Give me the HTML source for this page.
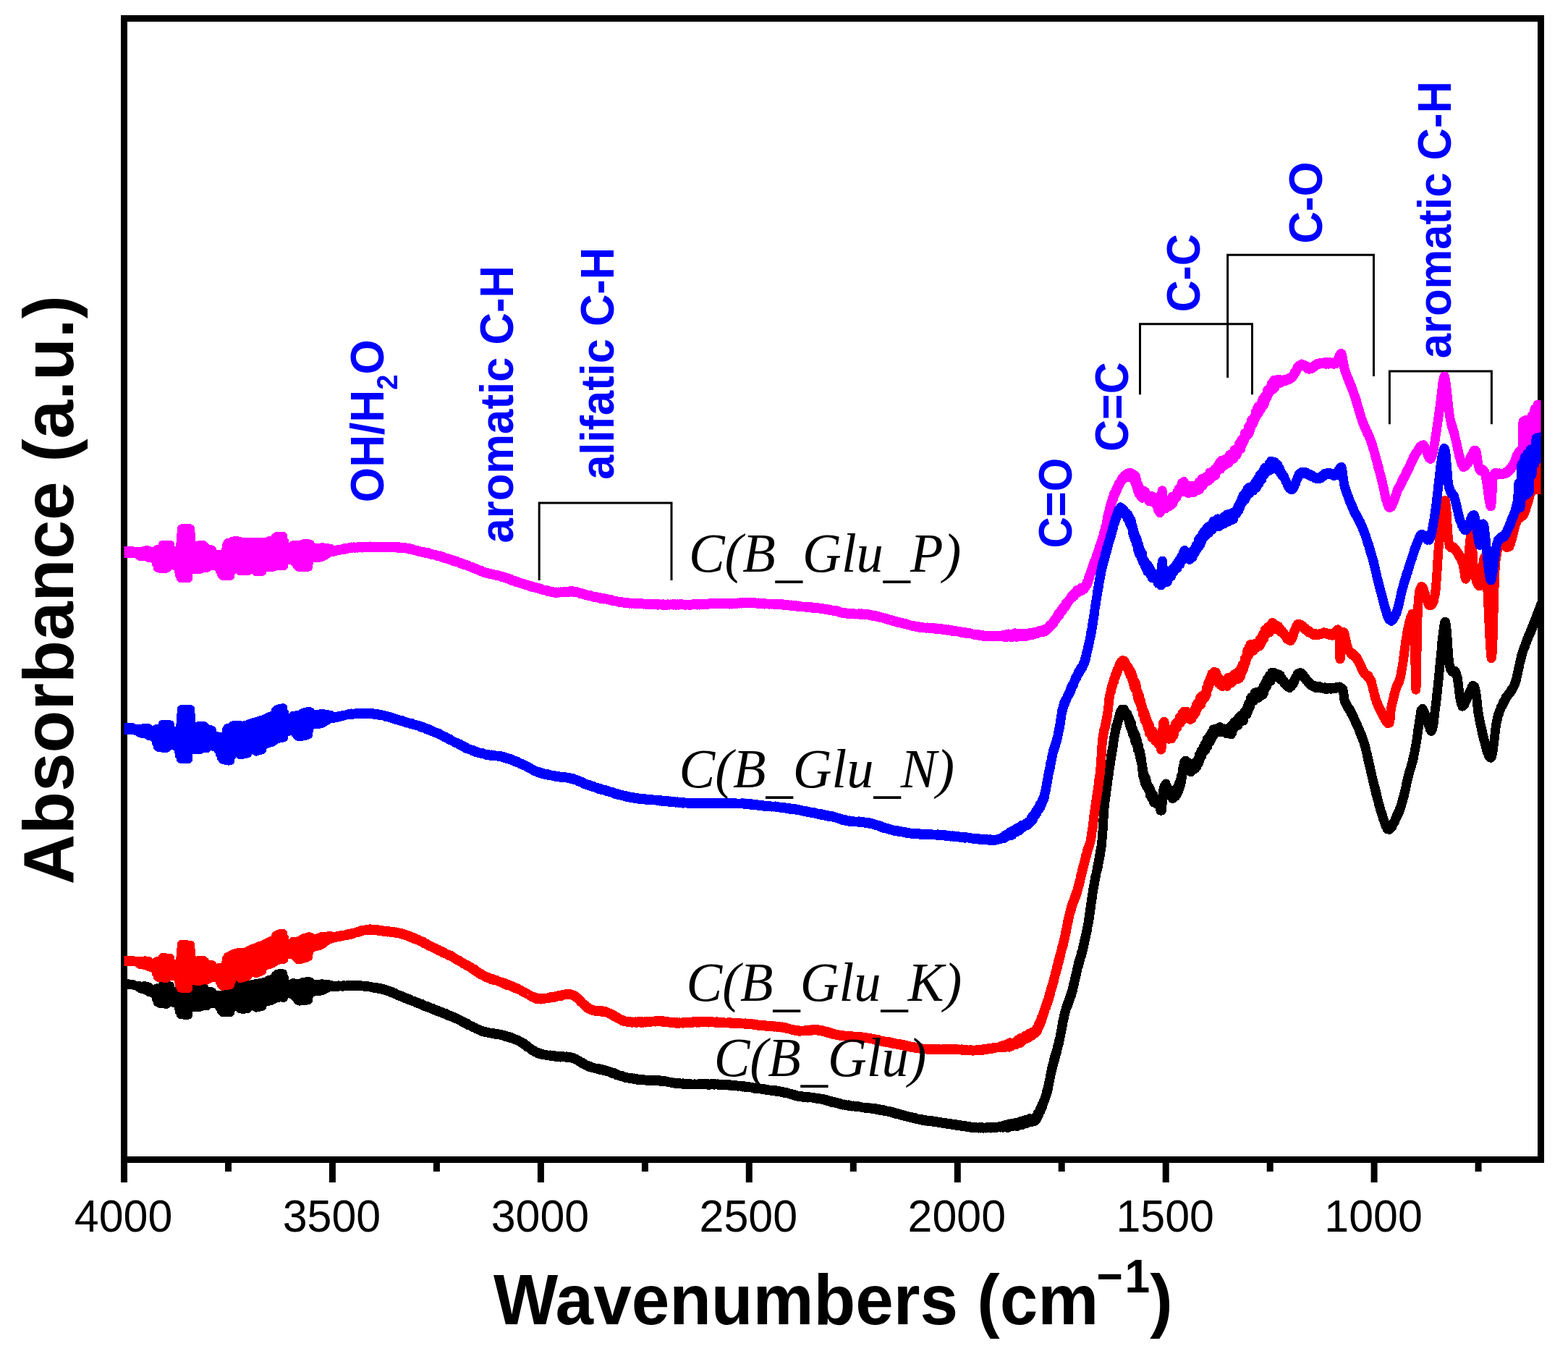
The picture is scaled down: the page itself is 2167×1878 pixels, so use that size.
<!DOCTYPE html>
<html><head><meta charset="utf-8"><title>FTIR spectra</title><style>html,body{margin:0;padding:0;background:#fff;overflow:hidden;}svg{display:block;}</style></head><body>
<svg width="2167" height="1878" viewBox="0 0 2167 1878">
<rect width="2167" height="1878" fill="#fff"/>
<defs><clipPath id="pc"><rect x="171.5" y="0" width="1958.0" height="1878"/></clipPath></defs>
<rect x="171.5" y="25.5" width="1958.0" height="1577.0" fill="none" stroke="#000" stroke-width="9"/>
<path d="M171.5 1602.5V1634.0M315.5 1602.5V1619.0M459.4 1602.5V1634.0M603.4 1602.5V1619.0M747.4 1602.5V1634.0M891.4 1602.5V1619.0M1035.3 1602.5V1634.0M1179.3 1602.5V1619.0M1323.3 1602.5V1634.0M1467.2 1602.5V1619.0M1611.2 1602.5V1634.0M1755.2 1602.5V1619.0M1899.1 1602.5V1634.0M2043.1 1602.5V1619.0" stroke="#000" stroke-width="9" fill="none"/>
<path d="M745.2 802V695H928V802M1575.5 545.3V447.7H1730.5V545.3M1696.6 522V352.3H1898.5V520M1920.4 586.3V512.9H2061.4V586.3" stroke="#000" stroke-width="3" fill="none"/>
<g clip-path="url(#pc)" fill="none" stroke-width="12.8" stroke-linejoin="round" stroke-linecap="round" shape-rendering="crispEdges">
<path d="M171.0 1359.0L172.0 1359.6L173.0 1359.2L174.0 1359.8L175.0 1359.4L176.0 1360.1L177.0 1359.7L178.0 1360.3L179.0 1359.9L180.0 1360.5L181.0 1360.1L182.0 1360.7L183.0 1360.3L184.0 1361.2L185.0 1361.1L186.0 1361.7L187.0 1361.9L188.0 1362.0L189.0 1362.1L190.0 1362.6L191.0 1362.4L192.0 1364.5L193.0 1362.6L194.0 1366.0L195.0 1362.9L196.0 1366.5L197.0 1363.1L198.0 1367.0L199.0 1362.7L200.0 1367.5L201.0 1362.8L202.0 1368.0L203.0 1363.3L204.0 1369.4L205.0 1363.8L206.0 1370.7L207.0 1365.8L208.0 1371.2L209.0 1368.0L210.0 1371.7L211.0 1368.7L212.0 1372.2L213.0 1369.2L214.0 1374.9L215.0 1366.4L216.0 1380.1L217.0 1365.8L218.0 1385.2L219.0 1366.2L220.0 1386.2L221.0 1366.4L222.0 1386.5L223.0 1365.0L224.0 1386.7L225.0 1361.4L226.0 1387.0L227.0 1361.7L228.0 1387.3L229.0 1361.9L230.0 1387.5L231.0 1362.2L232.0 1386.2L233.0 1362.4L234.0 1381.4L235.0 1362.7L236.0 1381.7L237.0 1370.3L238.0 1383.7L239.0 1373.4L240.0 1385.5L241.0 1371.9L242.0 1385.8L243.0 1370.5L244.0 1386.0L245.0 1370.7L246.0 1386.3L247.0 1370.9L248.0 1397.7L249.0 1364.7L250.0 1401.8L251.0 1345.9L252.0 1402.1L253.0 1346.2L254.0 1402.3L255.0 1346.4L256.0 1402.4L257.0 1346.4L258.0 1402.4L259.0 1346.3L260.0 1402.3L261.0 1346.3L262.0 1387.9L263.0 1346.3L264.0 1387.8L265.0 1363.5L266.0 1387.8L267.0 1369.0L268.0 1391.7L269.0 1368.9L270.0 1391.6L271.0 1368.5L272.0 1391.6L273.0 1366.8L274.0 1391.6L275.0 1365.5L276.0 1391.5L277.0 1365.5L278.0 1390.9L279.0 1365.4L280.0 1389.8L281.0 1365.4L282.0 1389.8L283.0 1366.7L284.0 1389.7L285.0 1370.3L286.0 1389.7L287.0 1370.3L288.0 1386.9L289.0 1370.3L290.0 1386.9L291.0 1370.2L292.0 1386.8L293.0 1370.8L294.0 1386.8L295.0 1375.0L296.0 1386.7L297.0 1375.7L298.0 1386.7L299.0 1375.6L300.0 1386.6L301.0 1375.6L302.0 1389.3L303.0 1375.5L304.0 1393.0L305.0 1375.5L306.0 1396.7L307.0 1377.5L308.0 1398.7L309.0 1378.5L310.0 1398.6L311.0 1374.2L312.0 1398.6L313.0 1364.9L314.0 1398.5L315.0 1361.9L316.0 1398.6L317.0 1362.1L318.0 1398.7L319.0 1362.1L320.0 1393.7L321.0 1360.5L322.0 1387.4L323.0 1360.3L324.0 1387.5L325.0 1360.5L326.0 1387.7L327.0 1360.6L328.0 1387.8L329.0 1360.8L330.0 1391.3L331.0 1361.1L332.0 1394.1L333.0 1362.4L334.0 1394.2L335.0 1362.6L336.0 1394.2L337.0 1362.6L338.0 1394.3L339.0 1362.7L340.0 1394.1L341.0 1362.3L342.0 1393.7L343.0 1362.0L344.0 1390.9L345.0 1361.3L346.0 1389.1L347.0 1360.7L348.0 1388.8L349.0 1360.3L350.0 1388.4L351.0 1360.0L352.0 1391.2L353.0 1359.6L354.0 1392.2L355.0 1359.3L356.0 1391.8L357.0 1358.9L358.0 1391.4L359.0 1358.6L360.0 1391.1L361.0 1358.2L362.0 1390.6L363.0 1357.8L364.0 1386.3L365.0 1357.3L366.0 1384.7L367.0 1356.7L368.0 1384.2L369.0 1356.0L370.0 1383.6L371.0 1354.6L372.0 1383.2L373.0 1354.1L374.0 1382.7L375.0 1353.6L376.0 1382.2L377.0 1353.2L378.0 1381.2L379.0 1352.5L380.0 1379.6L381.0 1347.8L382.0 1379.1L383.0 1346.2L384.0 1378.7L385.0 1345.7L386.0 1378.2L387.0 1345.3L388.0 1377.9L389.0 1345.3L390.0 1378.2L391.0 1345.7L392.0 1378.4L393.0 1351.9L394.0 1373.6L395.0 1361.3L396.0 1372.5L397.0 1361.6L398.0 1372.8L399.0 1361.9L400.0 1373.1L401.0 1362.2L402.0 1373.5L403.0 1361.5L404.0 1373.8L405.0 1358.5L406.0 1375.1L407.0 1358.8L408.0 1377.6L409.0 1359.1L410.0 1380.0L411.0 1359.4L412.0 1382.4L413.0 1359.4L414.0 1383.2L415.0 1359.2L416.0 1383.0L417.0 1358.1L418.0 1382.8L419.0 1357.2L420.0 1382.6L421.0 1357.0L422.0 1382.4L423.0 1356.8L424.0 1382.2L425.0 1356.7L426.0 1381.7L427.0 1356.5L428.0 1373.0L429.0 1357.2L430.0 1370.6L431.0 1360.9L432.0 1370.4L433.0 1360.9L434.0 1370.2L435.0 1360.7L436.0 1370.0L437.0 1360.6L438.0 1370.0L439.0 1360.6L440.0 1370.0L441.0 1360.4L442.0 1369.6L443.0 1360.0L444.0 1369.1L445.0 1359.6L446.0 1368.4L447.0 1359.9L448.0 1367.3L449.0 1360.1L450.0 1366.3L451.0 1360.4L452.0 1365.2L453.0 1360.6L454.0 1364.1L455.0 1360.8L456.0 1363.1L457.0 1361.1L458.0 1363.9L460.0 1362.4L461.0 1364.1L462.1 1362.7L463.4 1363.7L464.8 1362.3L466.4 1363.6L468.0 1361.9L469.7 1363.0L471.5 1362.2L473.3 1363.3L475.1 1361.7L477.0 1363.0L478.8 1361.8L480.6 1362.7L482.3 1361.2L484.0 1362.5L485.6 1361.0L487.2 1362.9L488.9 1361.7L490.5 1362.4L492.1 1361.4L493.8 1363.1L495.4 1361.7L497.1 1362.8L498.7 1361.8L500.3 1362.8L502.0 1362.2L503.6 1363.4L505.2 1362.3L506.9 1363.6L508.5 1362.8L510.1 1364.0L511.7 1363.1L513.4 1364.4L515.0 1363.9L516.6 1365.3L518.2 1364.0L519.8 1365.7L521.4 1364.8L523.0 1366.6L524.7 1365.0L526.3 1366.7L527.9 1366.1L529.5 1367.9L531.1 1366.7L532.7 1369.0L534.2 1367.9L535.7 1369.9L537.2 1368.8L538.7 1370.6L540.2 1370.0L541.7 1372.2L543.2 1371.0L544.8 1373.2L546.3 1372.5L547.8 1374.2L549.3 1374.1L550.8 1376.1L552.3 1375.3L553.8 1377.0L555.3 1376.5L556.8 1378.6L558.3 1377.6L559.8 1379.6L561.3 1379.0L562.8 1380.9L564.4 1380.0L565.9 1382.1L567.4 1381.5L568.9 1383.3L570.4 1383.0L571.9 1384.2L573.4 1383.7L575.0 1386.1L576.5 1385.0L578.0 1386.9L579.5 1386.5L581.0 1388.2L582.5 1387.1L584.0 1389.5L585.5 1388.6L587.0 1390.8L588.5 1390.0L590.0 1391.7L591.5 1390.7L593.0 1392.9L594.5 1392.2L596.0 1393.9L597.5 1393.3L599.0 1395.6L600.5 1394.9L602.0 1396.6L603.5 1395.5L605.0 1397.9L606.5 1396.8L608.0 1399.1L609.5 1398.1L611.0 1400.1L612.5 1399.4L614.0 1400.9L615.5 1400.2L617.0 1402.4L618.5 1401.9L620.0 1403.6L621.5 1402.9L623.0 1404.7L624.5 1404.3L626.0 1406.1L627.5 1405.4L629.0 1407.5L630.4 1406.8L631.9 1408.5L633.4 1408.4L634.9 1410.0L636.4 1409.7L638.0 1412.0L639.5 1411.1L641.0 1413.5L642.5 1412.6L644.0 1414.7L645.5 1414.1L646.9 1416.5L648.4 1416.1L649.7 1417.4L651.1 1417.5L652.4 1419.2L653.6 1418.5L655.4 1420.2L657.0 1419.9L658.5 1421.9L659.8 1421.7L661.2 1423.1L662.5 1422.6L663.8 1424.3L665.2 1423.9L666.7 1425.7L668.3 1424.9L670.0 1426.5L671.4 1425.7L672.8 1427.0L674.3 1426.4L675.9 1427.9L677.4 1427.1L679.1 1428.2L680.7 1427.2L682.4 1429.0L684.0 1428.2L685.7 1429.6L687.4 1428.3L689.1 1429.8L690.7 1429.5L692.4 1430.6L694.0 1429.8L695.6 1431.4L697.2 1430.7L698.8 1432.7L700.4 1431.7L702.0 1433.3L703.6 1432.4L705.2 1434.7L706.8 1433.7L708.4 1435.4L710.0 1434.8L711.6 1436.7L713.2 1436.1L714.8 1438.0L716.4 1437.5L718.0 1439.3L719.3 1439.2L720.7 1441.5L722.1 1440.4L723.4 1442.7L724.8 1442.2L726.1 1444.6L727.5 1444.1L728.9 1446.9L730.2 1446.5L731.6 1448.5L733.0 1448.7L734.3 1450.9L735.7 1450.6L737.1 1452.7L738.4 1451.7L739.8 1454.1L741.1 1453.7L742.5 1455.6L744.1 1454.4L745.7 1456.7L747.4 1455.8L749.0 1457.4L750.6 1456.7L752.2 1458.0L753.8 1457.1L755.4 1458.7L757.0 1457.9L758.6 1458.9L760.2 1458.0L761.9 1459.5L763.5 1458.5L765.1 1459.9L766.7 1458.7L768.3 1460.7L769.9 1459.7L771.6 1460.5L773.2 1459.6L774.8 1461.2L776.4 1459.4L778.1 1460.9L779.7 1459.9L781.3 1461.2L782.9 1459.7L784.5 1461.7L786.2 1460.4L787.8 1462.1L789.4 1460.8L791.0 1462.6L792.5 1461.5L794.0 1463.5L795.5 1462.9L797.0 1464.8L798.5 1464.8L800.0 1467.0L801.5 1466.5L803.0 1468.6L804.5 1467.9L806.0 1470.4L807.5 1469.8L809.0 1471.7L810.5 1471.5L812.0 1473.6L813.5 1472.7L815.0 1475.0L816.6 1473.6L818.2 1475.5L819.8 1474.9L821.4 1476.3L823.0 1476.0L824.6 1477.1L826.2 1476.1L827.8 1478.2L829.4 1476.8L831.0 1478.6L832.6 1477.6L834.2 1479.6L835.8 1478.6L837.4 1480.2L839.0 1479.5L840.5 1480.8L842.0 1480.5L843.6 1482.4L845.1 1481.4L846.6 1483.6L848.1 1482.6L849.7 1484.3L851.2 1483.6L852.7 1485.9L854.2 1485.3L855.8 1487.0L857.3 1486.4L858.8 1487.6L860.4 1486.8L861.9 1488.5L863.4 1488.1L865.0 1490.0L866.6 1488.8L868.3 1490.1L869.9 1489.6L871.5 1490.7L873.1 1489.7L874.7 1491.1L876.3 1490.0L877.9 1491.7L879.5 1490.4L881.2 1492.5L882.8 1491.2L884.4 1492.4L886.0 1491.4L887.6 1492.6L889.2 1491.6L890.8 1492.8L892.4 1492.2L894.1 1493.6L895.7 1492.2L897.3 1493.5L898.9 1492.2L900.5 1493.3L902.1 1492.5L903.7 1493.9L905.3 1492.0L907.0 1494.0L908.6 1492.8L910.2 1493.7L911.8 1492.7L913.4 1494.6L915.0 1493.1L916.6 1494.8L918.3 1493.5L919.9 1495.0L921.5 1494.1L923.1 1495.6L924.7 1494.9L926.3 1496.0L927.9 1495.4L929.6 1497.1L931.2 1495.8L932.8 1497.4L934.4 1496.1L936.0 1498.0L937.6 1496.6L939.2 1497.8L940.8 1496.9L942.4 1498.1L944.0 1496.8L945.6 1498.7L947.2 1497.3L948.8 1498.4L950.4 1497.3L952.0 1498.8L953.6 1497.4L955.2 1498.6L956.8 1497.9L958.4 1498.7L960.0 1497.9L961.6 1499.0L963.2 1498.0L964.8 1498.7L966.4 1497.6L968.0 1498.9L969.6 1497.5L971.2 1499.0L972.8 1497.4L974.4 1498.7L976.0 1497.6L977.6 1499.1L979.2 1497.9L980.8 1499.2L982.4 1497.8L984.0 1499.1L985.6 1497.4L987.2 1499.3L988.9 1497.9L990.5 1498.9L992.1 1497.9L993.8 1499.6L995.4 1498.2L997.1 1499.7L998.7 1498.5L1000.3 1499.9L1002.0 1498.7L1003.6 1499.7L1005.2 1498.3L1006.9 1500.2L1008.5 1498.6L1010.1 1500.5L1011.7 1498.9L1013.4 1500.7L1015.0 1499.6L1016.6 1500.8L1018.2 1499.9L1019.8 1501.3L1021.4 1499.9L1023.0 1501.3L1024.7 1500.7L1026.3 1502.2L1027.9 1500.5L1029.5 1502.3L1031.1 1501.1L1032.7 1502.9L1034.3 1501.6L1035.9 1503.0L1037.5 1502.1L1039.1 1503.3L1040.7 1502.8L1042.3 1504.1L1043.9 1503.0L1045.6 1504.5L1047.2 1503.7L1048.8 1504.8L1050.4 1504.1L1052.0 1505.2L1053.6 1504.5L1055.2 1506.1L1056.8 1504.9L1058.4 1506.3L1060.0 1505.2L1061.6 1506.6L1063.3 1506.1L1064.9 1507.2L1066.5 1506.1L1068.1 1507.7L1069.7 1506.6L1071.3 1508.2L1072.9 1506.8L1074.6 1508.4L1076.2 1507.5L1077.8 1509.0L1079.4 1508.2L1081.0 1509.6L1082.6 1508.6L1084.2 1510.6L1085.8 1509.2L1087.4 1511.0L1089.0 1510.2L1090.6 1511.7L1092.2 1511.5L1093.8 1512.9L1095.4 1511.8L1097.0 1513.6L1098.6 1512.7L1100.2 1514.9L1101.8 1513.8L1103.4 1515.5L1105.0 1514.1L1106.6 1515.8L1108.2 1514.7L1109.9 1516.5L1111.5 1515.1L1113.1 1516.9L1114.7 1515.2L1116.4 1517.2L1118.0 1515.7L1119.6 1516.9L1121.3 1516.1L1122.9 1517.2L1124.5 1516.2L1126.2 1517.9L1127.8 1517.0L1129.4 1518.4L1131.0 1517.1L1132.7 1518.8L1134.4 1518.0L1136.1 1519.4L1137.8 1518.6L1139.5 1520.2L1141.2 1519.3L1142.8 1521.6L1144.5 1520.5L1146.1 1522.1L1147.7 1521.1L1149.3 1523.5L1150.8 1522.5L1152.2 1524.1L1153.6 1522.7L1155.5 1524.8L1157.2 1523.7L1158.8 1525.5L1160.3 1524.3L1161.8 1526.6L1163.2 1525.4L1164.7 1527.2L1166.3 1526.0L1168.0 1527.4L1170.0 1526.8L1171.4 1527.9L1172.9 1526.8L1174.4 1528.9L1176.0 1527.8L1177.7 1529.1L1179.4 1528.0L1181.1 1529.2L1182.8 1528.5L1184.6 1529.7L1186.3 1528.6L1188.1 1529.9L1189.8 1529.4L1191.6 1530.7L1193.3 1530.0L1195.0 1531.2L1196.7 1530.0L1198.4 1531.8L1200.0 1530.7L1201.7 1531.9L1203.4 1530.9L1205.1 1532.3L1206.8 1531.3L1208.4 1532.7L1210.1 1531.7L1211.8 1533.6L1213.5 1532.1L1215.2 1534.3L1216.8 1532.9L1218.5 1534.5L1220.2 1533.3L1221.8 1535.4L1223.3 1534.2L1224.9 1535.8L1226.5 1535.1L1228.0 1536.4L1229.6 1535.5L1231.2 1537.2L1232.8 1536.4L1234.3 1538.3L1235.9 1537.0L1237.5 1539.3L1239.0 1537.9L1240.6 1539.7L1242.2 1539.0L1243.7 1540.8L1245.3 1540.0L1246.9 1541.6L1248.4 1540.8L1250.0 1542.4L1251.6 1541.8L1253.2 1543.2L1254.7 1542.4L1256.3 1543.9L1257.9 1543.2L1259.5 1545.1L1261.1 1543.8L1262.6 1545.7L1264.2 1544.6L1265.8 1546.3L1267.4 1545.7L1268.9 1546.8L1270.5 1546.3L1272.2 1547.8L1273.9 1546.5L1275.5 1548.6L1277.2 1547.3L1278.9 1549.2L1280.5 1547.9L1282.2 1549.6L1283.9 1548.4L1285.6 1550.0L1287.2 1548.4L1288.9 1550.2L1290.6 1549.5L1292.3 1550.9L1293.9 1549.7L1295.6 1551.2L1297.3 1550.5L1298.9 1551.7L1300.6 1550.7L1302.3 1552.2L1304.0 1550.9L1305.6 1552.8L1307.3 1551.5L1309.0 1553.5L1310.7 1552.0L1312.3 1553.7L1314.0 1552.5L1315.7 1554.3L1317.4 1553.1L1319.0 1554.8L1320.7 1553.7L1322.4 1555.3L1324.0 1554.1L1325.7 1556.1L1327.4 1554.5L1329.1 1556.6L1330.7 1555.1L1332.4 1557.1L1334.1 1555.8L1335.8 1557.3L1337.4 1556.6L1339.1 1558.1L1340.8 1556.6L1342.4 1558.4L1344.1 1557.5L1345.8 1558.9L1347.5 1557.5L1349.2 1558.8L1350.8 1557.9L1352.5 1559.0L1354.2 1557.5L1355.9 1559.0L1357.6 1557.8L1359.2 1559.1L1360.9 1558.0L1362.6 1559.0L1364.3 1557.3L1366.0 1559.0L1367.6 1557.6L1369.3 1558.9L1371.0 1557.3L1372.7 1558.4L1374.3 1557.4L1376.0 1558.7L1377.7 1557.1L1379.3 1557.9L1381.0 1556.4L1382.7 1558.2L1384.3 1556.2L1386.0 1558.3L1387.7 1554.9L1389.3 1557.7L1391.0 1554.2L1392.7 1558.6L1394.3 1552.9L1396.0 1557.3L1397.6 1552.8L1399.2 1556.6L1400.9 1552.3L1402.5 1555.8L1404.2 1551.0L1405.9 1556.7L1407.6 1551.3L1409.3 1554.4L1410.9 1548.9L1412.5 1554.7L1414.1 1548.4L1415.6 1552.2L1417.1 1547.4L1418.5 1552.7L1419.8 1547.9L1421.0 1551.4L1423.0 1545.7L1424.7 1551.1L1426.2 1546.2L1427.5 1549.9L1428.7 1545.3L1429.9 1549.5L1431.1 1542.9L1432.4 1546.9L1433.7 1539.0L1434.3 1543.3L1435.0 1538.0L1435.6 1540.8L1436.3 1536.0L1437.0 1537.3L1437.6 1532.0L1438.3 1534.9L1438.9 1529.0L1439.6 1531.5L1440.3 1526.0L1440.9 1529.1L1441.6 1523.7L1442.2 1524.5L1442.8 1520.2L1443.4 1521.7L1444.0 1517.4L1444.6 1517.7L1445.1 1514.1L1445.7 1515.0L1446.2 1509.3L1446.6 1511.2L1447.1 1507.8L1447.5 1509.1L1447.8 1503.4L1448.2 1506.4L1448.6 1500.6L1448.9 1502.2L1449.2 1497.1L1449.5 1498.7L1449.9 1494.2L1450.2 1495.4L1450.5 1491.5L1450.8 1492.9L1451.1 1488.2L1451.4 1489.1L1451.7 1485.2L1452.0 1486.9L1452.3 1481.5L1452.7 1483.2L1453.0 1478.7L1453.4 1480.2L1453.8 1475.2L1454.2 1476.8L1454.6 1471.1L1455.0 1474.4L1455.4 1469.5L1455.8 1471.0L1456.2 1465.0L1456.6 1467.0L1457.0 1462.7L1457.5 1464.3L1457.9 1458.6L1458.4 1460.9L1458.8 1455.5L1459.2 1458.3L1459.7 1453.6L1460.1 1455.4L1460.6 1450.7L1461.0 1450.9L1461.4 1446.4L1461.8 1447.6L1462.2 1443.7L1462.6 1444.5L1463.0 1440.4L1463.4 1442.6L1463.8 1436.5L1464.2 1438.0L1464.5 1434.8L1464.8 1436.2L1465.2 1431.6L1465.5 1432.0L1465.8 1428.2L1466.1 1428.5L1466.4 1425.1L1466.7 1426.2L1467.0 1420.6L1467.3 1423.0L1467.6 1417.2L1467.9 1419.7L1468.2 1414.8L1468.5 1416.5L1468.8 1410.6L1469.1 1413.3L1469.4 1408.7L1469.7 1409.2L1470.0 1404.5L1470.4 1407.1L1470.7 1402.5L1471.0 1404.2L1471.4 1399.3L1471.9 1400.9L1472.4 1396.7L1472.9 1397.2L1473.4 1392.7L1473.9 1393.7L1474.5 1388.8L1475.0 1391.0L1475.6 1386.0L1476.1 1388.4L1476.7 1382.9L1477.2 1385.4L1477.8 1379.9L1478.3 1381.6L1478.9 1376.4L1479.4 1378.4L1479.9 1373.4L1480.4 1376.5L1480.9 1370.4L1481.4 1371.8L1481.8 1368.5L1482.3 1370.0L1482.7 1364.6L1483.1 1365.9L1483.5 1360.4L1483.9 1362.0L1484.2 1357.9L1484.6 1359.4L1485.0 1355.2L1485.4 1355.9L1485.7 1350.8L1486.1 1353.4L1486.4 1348.7L1486.8 1349.5L1487.2 1345.3L1487.5 1346.7L1487.9 1342.1L1488.3 1342.2L1488.6 1338.4L1489.0 1340.3L1489.4 1335.3L1489.9 1335.8L1490.3 1331.1L1490.8 1333.8L1491.2 1327.8L1491.7 1329.8L1492.1 1325.5L1492.5 1326.6L1493.0 1322.2L1493.4 1323.7L1493.9 1319.4L1494.3 1321.3L1494.7 1315.2L1495.2 1317.7L1495.6 1313.3L1496.1 1314.4L1496.5 1309.2L1496.8 1311.8L1497.2 1305.8L1497.5 1308.6L1497.9 1303.0L1498.2 1305.2L1498.5 1299.8L1498.9 1302.8L1499.2 1297.9L1499.6 1298.7L1499.9 1294.7L1500.2 1296.2L1500.6 1292.1L1500.9 1292.8L1501.3 1288.0L1501.6 1289.0L1502.0 1284.3L1502.3 1286.6L1502.6 1281.7L1503.0 1282.5L1503.3 1278.0L1503.7 1278.8L1504.0 1273.5L1504.2 1275.8L1504.5 1271.1L1504.7 1272.3L1505.0 1267.4L1505.2 1269.5L1505.5 1265.3L1505.7 1265.9L1505.9 1260.9L1506.2 1263.3L1506.4 1257.7L1506.7 1260.7L1506.9 1254.2L1507.1 1257.1L1507.4 1250.8L1507.6 1253.8L1507.9 1247.6L1508.1 1249.0L1508.4 1244.6L1508.6 1246.3L1508.8 1240.3L1509.1 1243.2L1509.3 1237.4L1509.6 1239.8L1509.8 1234.7L1510.0 1236.9L1510.3 1231.0L1510.5 1232.7L1510.8 1228.2L1511.0 1230.7L1511.3 1225.1L1511.5 1226.3L1511.8 1222.4L1512.2 1223.5L1512.5 1218.0L1512.8 1220.2L1513.2 1215.0L1513.5 1215.8L1513.9 1210.6L1514.2 1211.7L1514.6 1208.3L1514.9 1209.2L1515.3 1204.7L1515.6 1205.2L1516.0 1201.5L1516.3 1203.0L1516.6 1197.9L1517.0 1198.9L1517.3 1195.6L1517.6 1197.2L1517.9 1191.6L1518.2 1193.1L1518.5 1188.3L1518.7 1189.9L1519.0 1186.3L1519.3 1188.1L1519.6 1182.1L1519.9 1183.7L1520.2 1178.6L1520.5 1181.2L1520.7 1175.6L1521.0 1178.8L1521.2 1173.6L1521.4 1175.6L1521.6 1170.5L1521.9 1173.1L1522.1 1167.0L1522.3 1169.6L1522.5 1163.7L1522.7 1166.5L1522.9 1160.9L1523.1 1161.1L1523.2 1156.6L1523.3 1159.4L1523.5 1154.2L1523.6 1156.0L1523.7 1151.5L1523.8 1153.7L1523.9 1147.7L1524.0 1150.1L1524.1 1145.9L1524.2 1147.3L1524.3 1141.9L1524.4 1142.9L1524.4 1138.8L1524.5 1140.4L1524.6 1135.9L1524.7 1135.9L1524.8 1132.0L1524.9 1133.8L1525.0 1127.7L1525.2 1130.5L1525.3 1124.6L1525.4 1126.3L1525.5 1121.1L1525.6 1122.8L1525.8 1117.7L1525.9 1119.9L1526.1 1113.6L1526.2 1115.9L1526.4 1110.9L1526.6 1112.5L1526.8 1108.2L1527.0 1109.5L1527.2 1104.4L1527.4 1106.2L1527.6 1100.4L1527.8 1102.2L1528.0 1097.6L1528.2 1100.2L1528.5 1094.0L1528.7 1096.0L1528.9 1091.2L1529.2 1092.4L1529.4 1086.8L1529.6 1089.8L1529.9 1083.9L1530.1 1086.5L1530.3 1080.2L1530.6 1083.2L1530.8 1077.9L1531.0 1079.3L1531.3 1074.1L1531.5 1076.1L1531.7 1071.1L1531.9 1073.3L1532.1 1068.9L1532.3 1070.4L1532.5 1066.5L1532.8 1066.9L1533.1 1062.1L1533.3 1062.5L1533.6 1058.8L1533.8 1059.4L1534.1 1054.2L1534.3 1056.6L1534.5 1052.0L1534.8 1054.2L1535.0 1048.9L1535.2 1050.3L1535.5 1045.0L1535.7 1047.5L1535.9 1042.6L1536.2 1044.7L1536.4 1039.4L1536.7 1041.5L1536.9 1036.3L1537.2 1038.7L1537.5 1032.6L1537.7 1033.8L1538.0 1030.3L1538.2 1032.0L1538.5 1026.7L1538.7 1026.9L1539.0 1023.2L1539.2 1024.3L1539.5 1018.6L1539.7 1020.7L1540.0 1015.6L1540.3 1018.1L1540.6 1013.4L1540.9 1014.5L1541.2 1008.6L1541.6 1011.2L1541.9 1006.3L1542.3 1007.8L1542.7 1002.6L1543.2 1005.5L1543.8 1000.1L1544.3 1000.5L1544.9 995.1L1545.5 996.2L1546.1 991.1L1546.7 991.2L1547.4 986.7L1548.1 987.7L1548.8 982.4L1549.5 985.4L1550.3 980.1L1551.1 983.5L1551.9 980.4L1552.8 983.0L1553.3 980.1L1553.9 983.8L1554.4 981.7L1555.0 986.6L1555.7 984.2L1556.3 989.1L1557.0 986.6L1557.6 991.2L1558.3 987.3L1559.0 994.1L1559.7 991.3L1560.4 998.4L1561.1 993.3L1561.8 1004.3L1562.5 998.8L1563.1 1006.7L1563.8 999.9L1564.5 1011.0L1565.1 1006.2L1565.8 1015.7L1566.4 1009.3L1567.0 1018.0L1567.6 1014.0L1568.1 1023.4L1568.6 1014.4L1569.1 1026.0L1569.7 1016.2L1570.3 1026.8L1570.9 1021.6L1571.4 1031.0L1571.9 1024.1L1572.4 1036.1L1572.9 1029.7L1573.4 1037.0L1573.8 1030.9L1574.2 1040.8L1574.6 1036.5L1574.9 1043.0L1575.3 1037.8L1575.6 1047.7L1576.0 1039.0L1576.3 1050.3L1576.6 1043.3L1576.9 1051.5L1577.2 1046.9L1577.6 1055.4L1577.9 1049.6L1578.2 1059.0L1578.4 1055.1L1578.6 1062.8L1578.7 1057.3L1578.9 1065.9L1579.1 1059.8L1579.3 1068.3L1579.5 1061.8L1579.8 1073.6L1580.2 1066.5L1580.6 1074.1L1581.1 1070.5L1581.6 1079.9L1582.1 1072.3L1582.7 1083.7L1583.3 1074.5L1583.9 1084.8L1584.6 1079.3L1585.2 1087.9L1585.8 1083.9L1586.5 1090.2L1587.1 1086.3L1587.7 1092.8L1588.5 1088.3L1589.3 1098.9L1590.2 1091.8L1591.1 1102.3L1591.9 1096.6L1592.8 1103.5L1593.7 1098.2L1594.5 1109.2L1595.3 1101.4L1596.0 1107.8L1597.7 1105.8L1599.3 1111.6L1600.7 1104.7L1602.0 1112.2L1603.0 1109.6L1603.8 1120.2L1604.5 1111.7L1605.3 1120.2L1605.5 1111.9L1605.7 1119.0L1605.9 1111.7L1606.0 1115.1L1606.2 1107.7L1606.4 1110.9L1606.5 1100.9L1606.7 1108.4L1606.9 1099.6L1607.1 1101.5L1607.3 1092.4L1607.6 1097.5L1607.9 1090.3L1608.2 1094.7L1608.5 1088.4L1608.9 1091.3L1609.3 1086.2L1610.2 1091.6L1611.3 1082.9L1612.5 1094.3L1613.8 1088.6L1615.2 1098.0L1616.5 1092.2L1617.9 1100.7L1619.2 1094.6L1620.4 1103.8L1621.5 1094.4L1622.5 1102.2L1623.6 1091.6L1624.6 1100.4L1625.7 1089.3L1626.7 1097.6L1627.7 1086.9L1628.6 1093.2L1629.5 1082.2L1630.4 1088.5L1630.9 1079.0L1631.3 1085.8L1631.7 1076.6L1632.1 1083.9L1632.5 1072.0L1632.9 1078.6L1633.3 1070.5L1633.7 1074.4L1634.0 1065.9L1634.4 1069.2L1634.7 1060.9L1635.1 1066.8L1635.5 1058.1L1635.8 1062.3L1636.2 1054.0L1636.6 1060.6L1637.0 1052.3L1637.4 1057.2L1638.7 1050.9L1639.9 1059.8L1641.3 1053.2L1642.6 1063.7L1644.0 1056.1L1645.5 1066.8L1646.5 1057.0L1647.6 1062.9L1648.7 1057.0L1649.8 1063.7L1650.9 1055.2L1652.1 1061.9L1653.2 1052.3L1654.4 1058.6L1655.5 1048.7L1656.3 1055.5L1657.0 1043.5L1657.8 1050.7L1658.5 1040.5L1659.3 1047.0L1660.0 1037.6L1660.8 1044.7L1661.6 1036.1L1662.3 1040.4L1663.1 1032.1L1663.9 1037.8L1664.8 1028.7L1665.6 1037.0L1666.4 1026.0L1667.2 1030.7L1668.0 1021.6L1668.9 1031.5L1669.7 1019.8L1670.6 1026.2L1671.4 1017.1L1672.3 1025.3L1673.2 1014.6L1674.0 1022.1L1674.9 1011.4L1675.8 1018.2L1676.7 1007.9L1677.6 1016.2L1679.2 1007.1L1680.9 1012.6L1682.6 1006.3L1684.3 1011.7L1686.0 1004.7L1687.7 1011.2L1689.2 1007.3L1690.7 1011.5L1692.8 1006.9L1694.8 1013.7L1696.6 1007.1L1698.3 1013.6L1700.0 1004.3L1701.0 1015.1L1702.0 1004.0L1702.9 1012.5L1703.9 1000.7L1704.8 1007.4L1705.8 997.9L1706.8 1004.4L1708.0 996.0L1709.0 1002.5L1710.1 995.7L1711.2 1002.3L1712.4 990.6L1713.6 998.3L1714.8 988.7L1716.0 996.2L1717.2 987.1L1718.4 996.2L1719.6 983.6L1720.3 989.5L1721.0 982.5L1721.8 988.1L1722.5 980.2L1723.2 986.9L1723.9 976.3L1724.7 983.1L1725.4 972.2L1726.1 979.0L1726.8 971.3L1727.6 976.4L1728.3 964.7L1729.0 971.3L1729.7 963.0L1730.5 970.2L1731.2 962.1L1732.7 968.5L1734.1 956.9L1735.6 964.0L1737.0 956.1L1738.5 964.7L1740.0 955.4L1741.4 962.4L1742.9 953.6L1743.7 959.5L1744.6 952.8L1745.4 960.4L1746.2 948.4L1747.1 956.4L1747.9 945.8L1748.7 951.6L1749.5 942.2L1750.4 949.4L1751.2 937.9L1752.0 943.8L1752.8 936.1L1753.7 942.6L1754.5 933.3L1756.1 941.5L1757.7 929.1L1759.2 935.7L1760.7 929.3L1762.4 934.2L1764.1 930.8L1766.0 934.4L1767.0 931.8L1768.1 937.5L1769.2 933.1L1770.4 939.6L1771.6 937.3L1772.8 941.1L1774.0 940.0L1775.2 944.9L1776.5 943.5L1777.7 946.9L1778.9 946.6L1780.1 949.6L1781.2 947.7L1782.3 950.6L1783.4 947.7L1784.4 948.9L1785.4 946.3L1786.4 946.7L1787.3 942.0L1788.3 943.2L1789.2 938.6L1790.2 938.7L1791.2 935.2L1792.1 935.6L1793.1 931.3L1794.1 933.2L1795.1 930.2L1796.2 931.6L1797.3 929.6L1798.3 932.1L1799.4 930.5L1800.5 934.5L1801.6 932.9L1802.7 936.9L1803.8 935.9L1804.9 940.0L1806.1 939.3L1807.3 942.7L1808.5 942.1L1809.8 945.4L1811.1 944.7L1812.5 947.7L1814.0 946.4L1815.5 949.3L1817.1 947.6L1818.8 950.7L1820.5 948.7L1822.2 950.3L1824.0 948.6L1825.7 951.2L1827.5 949.8L1829.2 951.7L1830.9 949.8L1832.6 952.7L1834.2 950.0L1835.7 952.2L1837.6 950.4L1839.6 952.4L1841.5 950.2L1843.4 951.9L1845.3 950.0L1847.1 951.3L1848.8 949.3L1850.4 950.9L1851.8 948.9L1853.2 951.6L1854.3 950.8L1855.2 953.5L1855.9 952.2L1856.4 956.4L1856.7 955.5L1856.9 959.8L1857.1 959.5L1857.3 962.9L1857.5 963.5L1857.8 967.1L1858.3 967.4L1858.9 971.0L1859.5 970.7L1860.2 973.4L1860.9 973.3L1861.6 976.1L1862.4 975.3L1863.2 979.1L1864.1 978.7L1865.0 981.8L1865.9 980.8L1866.8 985.0L1867.7 984.3L1868.6 988.1L1869.6 988.3L1870.5 992.1L1871.1 991.6L1871.7 994.8L1872.3 994.3L1872.9 997.6L1873.6 996.9L1874.3 1000.6L1874.9 999.7L1875.6 1003.1L1876.3 1003.0L1877.0 1006.3L1877.7 1006.6L1878.4 1010.0L1879.1 1009.9L1879.7 1013.6L1880.4 1012.4L1881.0 1016.5L1881.7 1015.8L1882.3 1019.5L1882.9 1019.1L1883.4 1022.7L1883.9 1022.2L1884.4 1025.3L1884.9 1024.6L1885.5 1028.7L1886.1 1028.8L1886.7 1032.4L1887.1 1031.9L1887.6 1036.1L1888.0 1035.4L1888.3 1039.5L1888.7 1038.9L1889.0 1041.8L1889.3 1041.3L1889.6 1045.1L1889.9 1044.4L1890.3 1048.9L1890.6 1047.7L1891.0 1051.1L1891.4 1050.7L1891.8 1055.0L1892.1 1054.6L1892.5 1057.7L1892.9 1057.6L1893.3 1060.9L1893.6 1060.4L1894.0 1064.8L1894.3 1063.8L1894.7 1067.7L1895.1 1066.9L1895.5 1070.7L1895.8 1070.4L1896.2 1074.1L1896.6 1074.5L1897.0 1077.3L1897.4 1077.6L1897.8 1081.3L1898.2 1080.7L1898.6 1084.2L1899.0 1083.7L1899.4 1087.3L1899.8 1087.0L1900.2 1091.1L1900.6 1090.0L1901.0 1094.2L1901.4 1093.3L1901.8 1098.0L1902.3 1096.7L1902.7 1100.7L1903.1 1100.6L1903.5 1103.6L1904.0 1103.2L1904.4 1106.9L1904.8 1106.9L1905.2 1110.6L1905.7 1110.8L1906.1 1113.7L1906.5 1113.2L1907.0 1117.3L1907.5 1116.4L1907.9 1121.0L1908.4 1120.5L1909.0 1123.9L1909.5 1123.7L1910.1 1126.9L1910.7 1126.8L1911.3 1131.4L1912.0 1130.7L1912.7 1134.6L1913.3 1134.9L1914.0 1138.9L1914.7 1139.0L1915.4 1142.3L1916.2 1141.4L1916.9 1145.7L1917.7 1143.7L1918.5 1146.1L1919.3 1144.3L1920.1 1146.6L1920.9 1143.7L1921.8 1145.0L1922.6 1142.6L1923.6 1143.4L1924.5 1139.6L1925.4 1139.3L1926.3 1135.9L1927.2 1136.7L1928.1 1131.8L1929.0 1132.2L1929.9 1127.8L1930.7 1128.9L1931.5 1124.4L1932.2 1125.4L1932.8 1121.8L1933.5 1122.8L1934.0 1118.8L1934.6 1119.8L1935.1 1115.7L1935.7 1116.7L1936.2 1112.7L1936.7 1113.1L1937.1 1109.4L1937.6 1109.9L1938.0 1106.8L1938.5 1107.0L1938.9 1102.9L1939.4 1103.6L1939.8 1099.8L1940.2 1101.1L1940.6 1096.7L1941.0 1097.4L1941.4 1093.2L1941.8 1094.5L1942.2 1090.3L1942.5 1090.4L1942.9 1087.1L1943.2 1087.0L1943.5 1083.4L1943.9 1084.1L1944.2 1080.7L1944.6 1081.0L1944.9 1077.1L1945.3 1077.8L1945.7 1074.0L1946.1 1074.6L1946.6 1070.3L1947.0 1071.1L1947.5 1067.4L1947.9 1068.2L1948.4 1064.7L1948.9 1064.2L1949.4 1061.1L1949.9 1061.0L1950.3 1057.2L1950.8 1057.7L1951.2 1054.8L1951.7 1054.6L1952.1 1051.1L1952.5 1051.9L1952.9 1047.3L1953.3 1048.7L1953.6 1044.4L1954.0 1044.5L1954.3 1041.8L1954.7 1041.9L1955.0 1037.7L1955.3 1038.2L1955.6 1034.2L1955.9 1035.3L1956.2 1031.4L1956.5 1032.1L1956.8 1028.7L1957.1 1028.3L1957.4 1024.5L1957.7 1025.1L1957.9 1022.1L1958.2 1021.8L1958.4 1018.1L1958.6 1018.4L1958.9 1015.3L1959.1 1015.1L1959.3 1011.6L1959.5 1012.3L1959.7 1008.5L1960.0 1009.2L1960.2 1004.5L1960.5 1005.9L1960.7 1002.4L1961.0 1002.2L1961.3 998.0L1961.6 998.9L1961.9 994.7L1962.2 994.1L1962.5 990.0L1962.8 990.0L1963.1 986.1L1963.5 985.6L1963.9 981.9L1964.3 983.4L1964.8 980.4L1965.4 981.6L1966.0 979.3L1966.5 982.4L1967.0 980.8L1967.6 984.4L1968.2 983.6L1968.9 986.6L1969.6 987.3L1970.3 991.1L1971.0 991.5L1971.7 995.1L1972.5 995.8L1973.2 999.2L1974.0 999.2L1974.7 1003.6L1975.4 1002.9L1976.0 1007.3L1976.7 1006.6L1977.3 1009.7L1977.8 1008.3L1978.3 1010.5L1978.7 1008.1L1979.1 1008.9L1979.5 1006.3L1979.9 1006.9L1980.2 1003.9L1980.5 1004.4L1980.8 1000.9L1981.1 1001.2L1981.3 997.8L1981.6 997.6L1981.8 994.1L1982.0 993.9L1982.2 989.9L1982.5 989.6L1982.7 985.4L1982.9 985.2L1983.1 981.8L1983.3 981.7L1983.6 977.8L1983.8 978.3L1984.0 974.4L1984.2 974.9L1984.4 972.0L1984.5 971.7L1984.7 969.3L1984.9 969.8L1985.0 966.1L1985.2 967.6L1985.3 963.8L1985.5 964.7L1985.6 961.2L1985.8 961.2L1985.9 958.3L1986.1 959.0L1986.2 954.8L1986.4 956.1L1986.6 951.4L1986.8 952.1L1987.0 947.9L1987.2 948.0L1987.5 943.8L1987.7 943.7L1988.0 938.9L1988.1 940.2L1988.3 936.5L1988.4 937.1L1988.6 933.2L1988.7 934.4L1988.9 930.5L1989.0 931.0L1989.2 926.8L1989.4 927.5L1989.5 923.8L1989.7 923.5L1989.9 919.6L1990.1 919.3L1990.2 915.8L1990.4 916.3L1990.6 912.0L1990.8 911.7L1991.0 907.3L1991.2 908.0L1991.4 903.2L1991.6 903.5L1991.8 899.3L1992.0 899.1L1992.2 894.8L1992.3 894.9L1992.5 890.6L1992.7 890.4L1992.9 886.6L1993.1 887.3L1993.3 883.2L1993.5 882.7L1993.7 879.5L1993.9 879.7L1994.1 875.4L1994.3 876.6L1994.5 872.8L1994.7 872.6L1994.9 869.9L1995.1 870.7L1995.3 866.6L1995.5 867.2L1995.6 864.2L1995.8 866.0L1996.0 862.3L1996.2 863.4L1996.3 860.4L1996.5 862.6L1996.7 860.1L1996.8 861.8L1997.0 859.2L1997.2 861.2L1997.4 859.3L1997.6 861.3L1997.8 860.0L1998.0 862.7L1998.1 861.5L1998.3 865.0L1998.5 864.1L1998.7 866.7L1998.8 866.0L1999.0 870.3L1999.2 869.6L1999.3 873.8L1999.5 873.8L1999.6 877.4L1999.8 877.9L2000.0 881.3L2000.1 881.3L2000.3 886.4L2000.4 885.9L2000.6 890.1L2000.7 890.6L2000.9 895.0L2001.1 895.4L2001.2 899.9L2001.4 900.4L2001.6 904.0L2001.7 904.1L2001.9 908.7L2002.1 908.2L2002.2 912.0L2002.4 911.8L2002.6 915.8L2002.8 915.5L2003.0 918.9L2003.2 918.3L2003.4 920.8L2003.6 920.5L2004.7 925.4L2005.8 925.7L2007.0 928.6L2008.2 926.3L2009.5 929.2L2010.7 926.9L2011.9 931.1L2013.0 931.2L2013.3 934.0L2013.6 933.6L2013.9 936.3L2014.2 936.2L2014.5 940.0L2014.7 940.1L2015.0 944.0L2015.2 942.9L2015.5 947.0L2015.7 948.0L2016.0 951.1L2016.2 951.3L2016.5 956.1L2016.7 956.2L2017.0 959.2L2017.2 959.6L2017.5 963.5L2017.8 964.0L2018.1 966.7L2018.4 967.1L2018.7 970.0L2019.0 969.9L2019.4 973.0L2019.8 972.1L2020.2 974.5L2020.6 973.7L2021.0 976.3L2021.7 974.2L2022.4 975.7L2023.2 972.8L2024.0 973.4L2024.8 970.0L2025.7 969.6L2026.6 966.4L2027.6 966.0L2028.5 961.2L2029.5 961.0L2030.4 957.3L2031.4 957.3L2032.3 953.2L2033.2 953.3L2034.0 949.0L2034.8 950.0L2035.6 947.2L2036.3 949.0L2037.0 948.1L2037.4 949.8L2037.8 948.8L2038.1 951.5L2038.4 950.3L2038.7 953.6L2039.0 952.1L2039.3 955.2L2039.5 955.2L2039.8 958.7L2040.0 958.3L2040.2 962.1L2040.4 960.8L2040.7 964.7L2040.9 965.0L2041.1 968.4L2041.3 968.6L2041.5 972.3L2041.7 973.0L2041.9 976.2L2042.1 976.8L2042.3 980.3L2042.6 980.5L2042.8 984.9L2043.1 984.2L2043.4 988.5L2043.6 987.8L2044.0 992.0L2044.3 991.9L2044.6 995.4L2045.0 994.9L2045.4 999.3L2045.8 998.1L2046.2 1002.5L2046.6 1002.6L2047.0 1005.6L2047.4 1005.7L2047.9 1010.5L2048.4 1010.0L2048.8 1014.7L2049.3 1013.8L2049.8 1018.7L2050.3 1018.6L2050.8 1022.6L2051.3 1022.8L2051.9 1026.7L2052.4 1026.7L2052.9 1030.2L2053.4 1031.0L2053.9 1034.1L2054.4 1034.1L2054.9 1038.3L2055.4 1037.1L2055.9 1040.5L2056.4 1040.2L2056.9 1043.6L2057.4 1042.9L2057.8 1045.0L2058.3 1044.1L2058.7 1046.6L2059.1 1045.1L2059.5 1047.2L2059.9 1045.2L2060.3 1047.3L2060.6 1045.1L2061.0 1046.7L2061.3 1043.4L2061.6 1045.5L2061.9 1041.5L2062.2 1042.9L2062.5 1039.8L2062.8 1039.6L2063.1 1036.2L2063.4 1037.2L2063.6 1032.5L2063.9 1032.7L2064.2 1029.1L2064.4 1029.6L2064.7 1024.9L2064.9 1025.3L2065.2 1020.3L2065.4 1021.0L2065.7 1016.3L2065.9 1016.5L2066.2 1012.3L2066.5 1011.7L2066.7 1007.4L2067.0 1007.4L2067.2 1004.2L2067.5 1004.2L2067.8 999.6L2068.0 1000.2L2068.3 997.1L2068.6 997.7L2068.9 994.0L2069.2 994.5L2069.8 990.6L2070.3 990.0L2070.9 986.0L2071.5 987.0L2072.0 983.6L2072.6 983.1L2073.2 980.4L2073.8 980.5L2074.3 976.7L2074.9 977.5L2075.5 974.9L2076.2 975.2L2076.8 972.1L2077.4 973.4L2078.0 969.6L2078.7 970.9L2079.3 967.0L2080.0 967.8L2080.8 963.8L2081.7 965.0L2082.5 961.5L2083.4 962.3L2084.3 959.2L2085.3 959.8L2086.2 957.1L2087.1 957.2L2088.0 953.9L2089.0 954.6L2089.9 951.8L2090.8 951.6L2091.6 948.4L2092.5 948.0L2093.3 944.5L2093.7 945.3L2094.2 941.6L2094.6 943.0L2095.0 939.5L2095.4 939.9L2095.8 936.5L2096.2 936.5L2096.6 932.9L2097.0 933.8L2097.3 929.5L2097.7 930.6L2098.1 926.9L2098.5 926.5L2098.8 922.9L2099.2 922.7L2099.6 919.9L2100.0 919.6L2100.3 915.9L2100.7 915.9L2101.1 913.0L2101.5 912.7L2101.9 908.9L2102.3 909.7L2102.7 905.4L2103.1 906.6L2103.6 902.5L2104.0 903.6L2104.5 899.8L2105.1 900.1L2105.6 897.0L2106.2 896.5L2106.7 893.2L2107.3 894.3L2107.9 890.8L2108.5 890.5L2109.0 887.4L2109.6 887.6L2110.2 883.9L2110.8 884.6L2111.4 881.6L2112.0 882.0L2112.6 877.9L2113.2 878.8L2113.8 875.4L2114.4 875.6L2115.0 872.7L2115.6 873.7L2116.2 870.0L2116.8 870.1L2117.4 866.5L2118.0 867.3L2118.6 863.4L2119.3 864.1L2119.9 860.0L2120.6 860.3L2121.3 856.9L2122.0 856.9L2122.7 853.2L2123.3 853.6L2124.0 849.3L2124.7 849.9L2125.4 846.3L2126.0 847.0L2126.7 842.4L2127.3 843.2L2127.9 839.6L2128.4 840.3L2128.9 836.8L2129.4 837.4L2129.9 834.7L2130.3 835.8L2130.7 832.5L2131.0 834.4" stroke="#000000"/>
<path d="M171.0 1327.1L172.0 1328.4L173.0 1327.2L174.0 1328.5L175.0 1327.2L176.0 1328.5L177.0 1327.2L178.0 1328.5L179.0 1327.2L180.0 1328.5L181.0 1327.2L182.0 1328.5L183.0 1327.2L184.0 1328.7L185.0 1327.8L186.0 1329.1L187.0 1328.4L188.0 1329.1L189.0 1328.4L190.0 1329.5L191.0 1328.5L192.0 1331.3L193.0 1328.5L194.0 1332.7L195.0 1328.6L196.0 1333.0L197.0 1328.5L198.0 1333.3L199.0 1327.9L200.0 1333.5L201.0 1327.7L202.0 1333.8L203.0 1327.9L204.0 1335.0L205.0 1328.2L206.0 1336.1L207.0 1330.0L208.0 1336.4L209.0 1332.1L210.0 1336.6L211.0 1332.5L212.0 1336.9L213.0 1332.8L214.0 1339.4L215.0 1329.6L216.0 1344.7L217.0 1328.6L218.0 1349.9L219.0 1328.9L220.0 1350.8L221.0 1329.0L222.0 1350.9L223.0 1327.4L224.0 1351.1L225.0 1323.4L226.0 1351.2L227.0 1323.6L228.0 1351.4L229.0 1323.7L230.0 1351.5L231.0 1323.9L232.0 1350.0L233.0 1324.0L234.0 1344.8L235.0 1324.2L236.0 1344.9L237.0 1332.0L238.0 1347.0L239.0 1335.2L240.0 1348.7L241.0 1333.6L242.0 1348.9L243.0 1331.9L244.0 1349.0L245.0 1331.9L246.0 1349.2L247.0 1332.1L248.0 1361.1L249.0 1325.4L250.0 1365.3L251.0 1305.4L252.0 1365.5L253.0 1305.5L254.0 1365.6L255.0 1305.6L256.0 1365.7L257.0 1305.7L258.0 1365.8L259.0 1305.8L260.0 1365.9L261.0 1305.9L262.0 1350.7L263.0 1306.0L264.0 1350.8L265.0 1324.4L266.0 1350.9L267.0 1330.3L268.0 1355.1L269.0 1330.4L270.0 1355.2L271.0 1330.0L272.0 1355.3L273.0 1328.3L274.0 1355.4L275.0 1327.1L276.0 1355.5L277.0 1327.2L278.0 1354.9L279.0 1327.3L280.0 1353.9L281.0 1327.4L282.0 1354.0L283.0 1328.9L284.0 1354.1L285.0 1332.9L286.0 1354.2L287.0 1332.9L288.0 1351.3L289.0 1333.0L290.0 1351.4L291.0 1333.1L292.0 1351.3L293.0 1333.5L294.0 1351.1L295.0 1337.8L296.0 1350.9L297.0 1338.3L298.0 1350.6L299.0 1338.0L300.0 1350.4L301.0 1337.8L302.0 1353.0L303.0 1337.6L304.0 1356.7L305.0 1337.3L306.0 1360.4L307.0 1339.3L308.0 1362.4L309.0 1340.2L310.0 1362.1L311.0 1335.5L312.0 1361.9L313.0 1325.4L314.0 1361.7L315.0 1322.0L316.0 1361.3L317.0 1321.6L318.0 1360.9L319.0 1321.0L320.0 1355.0L321.0 1318.8L322.0 1347.7L323.0 1317.9L324.0 1347.2L325.0 1317.5L326.0 1346.8L327.0 1317.1L328.0 1346.3L329.0 1316.6L330.0 1349.4L331.0 1316.4L332.0 1351.8L333.0 1317.2L334.0 1351.3L335.0 1316.8L336.0 1350.7L337.0 1316.2L338.0 1350.1L339.0 1315.7L340.0 1349.5L341.0 1314.9L342.0 1348.7L343.0 1314.1L344.0 1345.4L345.0 1313.1L346.0 1343.1L347.0 1312.0L348.0 1342.3L349.0 1311.3L350.0 1341.6L351.0 1310.5L352.0 1344.1L353.0 1309.7L354.0 1344.7L355.0 1309.0L356.0 1344.0L357.0 1308.2L358.0 1343.2L359.0 1307.4L360.0 1342.4L361.0 1306.7L362.0 1341.5L363.0 1305.9L364.0 1336.7L365.0 1305.2L366.0 1334.9L367.0 1304.4L368.0 1334.1L369.0 1303.4L370.0 1333.4L371.0 1301.8L372.0 1332.7L373.0 1301.1L374.0 1332.0L375.0 1300.4L376.0 1331.4L377.0 1299.8L378.0 1330.2L379.0 1298.9L380.0 1328.3L381.0 1293.7L382.0 1327.6L383.0 1291.9L384.0 1326.9L385.0 1291.2L386.0 1326.3L387.0 1290.6L388.0 1325.7L389.0 1290.3L390.0 1325.7L391.0 1290.3L392.0 1325.5L393.0 1296.5L394.0 1320.0L395.0 1306.0L396.0 1318.4L397.0 1305.9L398.0 1318.4L399.0 1305.9L400.0 1318.3L401.0 1305.8L402.0 1318.3L403.0 1304.7L404.0 1318.2L405.0 1301.0L406.0 1319.2L407.0 1300.9L408.0 1321.4L409.0 1300.9L410.0 1323.6L411.0 1300.8L412.0 1325.8L413.0 1300.4L414.0 1326.1L415.0 1299.8L416.0 1325.5L417.0 1298.2L418.0 1324.9L419.0 1296.9L420.0 1324.3L421.0 1296.3L422.0 1323.8L423.0 1295.7L424.0 1323.2L425.0 1295.1L426.0 1322.2L427.0 1294.5L428.0 1312.6L429.0 1294.9L430.0 1309.6L431.0 1298.4L432.0 1309.1L433.0 1298.1L434.0 1308.5L435.0 1297.5L436.0 1307.9L437.0 1297.0L438.0 1307.5L439.0 1296.6L440.0 1307.1L441.0 1295.9L442.0 1306.2L443.0 1295.1L444.0 1305.3L445.0 1294.3L446.0 1304.1L447.0 1294.2L448.0 1302.6L449.0 1294.0L450.0 1301.1L451.0 1293.9L452.0 1299.6L453.0 1293.8L454.0 1298.1L455.0 1293.6L456.0 1296.5L457.0 1293.5L458.0 1297.2L460.0 1294.6L461.0 1295.7L462.1 1294.8L463.4 1295.8L464.8 1293.8L466.4 1295.1L468.0 1293.5L469.7 1294.4L471.5 1292.6L473.3 1293.7L475.1 1292.2L477.0 1292.9L478.8 1291.3L480.6 1292.3L482.3 1290.2L484.0 1291.8L485.6 1289.7L487.2 1290.6L488.9 1289.0L490.5 1289.4L492.1 1288.2L493.8 1288.7L495.4 1287.0L497.1 1287.6L498.7 1285.7L500.3 1286.8L502.0 1285.1L503.6 1285.9L505.2 1284.8L506.9 1285.4L508.5 1284.3L510.1 1285.3L511.7 1283.6L513.4 1285.4L515.0 1284.2L516.6 1285.7L518.2 1284.1L519.8 1285.9L521.4 1284.4L523.0 1286.4L524.7 1285.0L526.3 1286.6L527.9 1285.3L529.5 1287.5L531.1 1286.4L532.7 1287.8L534.3 1286.4L535.9 1288.0L537.5 1286.9L539.1 1288.4L540.7 1287.0L542.3 1288.8L543.9 1287.5L545.6 1289.1L547.2 1287.9L548.8 1290.0L550.4 1288.7L552.0 1290.3L553.6 1289.0L555.2 1291.2L556.8 1290.2L558.3 1291.7L559.8 1291.2L561.3 1293.0L562.8 1292.3L564.4 1294.2L565.9 1293.4L567.4 1295.4L568.9 1294.6L570.4 1296.7L571.9 1295.6L573.4 1297.7L575.0 1297.0L576.5 1299.1L578.0 1298.3L579.5 1300.2L581.0 1300.0L582.5 1301.7L584.0 1300.8L585.5 1303.3L587.0 1302.9L588.5 1304.9L590.0 1303.9L591.5 1306.5L593.0 1305.9L594.5 1307.9L596.0 1307.5L597.5 1309.4L599.0 1308.9L600.5 1310.7L602.0 1310.1L603.5 1312.1L605.0 1311.8L606.5 1314.1L608.0 1313.5L609.5 1315.2L611.0 1314.6L612.5 1316.8L614.0 1316.1L615.5 1318.0L617.0 1317.9L618.5 1319.6L620.0 1319.1L621.5 1321.0L623.0 1320.4L624.5 1322.5L626.0 1322.2L627.5 1324.1L629.0 1324.1L630.4 1326.3L631.9 1325.8L633.4 1327.5L634.9 1327.1L636.4 1329.4L638.0 1329.4L639.5 1331.6L641.0 1331.1L642.5 1332.7L644.0 1332.7L645.5 1334.9L646.9 1334.2L648.4 1336.2L649.7 1336.2L651.1 1337.8L652.4 1337.6L653.6 1339.8L655.2 1339.2L656.7 1341.9L658.1 1341.0L659.4 1343.6L660.6 1342.7L661.8 1345.0L663.0 1344.7L664.3 1346.7L665.6 1346.2L666.9 1347.8L668.4 1347.6L670.0 1349.9L671.3 1349.2L672.6 1350.9L674.0 1350.2L675.5 1352.0L676.9 1351.5L678.4 1353.4L680.0 1352.5L681.5 1354.2L683.1 1353.5L684.7 1354.9L686.2 1354.5L687.8 1356.1L689.4 1355.9L690.9 1357.2L692.5 1357.0L694.0 1358.4L695.5 1357.8L697.0 1359.8L698.5 1358.8L700.0 1361.3L701.5 1359.9L703.0 1361.9L704.5 1361.5L706.0 1363.1L707.5 1362.5L709.0 1364.6L710.5 1363.6L712.0 1365.9L713.5 1365.2L715.0 1367.0L716.5 1366.4L718.0 1368.0L719.4 1368.0L720.9 1369.7L722.3 1369.5L723.7 1371.5L725.2 1371.1L726.6 1372.7L728.1 1372.8L729.5 1374.5L731.0 1374.5L732.4 1376.4L733.9 1375.9L735.3 1377.7L736.7 1377.2L738.2 1379.0L739.6 1378.1L741.1 1380.4L742.5 1379.0L744.1 1380.7L745.7 1379.5L747.4 1381.0L749.0 1379.9L750.6 1380.7L752.2 1379.2L753.8 1380.1L755.4 1379.0L757.0 1379.9L758.6 1378.2L760.2 1379.1L761.9 1377.2L763.5 1378.6L765.1 1377.1L766.7 1378.4L768.3 1376.6L769.9 1377.2L771.6 1375.8L773.2 1376.6L774.8 1375.3L776.4 1376.3L778.1 1374.2L779.7 1375.0L781.3 1373.8L782.9 1374.8L784.5 1373.4L786.2 1374.5L787.8 1373.5L789.4 1374.9L791.0 1374.5L792.3 1376.1L793.5 1375.2L794.8 1377.3L796.1 1377.1L797.3 1379.3L798.6 1379.3L799.9 1381.7L801.1 1381.7L802.4 1384.4L803.6 1384.3L804.9 1386.5L806.2 1386.9L807.4 1388.9L808.7 1388.8L810.0 1391.6L811.2 1390.9L812.5 1393.6L813.7 1393.3L815.0 1395.1L816.6 1394.2L818.2 1396.4L819.8 1395.4L821.4 1397.0L823.0 1396.1L824.6 1397.7L826.2 1396.5L827.8 1397.8L829.4 1396.6L831.0 1398.4L832.6 1396.7L834.2 1398.8L835.8 1397.2L837.4 1399.0L839.0 1398.5L840.4 1400.2L841.9 1399.7L843.3 1401.4L844.7 1400.8L846.2 1403.3L847.6 1402.5L849.0 1404.9L850.5 1404.5L851.9 1406.3L853.3 1405.6L854.8 1407.8L856.2 1407.6L857.7 1409.3L859.1 1409.2L860.5 1411.1L862.0 1409.8L863.4 1412.0L865.0 1411.2L866.6 1412.4L868.3 1411.7L869.9 1413.1L871.5 1411.7L873.1 1413.2L874.7 1412.0L876.3 1413.0L877.9 1411.9L879.5 1413.6L881.2 1411.7L882.8 1412.9L884.4 1411.8L886.0 1413.2L887.6 1411.9L889.2 1413.3L890.8 1411.7L892.4 1413.0L894.1 1411.6L895.7 1413.0L897.3 1411.1L898.9 1412.5L900.5 1411.3L902.1 1412.1L903.7 1411.1L905.3 1412.0L907.0 1410.3L908.6 1411.6L910.2 1410.5L911.8 1411.8L913.4 1410.7L915.0 1412.2L916.6 1410.6L918.3 1412.5L919.9 1411.2L921.5 1413.0L923.1 1411.8L924.7 1413.3L926.3 1412.0L927.9 1413.8L929.6 1412.2L931.2 1413.8L932.8 1412.7L934.4 1414.1L936.0 1412.8L937.6 1414.6L939.2 1412.9L940.8 1413.9L942.4 1412.9L944.0 1414.2L945.6 1412.4L947.2 1414.0L948.8 1412.2L950.4 1413.3L952.0 1411.9L953.6 1413.5L955.2 1411.9L956.8 1413.5L958.4 1411.5L960.0 1412.8L961.6 1411.5L963.2 1413.2L964.8 1411.9L966.4 1413.1L968.0 1411.6L969.6 1412.7L971.2 1411.4L972.8 1412.6L974.4 1411.5L976.0 1412.9L977.6 1411.8L979.2 1413.0L980.8 1411.7L982.4 1412.8L984.0 1411.4L985.6 1412.8L987.2 1412.2L988.9 1413.2L990.5 1411.7L992.1 1413.5L993.8 1412.0L995.4 1413.5L997.1 1412.2L998.7 1413.6L1000.3 1412.7L1002.0 1413.9L1003.6 1413.0L1005.2 1413.8L1006.9 1412.7L1008.5 1414.0L1010.1 1412.9L1011.7 1414.6L1013.4 1413.2L1015.0 1414.7L1016.6 1413.1L1018.2 1414.9L1019.8 1413.7L1021.4 1414.6L1023.0 1413.7L1024.7 1414.9L1026.3 1413.9L1027.9 1414.8L1029.5 1413.9L1031.1 1415.7L1032.7 1414.2L1034.3 1415.6L1035.9 1414.5L1037.5 1415.8L1039.1 1414.5L1040.7 1416.1L1042.3 1415.0L1043.9 1416.5L1045.6 1415.4L1047.2 1417.2L1048.8 1416.1L1050.4 1417.5L1052.0 1416.3L1053.6 1417.7L1055.2 1416.3L1056.8 1418.1L1058.4 1416.9L1060.0 1418.5L1061.6 1417.4L1063.3 1418.6L1064.9 1417.4L1066.5 1418.8L1068.1 1417.4L1069.7 1419.3L1071.3 1417.8L1072.9 1419.2L1074.6 1418.4L1076.2 1419.7L1077.8 1418.8L1079.4 1420.0L1081.0 1418.7L1082.6 1420.3L1084.2 1419.4L1085.8 1421.2L1087.4 1420.4L1089.0 1421.9L1090.6 1421.4L1092.2 1422.7L1093.8 1422.1L1095.4 1423.5L1097.0 1422.8L1098.6 1424.5L1100.2 1422.9L1101.8 1424.8L1103.4 1423.6L1105.0 1425.5L1106.6 1424.1L1108.2 1425.0L1109.9 1424.1L1111.5 1424.9L1113.1 1423.5L1114.7 1424.7L1116.4 1423.4L1118.0 1424.6L1119.6 1423.1L1121.3 1424.3L1122.9 1422.5L1124.5 1423.8L1126.2 1422.3L1127.8 1423.7L1129.4 1422.4L1131.0 1424.4L1132.7 1423.1L1134.4 1424.9L1136.1 1423.5L1137.8 1425.7L1139.5 1424.5L1141.2 1426.7L1142.8 1425.3L1144.5 1427.6L1146.1 1426.3L1147.7 1428.3L1149.3 1427.5L1150.8 1429.4L1152.2 1428.4L1153.6 1429.9L1155.5 1429.3L1157.2 1431.0L1158.8 1429.8L1160.3 1431.3L1161.8 1430.0L1163.2 1431.6L1164.7 1430.4L1166.3 1432.0L1168.0 1431.5L1170.0 1432.5L1171.4 1431.6L1172.9 1433.2L1174.4 1431.4L1176.0 1433.3L1177.7 1431.9L1179.4 1433.3L1181.1 1432.2L1182.8 1433.7L1184.6 1432.3L1186.3 1433.5L1188.1 1432.4L1189.8 1433.7L1191.6 1432.9L1193.3 1434.5L1195.0 1433.4L1196.6 1434.4L1198.1 1433.8L1199.7 1435.0L1201.3 1434.2L1202.9 1435.6L1204.4 1434.9L1206.0 1436.2L1207.6 1435.6L1209.2 1437.2L1210.7 1436.2L1212.3 1437.7L1213.9 1436.6L1215.5 1438.2L1217.1 1437.8L1218.6 1439.4L1220.2 1438.2L1221.9 1440.0L1223.6 1439.1L1225.2 1440.5L1226.9 1439.2L1228.6 1441.0L1230.2 1440.0L1231.9 1441.9L1233.6 1440.9L1235.3 1442.8L1236.9 1441.6L1238.6 1443.1L1240.3 1442.1L1241.9 1443.7L1243.6 1442.6L1245.3 1444.5L1246.9 1443.4L1248.4 1445.1L1250.0 1443.8L1251.6 1446.1L1253.2 1444.6L1254.7 1446.5L1256.3 1445.6L1257.9 1447.2L1259.5 1446.5L1261.1 1447.6L1262.6 1446.5L1264.2 1448.2L1265.8 1447.1L1267.4 1449.1L1268.9 1447.6L1270.5 1449.2L1272.2 1448.5L1273.9 1450.0L1275.5 1449.0L1277.2 1449.8L1278.9 1449.0L1280.5 1450.1L1282.2 1449.3L1283.9 1450.6L1285.6 1449.5L1287.2 1450.9L1288.9 1449.2L1290.6 1450.3L1292.3 1449.1L1293.9 1450.5L1295.6 1449.5L1297.3 1450.8L1298.9 1449.8L1300.6 1450.8L1302.3 1449.8L1304.0 1450.6L1305.6 1449.2L1307.3 1451.0L1309.0 1449.4L1310.7 1450.8L1312.3 1449.1L1314.0 1450.4L1315.7 1449.4L1317.4 1450.4L1319.0 1449.7L1320.7 1450.5L1322.4 1449.7L1324.0 1450.6L1325.7 1449.9L1327.4 1451.0L1329.1 1449.8L1330.7 1451.6L1332.4 1449.9L1334.1 1451.8L1335.8 1450.4L1337.4 1452.1L1339.1 1450.9L1340.8 1451.7L1342.4 1450.5L1344.1 1452.2L1345.8 1451.0L1347.5 1451.9L1349.2 1450.8L1350.8 1451.8L1352.5 1450.4L1354.2 1451.5L1355.9 1449.9L1357.6 1451.5L1359.2 1449.7L1360.9 1450.8L1362.6 1449.5L1364.3 1450.6L1366.0 1448.5L1367.6 1449.8L1369.3 1448.3L1371.0 1449.6L1372.7 1447.8L1374.4 1448.6L1376.2 1447.3L1378.0 1448.1L1379.8 1446.9L1381.6 1447.9L1383.4 1445.4L1385.2 1447.6L1386.9 1444.2L1388.6 1447.5L1390.2 1443.5L1391.8 1445.8L1393.3 1441.8L1394.7 1447.2L1396.0 1440.7L1398.2 1445.7L1400.0 1441.5L1401.6 1443.6L1403.1 1440.1L1404.4 1443.5L1405.8 1437.8L1407.1 1441.1L1408.6 1435.4L1410.0 1441.5L1411.4 1434.1L1412.7 1438.8L1414.1 1434.0L1415.5 1436.5L1416.9 1431.0L1418.2 1436.0L1419.6 1430.5L1421.0 1434.6L1422.3 1428.1L1423.5 1431.9L1424.8 1427.1L1426.1 1431.3L1427.3 1425.7L1428.6 1429.6L1429.9 1424.6L1431.2 1427.5L1432.4 1421.4L1433.7 1424.5L1434.3 1418.6L1434.9 1420.8L1435.5 1415.3L1436.2 1418.2L1436.8 1412.6L1437.4 1416.4L1438.1 1410.3L1438.7 1412.7L1439.3 1406.0L1440.0 1409.3L1440.6 1403.2L1441.2 1405.0L1441.8 1400.0L1442.4 1401.5L1443.0 1396.7L1443.6 1397.5L1444.1 1393.0L1444.7 1394.2L1445.2 1389.9L1445.7 1391.8L1446.2 1387.3L1446.8 1387.9L1447.4 1383.4L1447.9 1385.9L1448.4 1381.0L1448.9 1382.5L1449.3 1377.3L1449.7 1380.1L1450.2 1374.4L1450.6 1376.2L1451.0 1372.4L1451.4 1374.2L1451.8 1369.2L1452.3 1369.7L1452.8 1364.9L1453.3 1366.5L1453.8 1362.2L1454.2 1363.5L1454.6 1359.6L1455.0 1361.4L1455.4 1356.5L1455.8 1357.9L1456.2 1353.3L1456.6 1355.4L1457.0 1350.8L1457.5 1351.7L1457.9 1347.3L1458.4 1347.6L1458.8 1343.2L1459.2 1344.7L1459.7 1340.7L1460.1 1341.7L1460.6 1335.9L1461.0 1338.5L1461.4 1333.4L1461.8 1335.5L1462.2 1329.4L1462.6 1331.2L1463.0 1327.4L1463.4 1329.7L1463.8 1323.4L1464.3 1325.1L1464.7 1320.4L1465.1 1323.0L1465.6 1317.3L1466.0 1319.4L1466.4 1314.2L1466.8 1315.5L1467.2 1311.7L1467.6 1312.2L1467.9 1307.9L1468.3 1309.3L1468.7 1305.0L1469.1 1306.8L1469.5 1302.3L1469.8 1304.7L1470.2 1299.2L1470.6 1300.6L1471.0 1296.0L1471.4 1296.8L1471.7 1293.1L1472.1 1294.4L1472.4 1288.9L1472.7 1290.4L1473.1 1285.5L1473.4 1288.3L1473.7 1283.9L1474.0 1285.0L1474.3 1280.0L1474.7 1281.4L1475.0 1277.2L1475.3 1278.1L1475.7 1273.1L1476.0 1275.3L1476.3 1269.7L1476.7 1271.9L1477.0 1266.2L1477.4 1267.8L1477.7 1264.3L1478.1 1265.1L1478.5 1261.0L1478.9 1261.5L1479.4 1257.5L1479.9 1258.8L1480.4 1253.6L1480.9 1255.7L1481.4 1249.8L1482.0 1251.5L1482.5 1247.3L1483.1 1248.4L1483.7 1244.0L1484.2 1245.9L1484.8 1241.8L1485.4 1242.6L1485.9 1237.8L1486.5 1239.8L1487.0 1234.3L1487.5 1236.5L1488.0 1232.2L1488.5 1234.3L1489.0 1228.6L1489.5 1229.7L1489.9 1225.1L1490.3 1227.0L1490.8 1221.6L1491.2 1224.2L1491.6 1218.5L1492.0 1221.4L1492.4 1215.8L1492.8 1218.2L1493.2 1213.4L1493.5 1213.9L1493.9 1208.7L1494.3 1210.1L1494.7 1205.9L1495.0 1208.7L1495.4 1202.7L1495.8 1205.4L1496.1 1200.8L1496.5 1201.9L1496.9 1196.7L1497.4 1198.3L1497.8 1193.5L1498.2 1195.4L1498.7 1190.6L1499.1 1190.8L1499.5 1186.5L1499.9 1189.1L1500.3 1182.9L1500.8 1185.4L1501.2 1180.7L1501.5 1182.8L1501.9 1178.2L1502.3 1178.8L1502.7 1174.2L1503.0 1177.3L1503.6 1171.6L1504.1 1173.9L1504.6 1169.4L1505.0 1171.1L1505.5 1167.3L1505.9 1168.0L1506.4 1164.1L1506.9 1163.7L1507.5 1158.5L1507.7 1160.5L1507.9 1156.4L1508.1 1158.3L1508.3 1154.3L1508.5 1155.4L1508.7 1150.6L1508.9 1152.2L1509.1 1146.9L1509.4 1148.6L1509.6 1144.5L1509.8 1145.9L1510.0 1141.3L1510.3 1143.4L1510.5 1137.4L1510.7 1139.1L1511.0 1134.1L1511.2 1135.4L1511.4 1129.6L1511.7 1132.4L1511.9 1126.5L1512.1 1127.6L1512.4 1123.0L1512.6 1124.0L1512.8 1119.9L1513.1 1120.3L1513.3 1115.8L1513.5 1118.5L1513.8 1112.5L1514.0 1114.6L1514.2 1110.0L1514.4 1111.1L1514.7 1106.4L1514.9 1107.9L1515.1 1103.6L1515.4 1104.3L1515.6 1099.5L1515.9 1102.4L1516.1 1096.1L1516.3 1098.5L1516.6 1094.3L1516.8 1094.7L1517.1 1089.6L1517.3 1092.7L1517.5 1086.9L1517.8 1088.7L1518.0 1083.4L1518.2 1084.9L1518.5 1080.1L1518.7 1081.9L1518.9 1076.6L1519.1 1078.8L1519.3 1073.7L1519.5 1075.7L1519.7 1070.7L1519.9 1072.3L1520.1 1066.7L1520.3 1069.6L1520.5 1064.4L1520.6 1065.9L1520.8 1060.3L1520.9 1063.0L1521.1 1057.3L1521.2 1060.0L1521.3 1054.9L1521.4 1055.9L1521.5 1050.6L1521.7 1052.3L1521.8 1046.6L1521.9 1049.7L1522.0 1044.2L1522.1 1045.7L1522.2 1040.1L1522.3 1042.5L1522.4 1037.5L1522.5 1039.4L1522.6 1034.3L1522.7 1035.0L1522.8 1030.5L1522.9 1032.7L1523.0 1027.8L1523.2 1029.4L1523.3 1023.8L1523.4 1027.0L1523.6 1021.9L1523.7 1024.3L1523.9 1018.9L1524.2 1020.0L1524.5 1014.8L1524.8 1016.9L1525.1 1010.7L1525.4 1013.2L1525.8 1007.7L1526.1 1009.4L1526.5 1005.5L1526.8 1006.3L1527.2 1002.3L1527.6 1004.1L1527.9 998.9L1528.3 1000.5L1528.6 995.2L1529.0 996.8L1529.3 992.0L1529.6 993.9L1529.9 990.1L1530.2 991.2L1530.5 986.3L1530.7 988.5L1530.9 982.9L1531.1 983.7L1531.3 980.4L1531.5 980.3L1531.7 976.2L1531.8 978.2L1532.0 973.7L1532.2 974.2L1532.3 969.6L1532.5 971.9L1532.7 965.5L1532.9 968.5L1533.2 962.7L1533.4 964.7L1533.7 960.2L1534.0 961.5L1534.4 957.0L1534.8 957.7L1535.2 952.6L1535.6 954.9L1536.0 949.4L1536.5 951.3L1537.0 946.8L1537.5 948.0L1538.0 942.9L1538.5 944.1L1539.0 939.0L1539.6 942.1L1540.1 936.9L1540.6 937.5L1541.2 932.7L1541.7 935.3L1542.2 930.8L1542.7 932.3L1543.2 928.1L1543.7 930.3L1544.2 925.1L1545.2 926.1L1546.1 921.1L1547.0 921.4L1547.8 916.5L1548.7 917.8L1549.6 914.1L1550.5 915.5L1551.6 912.3L1552.8 917.2L1553.4 913.1L1554.1 917.8L1554.8 914.8L1555.5 919.0L1556.2 917.8L1557.0 923.0L1557.8 920.8L1558.5 924.8L1559.3 921.6L1560.1 928.6L1560.9 926.5L1561.7 933.0L1562.5 927.5L1563.3 935.5L1564.1 930.5L1564.8 940.5L1565.5 935.0L1566.2 944.7L1566.9 940.2L1567.5 949.8L1568.0 942.9L1568.6 952.1L1569.1 942.9L1569.6 953.7L1570.1 945.7L1570.6 955.1L1571.1 952.2L1571.6 960.0L1572.1 955.7L1572.5 964.6L1573.0 957.0L1573.5 967.7L1573.9 961.2L1574.4 967.7L1574.9 961.8L1575.3 971.6L1575.8 966.9L1576.2 974.3L1576.7 969.2L1577.2 978.7L1577.7 974.0L1578.3 980.3L1578.8 976.8L1579.3 986.9L1579.9 981.1L1580.4 988.0L1580.9 982.6L1581.4 993.1L1582.0 985.2L1582.5 996.6L1583.0 988.3L1583.5 997.8L1584.1 991.2L1584.6 1000.3L1585.1 997.6L1585.6 1003.6L1586.2 997.6L1586.7 1007.9L1587.2 999.5L1588.1 1013.1L1589.0 1003.2L1590.0 1015.0L1590.9 1008.9L1591.9 1019.4L1592.8 1010.0L1593.7 1018.7L1594.6 1013.0L1595.5 1020.1L1596.3 1017.2L1597.0 1024.5L1598.9 1016.9L1600.5 1028.0L1601.8 1018.2L1603.0 1026.4L1604.0 1022.2L1604.6 1036.2L1605.3 1025.2L1605.5 1032.8L1605.6 1024.8L1605.8 1028.4L1605.9 1020.2L1606.0 1028.6L1606.2 1018.4L1606.4 1023.8L1606.5 1010.8L1606.7 1017.5L1606.8 1006.7L1607.0 1012.4L1607.2 1004.9L1607.4 1010.4L1607.6 999.1L1607.8 1007.4L1608.1 1000.2L1608.3 1007.4L1608.8 997.2L1609.4 1007.2L1610.0 1000.8L1610.6 1008.8L1611.3 1005.6L1611.9 1012.7L1612.6 1008.6L1613.3 1017.4L1614.0 1010.4L1615.6 1021.3L1617.2 1012.9L1618.9 1021.1L1620.4 1009.7L1621.1 1016.5L1621.8 1009.4L1622.3 1016.3L1622.9 1004.2L1623.6 1009.0L1624.4 1000.4L1625.4 1006.6L1626.2 998.3L1627.0 1005.4L1628.0 996.1L1629.0 1000.0L1630.0 991.3L1631.1 999.3L1632.2 990.0L1633.3 996.0L1634.4 984.6L1635.4 990.9L1636.4 983.0L1638.1 991.6L1639.8 983.1L1641.5 993.1L1643.1 987.0L1644.8 994.5L1646.5 987.2L1647.3 992.9L1648.2 984.7L1649.0 989.2L1649.9 982.7L1650.8 987.1L1651.7 978.8L1652.6 984.6L1653.4 973.8L1654.3 979.8L1655.1 971.1L1656.0 976.9L1656.7 969.5L1657.5 973.4L1658.6 963.5L1659.7 973.8L1660.6 961.7L1661.5 968.6L1662.5 962.5L1663.4 966.0L1664.5 959.0L1665.6 963.6L1666.1 957.0L1666.7 961.0L1667.3 951.2L1667.8 959.5L1668.4 949.9L1669.0 952.4L1669.6 943.5L1670.2 950.1L1670.9 941.7L1671.5 945.4L1672.1 938.2L1672.8 942.3L1673.4 934.9L1674.1 939.1L1674.7 931.0L1675.4 939.1L1676.0 930.0L1676.7 936.0L1677.9 928.4L1679.1 938.0L1680.4 928.8L1681.6 941.3L1682.9 934.7L1684.2 944.4L1685.5 938.0L1686.8 946.9L1688.2 939.9L1689.5 948.7L1691.0 941.4L1692.6 946.4L1694.1 941.8L1695.7 948.5L1697.3 936.3L1698.9 944.4L1700.4 937.4L1702.0 943.8L1703.4 933.6L1704.8 940.5L1706.1 931.5L1707.4 937.8L1708.7 932.0L1710.0 939.1L1711.2 928.0L1712.5 937.6L1713.7 926.5L1715.0 934.1L1715.6 921.6L1716.2 929.9L1716.7 919.0L1717.3 925.6L1717.9 919.5L1718.5 925.2L1719.1 915.9L1719.6 920.5L1720.2 909.8L1720.8 917.6L1721.4 908.5L1722.0 914.5L1722.5 905.7L1723.1 910.2L1723.7 898.8L1724.3 907.0L1724.9 898.4L1725.4 906.2L1726.0 894.2L1726.6 903.1L1728.0 890.5L1729.5 900.6L1730.9 890.0L1732.4 899.0L1733.8 889.5L1735.3 895.9L1736.7 889.3L1738.2 893.9L1739.1 888.0L1740.0 893.1L1740.9 883.8L1741.8 891.4L1742.7 882.2L1743.6 887.7L1744.4 878.3L1745.3 882.5L1746.2 874.7L1747.1 882.0L1748.0 870.3L1748.9 877.3L1749.8 869.9L1751.2 873.0L1752.7 866.2L1754.1 874.2L1755.6 863.6L1757.0 871.1L1758.5 860.3L1759.9 867.5L1761.4 862.6L1762.7 868.9L1764.0 864.3L1765.3 869.9L1766.6 865.4L1767.9 871.2L1769.2 868.5L1770.5 873.9L1771.8 871.7L1773.0 875.7L1774.4 874.6L1775.7 878.8L1777.0 878.2L1778.3 882.9L1779.6 881.7L1780.9 884.4L1782.2 883.5L1783.5 885.7L1784.2 882.3L1785.0 883.8L1785.7 880.1L1786.4 881.0L1787.1 876.1L1787.8 876.8L1788.5 872.5L1789.3 872.2L1790.0 869.2L1790.8 868.6L1791.5 864.9L1792.3 866.3L1793.1 862.5L1794.0 864.7L1795.3 862.4L1796.6 863.7L1798.0 863.2L1799.4 865.5L1800.8 865.1L1802.3 869.2L1803.7 867.6L1805.1 871.1L1806.5 870.4L1807.8 873.7L1809.6 872.2L1811.3 875.3L1813.0 874.4L1814.6 877.3L1816.2 874.9L1817.9 878.1L1819.5 876.0L1821.2 877.6L1822.8 876.0L1824.4 877.1L1826.1 875.1L1827.7 876.0L1829.3 873.7L1831.0 876.0L1832.7 874.3L1834.5 876.8L1836.2 875.4L1838.0 877.9L1839.7 875.7L1841.3 878.3L1842.7 876.3L1844.5 877.1L1846.2 872.1L1847.7 872.0L1848.9 869.8L1850.0 873.4L1850.2 872.1L1850.4 874.6L1850.5 874.3L1850.6 877.6L1850.7 878.0L1850.8 881.4L1850.9 882.1L1851.0 886.2L1851.0 885.9L1851.1 890.5L1851.1 890.7L1851.2 895.1L1851.2 894.4L1851.3 899.7L1851.3 899.7L1851.4 902.9L1851.4 903.3L1851.5 906.5L1851.6 905.6L1851.7 909.1L1851.8 907.9L1851.9 910.9L1852.0 908.4L1852.2 911.0L1852.3 907.9L1852.5 909.1L1852.7 906.0L1852.9 906.1L1853.1 902.0L1853.3 902.0L1853.5 897.8L1853.7 897.3L1853.9 893.3L1854.1 893.0L1854.3 888.4L1854.6 887.7L1854.8 884.1L1855.0 883.5L1855.3 879.4L1855.5 879.8L1855.8 876.7L1856.1 877.0L1856.3 874.5L1856.6 875.4L1857.0 873.5L1857.4 876.1L1857.8 875.1L1858.2 877.6L1858.6 877.2L1859.0 881.0L1859.4 881.8L1859.9 885.4L1860.4 885.4L1860.8 890.5L1861.3 889.8L1861.9 893.9L1862.4 893.6L1863.0 897.2L1863.6 897.4L1864.6 900.2L1865.7 899.8L1866.8 903.3L1868.0 902.0L1869.3 905.6L1870.5 903.7L1871.8 907.3L1873.0 906.3L1874.1 909.7L1875.2 908.1L1876.0 912.3L1876.9 911.8L1877.7 915.2L1878.4 914.5L1879.2 918.3L1879.9 918.1L1880.7 921.9L1881.4 920.9L1882.1 925.2L1882.9 924.6L1883.6 928.2L1884.4 927.6L1885.5 931.0L1886.6 930.5L1887.7 932.6L1888.8 932.6L1890.0 935.5L1891.1 933.8L1892.1 937.7L1893.1 937.0L1894.1 941.1L1894.6 939.9L1895.1 944.3L1895.6 942.8L1896.1 946.7L1896.6 947.0L1897.0 950.7L1897.4 950.3L1897.9 954.2L1898.3 953.2L1898.7 957.1L1899.1 957.5L1899.6 960.9L1900.0 960.2L1900.4 964.6L1900.9 963.0L1901.5 967.2L1902.1 967.0L1902.7 971.3L1903.3 970.6L1903.9 974.2L1904.5 973.8L1905.1 977.4L1905.8 976.5L1906.4 980.0L1907.2 979.2L1908.0 982.8L1908.8 982.2L1909.7 986.3L1910.7 986.2L1911.7 990.4L1912.8 989.9L1913.9 994.2L1914.9 993.3L1915.9 997.6L1916.9 996.6L1917.8 999.6L1918.6 997.5L1919.3 999.5L1919.8 997.4L1920.2 999.0L1920.6 995.9L1920.8 996.2L1921.1 993.3L1921.3 993.7L1921.5 989.0L1921.6 990.1L1921.8 985.2L1922.0 985.9L1922.2 981.0L1922.4 981.1L1922.7 977.3L1923.0 978.3L1923.3 973.9L1923.7 974.3L1924.1 970.6L1924.5 971.0L1924.9 967.4L1925.3 967.9L1925.8 963.6L1926.2 963.7L1926.6 960.1L1927.1 960.2L1927.5 957.3L1927.9 957.9L1928.3 953.5L1928.7 954.3L1929.1 951.0L1929.8 950.9L1930.4 947.5L1931.1 947.9L1931.7 945.2L1932.3 945.5L1932.9 942.1L1933.4 943.2L1934.0 939.4L1934.4 939.5L1934.7 937.0L1935.0 937.0L1935.4 934.4L1935.7 935.3L1936.0 931.0L1936.3 931.7L1936.6 928.1L1937.0 928.0L1937.5 923.3L1938.0 922.9L1938.2 918.6L1938.4 919.4L1938.6 916.6L1938.8 917.2L1939.0 913.5L1939.2 914.2L1939.4 910.1L1939.7 910.4L1939.9 907.1L1940.1 907.7L1940.4 903.9L1940.6 903.4L1940.9 899.6L1941.1 899.6L1941.4 895.9L1941.6 895.7L1941.9 892.5L1942.1 892.2L1942.4 888.1L1942.7 888.7L1942.9 884.5L1943.2 885.1L1943.4 881.2L1943.7 881.9L1944.0 877.5L1944.2 878.2L1944.5 874.9L1944.7 874.7L1945.0 871.4L1945.3 872.7L1945.5 868.7L1945.8 869.3L1946.0 866.3L1946.9 864.6L1947.9 858.8L1948.9 856.9L1949.8 852.4L1950.8 851.8L1951.7 848.1L1952.6 850.3L1953.3 849.5L1954.0 855.5L1954.1 854.2L1954.2 856.8L1954.3 855.9L1954.3 858.8L1954.4 858.4L1954.5 861.9L1954.6 861.0L1954.6 864.6L1954.7 863.5L1954.8 867.4L1954.8 866.7L1954.9 870.7L1954.9 871.1L1955.0 874.9L1955.1 874.1L1955.1 878.7L1955.2 877.9L1955.2 882.4L1955.3 882.6L1955.3 886.9L1955.4 886.4L1955.4 890.9L1955.4 891.0L1955.5 896.1L1955.5 896.1L1955.6 899.6L1955.6 900.7L1955.6 904.8L1955.7 905.2L1955.7 909.7L1955.7 909.8L1955.8 914.2L1955.8 914.0L1955.9 918.6L1955.9 918.4L1955.9 922.0L1955.9 922.3L1956.0 926.4L1956.0 926.0L1956.0 930.9L1956.1 930.7L1956.1 934.3L1956.1 934.0L1956.2 938.2L1956.2 937.7L1956.2 941.2L1956.3 940.5L1956.3 944.1L1956.3 943.2L1956.4 946.5L1956.4 945.8L1956.4 948.7L1956.5 947.1L1956.5 950.6L1956.6 949.7L1956.6 951.8L1956.6 950.0L1956.7 953.0L1956.7 951.4L1956.8 953.0L1956.8 951.0L1956.8 953.3L1956.9 950.8L1956.9 952.8L1957.0 949.4L1957.0 950.8L1957.0 948.6L1957.1 950.0L1957.1 946.9L1957.1 948.7L1957.2 945.5L1957.2 946.6L1957.2 943.6L1957.3 944.3L1957.3 940.8L1957.3 940.8L1957.4 937.5L1957.4 939.0L1957.4 934.6L1957.5 935.6L1957.5 931.7L1957.5 931.7L1957.6 928.0L1957.6 928.8L1957.6 924.8L1957.7 924.6L1957.7 921.0L1957.7 920.7L1957.8 916.5L1957.8 916.4L1957.8 913.4L1957.9 912.5L1957.9 908.4L1957.9 908.7L1958.0 904.2L1958.0 904.6L1958.0 899.8L1958.1 900.2L1958.1 896.4L1958.2 895.3L1958.2 891.6L1958.2 891.0L1958.3 887.4L1958.3 886.9L1958.3 882.4L1958.4 883.4L1958.4 878.5L1958.5 878.5L1958.5 874.6L1958.5 874.0L1958.6 870.4L1958.6 870.0L1958.7 866.3L1958.7 866.9L1958.7 862.6L1958.8 863.0L1958.8 858.5L1958.9 859.6L1958.9 855.4L1959.0 855.4L1959.0 851.5L1959.1 852.5L1959.1 849.1L1959.2 849.7L1959.2 845.6L1959.3 847.2L1959.3 843.5L1959.4 844.0L1959.4 841.3L1959.5 841.8L1959.7 836.5L1959.9 835.4L1960.2 829.6L1960.4 828.5L1960.6 824.8L1960.9 823.8L1961.1 819.6L1961.4 820.2L1961.6 816.4L1961.9 817.2L1962.2 814.6L1962.5 815.9L1962.9 813.0L1963.2 813.9L1963.6 811.3L1964.0 812.8L1964.4 810.4L1964.8 812.9L1965.3 810.9L1965.9 813.0L1966.5 812.3L1967.2 815.7L1967.8 815.2L1968.5 819.7L1969.3 819.6L1970.0 824.2L1970.7 824.0L1971.4 827.7L1972.2 828.3L1972.9 832.2L1973.6 832.1L1974.3 835.6L1974.9 834.0L1975.5 836.7L1976.3 835.0L1977.2 836.5L1977.9 834.8L1978.7 836.2L1979.5 832.8L1980.2 833.9L1980.9 830.5L1981.6 830.2L1982.2 825.0L1982.9 824.4L1983.5 818.4L1983.7 819.9L1983.8 815.8L1983.9 817.4L1984.1 814.1L1984.2 814.9L1984.4 811.1L1984.5 812.3L1984.6 808.3L1984.8 809.1L1984.9 805.6L1985.0 805.9L1985.1 802.5L1985.2 802.5L1985.4 799.3L1985.5 800.0L1985.6 795.5L1985.7 796.3L1985.8 792.1L1985.9 792.5L1986.0 789.5L1986.1 789.3L1986.2 785.5L1986.4 785.5L1986.5 781.6L1986.6 782.3L1986.7 777.7L1986.8 778.1L1986.9 774.3L1987.0 774.8L1987.2 770.6L1987.3 771.1L1987.4 767.2L1987.5 767.8L1987.6 764.2L1987.8 764.3L1987.9 760.5L1988.0 760.2L1988.2 756.6L1988.3 757.2L1988.4 753.7L1988.6 753.6L1988.7 751.0L1988.9 750.8L1989.1 747.6L1989.3 747.6L1989.5 743.7L1989.7 743.4L1989.9 739.5L1990.1 739.7L1990.3 735.0L1990.6 735.5L1990.8 731.5L1991.0 730.7L1991.3 726.8L1991.5 726.7L1991.7 722.4L1992.0 722.3L1992.2 718.3L1992.5 718.4L1992.7 714.7L1993.0 714.2L1993.2 710.3L1993.4 710.8L1993.7 706.9L1993.9 707.7L1994.2 704.1L1994.4 704.1L1994.6 700.7L1994.9 700.9L1995.1 697.4L1995.3 698.4L1995.6 695.7L1995.8 696.6L1996.0 694.2L1996.2 695.0L1996.4 693.1L1996.6 694.3L1996.8 691.8L1997.0 694.5L1997.2 691.5L1997.4 694.2L1997.5 692.3L1997.7 695.2L1997.9 694.8L1998.0 697.6L1998.2 696.6L1998.3 700.3L1998.5 700.2L1998.6 703.3L1998.8 703.0L1998.9 706.8L1999.1 706.5L1999.2 711.2L1999.3 711.4L1999.5 715.1L1999.6 715.0L1999.7 719.9L1999.9 719.5L2000.0 724.5L2000.1 723.9L2000.3 728.4L2000.4 728.2L2000.5 733.0L2000.7 732.8L2000.8 737.1L2001.0 736.7L2001.1 741.2L2001.3 740.7L2001.4 744.8L2001.6 744.1L2001.8 747.8L2001.9 746.3L2002.1 750.1L2002.3 749.4L2003.3 755.1L2004.3 754.8L2005.4 757.0L2006.5 755.9L2007.7 757.3L2009.0 755.8L2010.3 759.4L2011.0 758.4L2011.9 761.2L2012.7 760.2L2013.6 763.4L2014.5 763.4L2015.4 766.4L2016.3 765.9L2017.1 769.6L2018.0 769.8L2018.8 772.6L2019.6 772.9L2020.3 776.4L2021.0 776.1L2021.6 779.0L2022.1 779.9L2022.6 783.6L2023.0 784.4L2023.4 789.7L2023.8 789.9L2024.1 794.2L2024.5 795.0L2024.8 798.5L2025.2 797.7L2025.6 800.2L2026.0 797.4L2026.4 798.7L2026.6 796.1L2026.7 797.5L2026.9 794.5L2027.1 795.3L2027.3 791.8L2027.5 792.7L2027.6 789.5L2027.8 789.7L2028.0 785.7L2028.2 785.4L2028.4 781.4L2028.6 781.5L2028.8 776.9L2029.0 776.6L2029.2 772.9L2029.4 772.7L2029.6 768.2L2029.8 767.7L2030.0 763.3L2030.2 763.9L2030.4 759.0L2030.6 759.1L2030.8 755.2L2030.9 754.9L2031.1 750.5L2031.3 750.8L2031.5 747.3L2031.7 747.6L2031.9 744.3L2032.0 744.9L2032.2 741.7L2032.4 743.0L2032.5 739.2L2032.7 740.8L2032.9 738.9L2033.0 739.7L2033.2 737.8L2033.3 740.3L2033.5 739.2L2033.6 741.0L2033.8 740.0L2033.9 743.1L2034.0 742.2L2034.1 746.0L2034.3 745.5L2034.4 749.2L2034.5 748.9L2034.6 752.7L2034.7 753.3L2034.8 756.8L2034.9 757.7L2035.0 761.6L2035.1 761.1L2035.2 765.4L2035.3 765.7L2035.5 770.2L2035.6 770.9L2035.7 774.2L2035.8 774.9L2036.0 778.3L2036.1 778.6L2036.3 782.5L2036.4 782.5L2036.6 786.2L2036.8 785.0L2037.0 788.7L2037.4 789.1L2037.9 793.6L2038.4 793.5L2039.0 798.5L2039.6 798.6L2040.1 802.9L2040.8 802.3L2041.4 805.5L2042.0 804.9L2042.6 808.4L2043.2 806.9L2043.8 809.6L2044.4 808.5L2045.0 809.9L2045.4 807.1L2045.7 808.3L2046.1 804.4L2046.5 804.5L2046.8 800.0L2047.2 799.8L2047.5 795.4L2047.9 794.3L2048.3 789.3L2048.6 788.3L2049.0 783.7L2049.4 782.3L2049.7 778.2L2050.1 777.8L2050.4 774.0L2050.8 773.8L2051.2 770.6L2051.5 772.2L2051.9 770.0L2052.3 772.1L2052.6 770.7L2053.0 774.9L2053.1 773.1L2053.2 776.1L2053.3 775.1L2053.4 777.8L2053.5 777.2L2053.6 779.6L2053.7 778.8L2053.8 782.5L2053.9 781.1L2054.0 784.8L2054.1 784.5L2054.2 787.8L2054.3 786.6L2054.4 790.7L2054.5 790.4L2054.6 793.9L2054.7 793.1L2054.8 797.7L2054.9 796.9L2055.0 801.2L2055.1 801.3L2055.2 804.4L2055.3 805.2L2055.4 808.7L2055.5 808.7L2055.6 812.2L2055.7 812.4L2055.8 817.0L2055.9 816.8L2056.0 821.8L2056.1 821.0L2056.2 825.9L2056.3 825.6L2056.4 830.1L2056.5 829.9L2056.7 834.8L2056.8 834.9L2056.9 839.3L2057.0 839.5L2057.1 843.5L2057.2 843.2L2057.3 847.6L2057.4 847.7L2057.5 852.4L2057.6 852.3L2057.7 856.5L2057.8 857.5L2057.9 860.9L2058.0 861.2L2058.1 865.9L2058.2 865.4L2058.3 869.7L2058.4 869.8L2058.5 873.8L2058.6 873.4L2058.7 878.1L2058.8 877.7L2058.9 881.7L2059.0 881.4L2059.1 884.8L2059.2 885.3L2059.3 888.5L2059.3 888.0L2059.4 891.8L2059.5 891.3L2059.6 895.1L2059.7 894.2L2059.8 897.8L2059.9 896.8L2060.0 900.7L2060.1 899.5L2060.2 902.4L2060.3 901.1L2060.4 904.2L2060.4 902.9L2060.5 905.9L2060.6 905.1L2060.7 907.5L2060.8 905.9L2060.9 908.3L2061.0 907.0L2061.0 909.7L2061.1 907.3L2061.2 909.7L2061.3 907.5L2061.4 909.4L2061.5 907.3L2061.5 908.5L2061.6 906.1L2061.7 908.2L2061.8 905.6L2061.8 906.8L2061.9 904.0L2062.0 904.9L2062.1 902.3L2062.1 904.1L2062.2 900.3L2062.3 901.4L2062.3 898.7L2062.4 899.1L2062.5 895.6L2062.5 896.7L2062.6 892.5L2062.7 893.3L2062.7 890.4L2062.8 891.0L2062.9 886.8L2062.9 887.6L2063.0 883.3L2063.1 884.2L2063.1 879.7L2063.2 880.3L2063.2 876.0L2063.3 876.8L2063.4 872.0L2063.4 872.9L2063.5 868.3L2063.5 867.9L2063.6 864.5L2063.7 864.1L2063.7 859.9L2063.8 860.1L2063.8 855.7L2063.9 856.1L2063.9 851.4L2064.0 850.6L2064.1 846.9L2064.1 847.0L2064.2 842.8L2064.2 842.7L2064.3 838.5L2064.4 838.5L2064.4 833.8L2064.5 834.1L2064.5 829.2L2064.6 829.5L2064.7 825.4L2064.7 825.4L2064.8 820.2L2064.8 820.4L2064.9 816.5L2065.0 816.3L2065.0 812.1L2065.1 813.0L2065.2 808.1L2065.2 809.0L2065.3 804.9L2065.4 805.1L2065.4 801.6L2065.5 800.9L2065.6 797.5L2065.6 798.2L2065.7 794.5L2065.8 794.2L2065.9 791.6L2065.9 791.5L2066.0 788.3L2066.1 789.4L2066.2 785.3L2066.3 786.8L2066.3 782.8L2066.4 784.3L2066.5 780.7L2066.8 779.0L2067.2 773.5L2067.5 772.9L2067.9 767.8L2068.3 767.5L2068.6 763.3L2069.0 763.8L2069.4 759.2L2069.8 759.8L2070.2 756.3L2070.6 757.7L2071.0 755.0L2071.5 756.0L2071.9 752.4L2072.3 754.1L2072.8 751.5L2073.2 752.7L2073.7 750.6L2074.1 751.7L2074.6 749.0L2076.0 750.4L2077.5 748.7L2079.0 752.5L2080.6 752.5L2082.2 756.6L2083.7 755.4L2085.3 756.0L2085.8 753.4L2086.3 754.8L2086.8 751.0L2087.3 752.5L2087.7 748.8L2088.2 749.1L2088.7 745.2L2089.2 745.5L2089.7 742.3L2090.2 742.1L2090.7 737.4L2091.2 738.0L2091.7 733.5L2092.2 733.6L2092.7 730.1L2093.1 730.3L2093.6 726.4L2094.1 726.8L2094.6 723.1L2095.1 723.6L2095.5 720.8L2096.0 721.4L2097.1 717.4L2098.3 717.7L2099.4 714.2L2100.5 716.0L2101.6 713.2L2102.7 714.2L2103.8 711.6L2104.8 712.8L2105.9 708.3L2106.4 710.0L2107.0 706.1L2107.5 706.8L2108.1 703.0L2108.6 704.5L2109.2 699.8L2109.7 700.3L2110.3 696.8L2110.8 697.0L2111.4 693.9L2111.9 694.3L2112.4 689.8L2112.8 690.7L2113.3 687.1L2113.7 687.3L2114.1 683.9L2114.5 684.0L2114.8 681.1L2115.2 681.4L2115.5 676.2L2115.8 676.3L2116.0 671.9L2116.1 672.5L2116.3 667.8L2116.4 667.9L2116.5 664.2L2116.6 665.0L2116.6 661.0L2116.7 662.7L2116.9 659.8L2117.0 660.9L2117.2 659.4L2117.4 662.6L2117.6 662.0L2117.8 667.7L2118.0 667.4L2118.2 672.7L2118.4 672.6L2118.6 677.2L2118.8 676.2L2119.0 678.2L2119.1 674.8L2119.2 676.0L2119.4 672.9L2119.5 673.0L2119.6 668.6L2119.8 668.8L2119.9 664.7L2120.0 663.8L2120.1 659.3L2120.2 659.3L2120.4 655.5L2120.5 655.4L2120.6 651.6L2120.8 651.7L2120.9 649.1L2121.0 651.2L2121.1 649.1L2121.2 651.7L2121.4 651.9L2121.5 655.4L2121.6 655.1L2121.8 658.9L2121.9 659.7L2122.0 663.8L2122.1 664.7L2122.2 669.4L2122.4 669.6L2122.5 673.2L2122.6 672.6L2122.8 675.9L2122.9 674.7L2123.0 676.5L2123.1 674.4L2123.2 675.6L2123.3 672.7L2123.4 673.7L2123.5 669.0L2123.6 669.0L2123.7 664.7L2123.8 664.7L2123.9 660.4L2124.1 659.8L2124.2 655.9L2124.3 655.9L2124.4 651.2L2124.5 650.9L2124.6 647.1L2124.7 647.6L2124.8 645.0L2124.9 645.9L2125.0 644.5L2125.1 646.8L2125.2 645.0L2125.3 648.3L2125.4 648.0L2125.5 651.3L2125.6 651.9L2125.7 656.1L2125.8 656.6L2125.9 661.0L2126.1 660.4L2126.2 665.1L2126.3 666.0L2126.4 669.7L2126.5 670.5L2126.6 673.7L2126.7 673.1L2126.8 676.7L2126.9 674.8L2127.0 676.7L2127.1 674.7L2127.2 675.6L2127.3 673.3L2127.4 673.3L2127.5 669.3L2127.6 669.3L2127.7 665.1L2127.8 665.8L2127.9 660.4L2128.0 660.6L2128.0 656.2L2128.1 655.9L2128.2 651.5L2128.3 651.0L2128.4 646.4L2128.5 647.0L2128.6 642.9L2128.7 643.6L2128.8 640.4L2128.9 641.9L2129.0 640.1L2129.1 642.3L2129.2 640.2L2129.3 643.2L2129.4 643.0L2129.5 646.6L2129.6 646.2L2129.7 649.7L2129.9 650.1L2130.0 654.5L2130.1 653.8L2130.2 658.4L2130.3 658.2L2130.4 663.5L2130.5 663.5L2130.6 667.1L2130.7 667.3L2130.7 671.7L2130.8 671.4L2130.9 674.2L2130.9 674.2L2131.0 677.5" stroke="#FF0000"/>
<path d="M171.0 761.4L172.0 764.3L173.0 761.4L174.0 764.3L175.0 761.4L176.0 764.3L177.0 761.4L178.0 764.3L179.0 761.4L180.0 764.3L181.0 761.4L182.0 764.3L183.0 761.4L184.0 764.5L185.0 762.1L186.0 765.0L187.0 762.8L188.0 765.0L189.0 762.8L190.0 765.4L191.0 762.8L192.0 767.4L193.0 762.8L194.0 768.9L195.0 762.8L196.0 768.9L197.0 762.3L198.0 768.9L199.0 761.3L200.0 768.9L201.0 760.8L202.0 768.9L203.0 760.8L204.0 769.9L205.0 760.8L206.0 770.8L207.0 762.5L208.0 770.8L209.0 764.5L210.0 770.8L211.0 764.7L212.0 770.8L213.0 764.7L214.0 773.4L215.0 760.9L216.0 778.9L217.0 759.5L218.0 784.4L219.0 759.5L220.0 785.2L221.0 759.5L222.0 785.2L223.0 757.6L224.0 785.2L225.0 753.0L226.0 785.2L227.0 753.0L228.0 785.2L229.0 753.0L230.0 785.2L231.0 753.0L232.0 783.3L233.0 753.0L234.0 777.4L235.0 753.0L236.0 777.4L237.0 761.5L238.0 779.5L239.0 764.9L240.0 781.3L241.0 762.9L242.0 781.3L243.0 760.9L244.0 781.3L245.0 760.8L246.0 781.3L247.0 760.8L248.0 794.3L249.0 753.2L250.0 798.9L251.0 730.8L252.0 798.9L253.0 730.8L254.0 798.9L255.0 730.8L256.0 798.9L257.0 730.8L258.0 798.9L259.0 730.8L260.0 798.9L261.0 730.8L262.0 781.9L263.0 730.8L264.0 781.9L265.0 751.1L266.0 781.9L267.0 757.5L268.0 786.5L269.0 757.5L270.0 786.5L271.0 757.1L272.0 786.5L273.0 755.1L274.0 786.5L275.0 753.6L276.0 786.5L277.0 753.6L278.0 785.8L279.0 753.6L280.0 784.6L281.0 753.6L282.0 784.6L283.0 755.2L284.0 784.6L285.0 759.5L286.0 784.6L287.0 759.5L288.0 781.3L289.0 759.5L290.0 781.3L291.0 759.5L292.0 781.3L293.0 760.2L294.0 781.3L295.0 765.2L296.0 781.3L297.0 766.0L298.0 781.3L299.0 766.0L300.0 781.3L301.0 766.0L302.0 784.4L303.0 766.0L304.0 788.8L305.0 766.0L306.0 793.2L307.0 768.4L308.0 795.6L309.0 769.7L310.0 795.6L311.0 764.7L312.0 795.6L313.0 753.8L314.0 795.6L315.0 750.3L316.0 795.6L317.0 750.3L318.0 795.6L319.0 750.2L320.0 789.6L321.0 748.2L322.0 781.9L323.0 747.7L324.0 781.9L325.0 747.7L326.0 781.9L327.0 747.7L328.0 781.9L329.0 747.7L330.0 785.8L331.0 748.0L332.0 789.1L333.0 749.5L334.0 789.1L335.0 749.7L336.0 789.1L337.0 749.7L338.0 789.1L339.0 749.7L340.0 789.1L341.0 749.7L342.0 789.1L343.0 749.7L344.0 786.2L345.0 749.4L346.0 784.6L347.0 749.0L348.0 784.6L349.0 749.0L350.0 784.6L351.0 749.0L352.0 788.2L353.0 749.0L354.0 789.8L355.0 749.0L356.0 789.8L357.0 749.0L358.0 789.8L359.0 749.0L360.0 789.8L361.0 749.0L362.0 789.6L363.0 749.0L364.0 785.1L365.0 749.0L366.0 783.9L367.0 749.0L368.0 783.9L369.0 748.8L370.0 783.9L371.0 747.8L372.0 783.9L373.0 747.7L374.0 783.9L375.0 747.7L376.0 783.9L377.0 747.7L378.0 783.3L379.0 747.5L380.0 781.9L381.0 742.5L382.0 781.9L383.0 741.2L384.0 781.9L385.0 741.2L386.0 781.9L387.0 741.2L388.0 781.9L389.0 741.2L390.0 781.9L391.0 741.2L392.0 781.8L393.0 748.2L394.0 775.8L395.0 758.8L396.0 774.1L397.0 758.8L398.0 774.1L399.0 758.8L400.0 774.1L401.0 758.8L402.0 774.1L403.0 757.6L404.0 774.1L405.0 753.6L406.0 775.3L407.0 753.6L408.0 777.8L409.0 753.6L410.0 780.3L411.0 753.6L412.0 782.8L413.0 753.6L414.0 783.9L415.0 753.6L416.0 783.9L417.0 752.5L418.0 783.9L419.0 751.7L420.0 783.9L421.0 751.7L422.0 783.9L423.0 751.7L424.0 783.9L425.0 751.7L426.0 783.4L427.0 751.7L428.0 773.4L429.0 752.7L430.0 770.8L431.0 757.2L432.0 770.8L433.0 757.5L434.0 770.8L435.0 757.5L436.0 770.8L437.0 757.5L438.0 770.8L439.0 757.5L440.0 770.8L441.0 757.3L442.0 770.3L443.0 756.9L444.0 769.8L445.0 756.4L446.0 769.0L447.0 756.7L448.0 767.8L449.0 757.0L450.0 766.5L451.0 757.3L452.0 765.3L453.0 757.6L454.0 764.1L455.0 757.9L456.0 762.8L457.0 758.2L458.0 762.7L460.0 761.3L461.0 762.4L462.1 760.8L463.4 762.0L464.8 760.6L466.4 760.8L468.0 759.3L469.7 760.2L471.5 758.9L473.3 759.9L475.1 757.9L477.0 759.1L478.8 757.2L480.6 758.3L482.3 756.8L484.0 757.7L485.6 755.9L487.2 757.3L488.9 755.7L490.5 757.2L492.1 756.0L493.8 757.1L495.4 755.5L497.1 756.7L498.7 755.8L500.3 757.0L502.0 755.5L503.6 756.9L505.2 755.1L506.9 756.8L508.5 755.1L510.1 756.5L511.7 755.1L513.4 756.5L515.0 754.9L516.6 756.8L518.2 755.5L519.8 756.3L521.4 755.4L523.0 756.9L524.7 755.3L526.3 756.6L527.9 755.4L529.5 756.6L531.1 755.4L532.7 756.5L534.3 755.3L535.9 756.8L537.5 755.1L539.1 756.9L540.7 755.2L542.3 757.0L543.9 755.2L545.6 757.0L547.2 755.8L548.8 757.2L550.4 755.4L552.0 757.5L553.6 756.0L555.2 757.6L556.8 756.6L558.4 758.1L560.0 756.8L561.6 758.2L563.3 757.7L564.9 759.2L566.5 757.7L568.1 759.4L569.7 758.5L571.3 760.3L572.9 759.7L574.6 761.0L576.2 760.0L577.8 762.2L579.4 761.3L581.0 762.7L582.6 762.0L584.2 763.5L585.8 762.6L587.4 764.4L589.0 762.9L590.6 764.9L592.2 763.6L593.8 765.6L595.4 765.1L597.0 766.6L598.6 765.9L600.2 767.1L601.8 766.5L603.4 768.3L605.0 767.6L606.6 768.8L608.2 768.0L609.8 769.9L611.5 768.9L613.1 771.3L614.7 770.3L616.4 772.0L618.0 771.2L619.6 773.2L621.2 772.2L622.8 774.2L624.4 773.2L626.0 775.4L627.5 774.3L629.0 776.1L630.7 775.3L632.4 777.1L634.1 776.7L635.7 778.8L637.3 777.7L639.0 779.6L640.5 779.2L642.1 780.7L643.7 779.9L645.3 781.5L646.9 781.1L648.4 783.1L650.0 782.7L651.6 784.3L653.1 783.6L654.6 785.6L656.1 784.9L657.6 786.9L659.1 786.0L660.6 787.7L662.1 787.7L663.6 789.5L665.1 788.3L666.7 790.4L668.3 789.8L670.0 791.7L671.5 790.9L673.0 792.4L674.5 791.7L676.1 793.2L677.7 792.3L679.3 793.9L680.9 793.1L682.6 794.9L684.2 794.1L685.9 795.4L687.5 794.3L689.1 796.0L690.8 795.5L692.4 797.2L694.0 796.3L695.6 797.7L697.2 797.2L698.8 799.1L700.4 798.5L702.0 800.0L703.6 799.5L705.2 801.5L706.8 800.7L708.4 802.8L710.0 802.0L711.6 803.6L713.2 802.9L714.8 805.1L716.4 804.1L718.0 805.8L719.6 805.4L721.2 807.0L722.9 806.4L724.5 808.2L726.1 807.0L727.8 808.8L729.4 808.3L731.1 810.2L732.7 809.0L734.3 811.1L736.0 810.2L737.6 811.5L739.2 811.1L740.9 812.9L742.5 812.0L744.1 813.5L745.7 812.8L747.4 814.5L749.0 813.8L750.6 815.8L752.2 815.0L753.8 816.1L755.4 815.3L757.0 817.7L758.6 816.2L760.2 818.1L761.9 816.9L763.5 819.1L765.1 818.0L766.7 819.4L768.3 817.8L769.9 819.5L771.6 818.0L773.2 819.1L774.8 817.9L776.4 818.8L778.1 817.8L779.7 818.6L781.3 817.2L782.9 818.4L784.5 817.1L786.2 818.2L787.8 816.5L789.4 818.2L791.0 816.5L792.6 818.5L794.2 817.1L795.8 818.5L797.4 817.7L799.0 819.3L800.6 818.8L802.2 820.6L803.8 819.6L805.4 821.3L807.0 820.3L808.6 822.4L810.2 821.6L811.8 823.1L813.4 822.1L815.0 824.0L816.6 822.9L818.2 824.6L819.8 824.0L821.4 825.4L823.0 824.2L824.6 825.8L826.2 824.9L827.8 827.0L829.4 825.5L831.0 827.5L832.6 826.6L834.2 828.0L835.8 826.7L837.4 828.2L839.0 827.7L840.6 829.0L842.2 828.2L843.9 829.8L845.5 828.9L847.1 830.8L848.7 830.0L850.4 831.0L852.0 830.6L853.6 831.7L855.3 831.3L856.9 833.0L858.5 831.4L860.2 832.9L861.8 832.1L863.4 833.5L865.0 832.7L866.6 833.9L868.3 832.7L869.9 834.3L871.5 833.1L873.1 834.2L874.7 833.3L876.3 834.3L877.9 833.3L879.5 834.8L881.2 833.5L882.8 834.5L884.4 833.7L886.0 834.8L887.6 833.6L889.2 835.2L890.8 833.9L892.4 835.4L894.1 833.9L895.7 835.4L897.3 834.3L898.9 835.6L900.5 834.2L902.1 835.7L903.7 834.4L905.3 835.9L907.0 834.9L908.6 836.1L910.2 834.7L911.8 835.9L913.4 834.9L915.0 836.2L916.6 834.7L918.3 836.5L919.9 835.0L921.5 836.5L923.1 834.7L924.7 836.1L926.3 834.9L927.9 835.9L929.6 834.7L931.2 836.3L932.8 834.6L934.4 836.4L936.0 834.7L937.6 836.3L939.2 834.8L940.8 835.9L942.4 834.8L944.0 835.8L945.6 835.2L947.2 836.4L948.8 835.2L950.4 836.0L952.0 835.2L953.6 836.5L955.2 835.2L956.8 835.9L958.4 834.6L960.0 835.9L961.6 834.6L963.2 836.2L964.8 834.4L966.4 836.2L968.0 834.4L969.6 835.9L971.2 834.6L972.8 835.7L974.4 834.1L976.0 835.5L977.6 834.2L979.2 835.3L980.8 833.5L982.4 834.7L984.0 833.8L985.6 835.0L987.2 833.4L988.9 834.7L990.5 833.8L992.1 834.7L993.8 833.5L995.4 835.1L997.1 833.7L998.7 834.9L1000.3 833.8L1002.0 834.9L1003.6 833.8L1005.2 834.7L1006.9 833.7L1008.5 835.3L1010.1 833.7L1011.7 835.0L1013.4 833.7L1015.0 834.8L1016.6 833.0L1018.2 834.5L1019.8 833.0L1021.4 834.1L1023.0 832.6L1024.7 834.2L1026.3 832.8L1027.9 833.5L1029.5 832.2L1031.1 834.0L1032.7 832.3L1034.3 833.6L1035.9 832.2L1037.5 833.5L1039.1 832.7L1040.7 833.7L1042.3 832.6L1043.9 834.0L1045.6 833.1L1047.2 834.4L1048.8 832.8L1050.4 834.4L1052.0 833.2L1053.6 834.7L1055.2 833.3L1056.8 835.0L1058.4 833.9L1060.0 834.9L1061.6 834.2L1063.3 835.2L1064.9 834.1L1066.5 835.1L1068.1 834.2L1069.7 835.4L1071.3 834.1L1072.9 835.4L1074.6 834.1L1076.2 835.8L1077.8 834.6L1079.4 836.0L1081.0 834.6L1082.6 836.5L1084.2 835.1L1085.8 836.6L1087.4 835.3L1089.0 837.1L1090.6 835.8L1092.2 837.4L1093.8 835.8L1095.4 837.6L1097.0 836.7L1098.6 837.8L1100.2 836.7L1101.8 838.4L1103.4 836.9L1105.0 838.9L1106.6 837.7L1108.2 838.7L1109.9 838.0L1111.5 839.0L1113.1 837.9L1114.7 839.8L1116.4 838.1L1118.0 839.6L1119.6 838.4L1121.3 840.0L1122.9 839.0L1124.5 840.6L1126.2 839.6L1127.8 840.5L1129.4 839.4L1131.0 841.0L1132.7 840.2L1134.4 841.7L1136.1 840.4L1137.8 841.7L1139.5 841.1L1141.2 842.5L1142.8 841.6L1144.5 842.9L1146.1 842.0L1147.7 844.0L1149.3 842.7L1150.8 844.2L1152.2 843.4L1153.6 844.5L1155.5 843.6L1157.1 845.1L1158.6 844.2L1160.0 846.5L1161.3 845.5L1162.7 847.2L1164.1 846.1L1165.8 847.8L1167.7 846.5L1170.0 848.1L1171.3 847.0L1172.6 848.6L1174.0 847.1L1175.5 848.5L1177.0 847.3L1178.5 849.1L1180.2 847.5L1181.8 849.0L1183.5 848.0L1185.2 849.1L1186.9 847.9L1188.7 849.4L1190.4 847.9L1192.2 849.4L1193.9 848.4L1195.7 849.8L1197.4 848.4L1199.1 849.8L1200.8 848.6L1202.4 850.6L1204.0 849.7L1205.6 851.3L1207.3 850.3L1208.9 851.6L1210.5 850.6L1212.1 852.5L1213.7 851.5L1215.3 853.4L1216.9 852.4L1218.6 854.0L1220.2 853.5L1221.8 854.7L1223.4 854.0L1225.0 856.1L1226.6 855.1L1228.2 857.0L1229.9 856.1L1231.5 857.5L1233.1 856.9L1234.7 858.8L1236.3 858.0L1237.9 859.4L1239.5 858.7L1241.2 860.4L1242.8 859.5L1244.4 861.0L1246.0 860.3L1247.6 862.1L1249.2 861.0L1250.8 862.8L1252.5 861.8L1254.1 863.5L1255.7 863.0L1257.3 864.3L1258.9 863.9L1260.5 865.5L1262.1 864.2L1263.8 865.8L1265.4 865.3L1267.0 866.6L1268.6 865.4L1270.2 867.4L1271.9 865.9L1273.5 867.6L1275.1 866.7L1276.7 867.8L1278.3 867.0L1280.0 868.2L1281.6 867.0L1283.2 868.2L1284.8 867.4L1286.4 868.9L1288.1 867.8L1289.7 869.1L1291.3 867.5L1292.9 869.5L1294.5 868.1L1296.2 869.5L1297.8 868.3L1299.4 869.9L1301.0 868.4L1302.6 870.4L1304.3 869.3L1305.9 871.0L1307.5 869.6L1309.1 871.2L1310.7 869.9L1312.4 871.3L1314.0 870.4L1315.6 872.3L1317.2 871.1L1318.8 872.7L1320.5 871.6L1322.1 872.9L1323.7 872.1L1325.3 873.3L1326.9 872.6L1328.6 874.3L1330.2 873.1L1331.8 874.7L1333.4 873.3L1335.0 875.4L1336.6 874.4L1338.2 875.9L1339.8 874.6L1341.4 876.0L1343.0 875.4L1344.6 876.7L1346.2 876.2L1347.7 877.5L1349.3 876.1L1350.9 877.9L1352.6 876.7L1354.2 878.6L1355.8 877.7L1357.5 879.2L1359.1 877.8L1360.8 879.6L1362.5 878.0L1364.2 879.7L1365.8 878.4L1367.4 879.9L1369.1 878.1L1370.8 880.0L1372.5 878.5L1374.3 879.9L1376.1 878.4L1377.9 879.4L1379.6 878.6L1381.4 879.4L1383.2 878.2L1385.0 879.5L1386.7 877.3L1388.5 880.5L1390.2 876.7L1391.8 880.2L1393.4 875.9L1395.0 880.1L1396.5 876.0L1398.0 881.0L1399.4 876.0L1400.7 879.5L1402.9 874.7L1405.0 880.6L1406.9 875.8L1408.6 879.6L1410.2 875.2L1411.8 880.0L1413.3 875.8L1414.7 878.3L1416.2 875.5L1417.6 879.9L1419.2 875.3L1420.8 878.7L1422.5 874.7L1424.3 877.5L1426.1 874.2L1427.9 877.3L1429.7 873.5L1431.5 875.6L1433.2 872.8L1434.9 875.2L1436.6 871.2L1438.1 874.0L1439.6 871.5L1440.9 873.8L1442.9 869.7L1444.5 872.6L1445.9 869.1L1447.2 870.7L1448.4 866.9L1449.6 868.1L1451.0 863.6L1452.0 866.0L1453.0 862.8L1454.0 863.9L1455.1 859.8L1456.1 861.2L1457.1 856.5L1458.1 857.3L1459.1 854.0L1460.0 855.4L1461.0 850.8L1462.0 852.7L1463.0 847.7L1464.0 850.4L1464.9 845.5L1465.8 846.7L1466.8 843.0L1467.8 845.1L1468.9 839.6L1470.0 841.4L1470.9 837.9L1471.8 839.4L1472.8 833.7L1473.9 836.5L1474.9 832.5L1475.9 832.6L1477.0 829.5L1478.0 830.0L1479.1 826.8L1480.1 827.2L1481.1 823.2L1482.0 826.3L1483.4 821.4L1484.7 823.6L1486.0 818.3L1487.2 820.9L1488.5 815.3L1489.7 819.1L1490.9 815.0L1492.0 816.3L1493.7 812.4L1495.3 816.5L1496.8 813.0L1498.3 814.4L1500.0 808.8L1500.5 811.0L1501.1 807.5L1501.6 809.0L1502.1 804.4L1502.7 807.3L1503.3 802.3L1503.8 803.8L1504.4 798.1L1505.0 800.6L1505.5 795.0L1506.1 797.3L1506.7 791.8L1507.3 793.0L1507.8 788.6L1508.4 790.2L1509.0 784.9L1509.5 786.2L1510.1 782.4L1510.6 783.9L1511.2 778.6L1511.8 780.9L1512.3 776.0L1512.9 777.6L1513.5 773.5L1514.0 775.0L1514.6 770.8L1515.1 771.6L1515.7 766.5L1516.3 768.9L1516.8 764.5L1517.4 765.0L1517.9 760.0L1518.5 762.4L1519.0 756.7L1519.5 759.8L1520.0 754.4L1520.5 756.7L1521.0 750.8L1521.5 752.5L1522.0 748.2L1522.5 748.8L1523.0 744.8L1523.5 747.0L1524.0 742.0L1524.5 743.0L1525.0 738.6L1525.4 738.8L1525.9 734.4L1526.3 735.9L1526.8 732.3L1527.2 732.5L1527.6 728.1L1528.0 730.1L1528.4 725.9L1528.8 726.2L1529.2 720.9L1529.5 722.9L1529.8 718.4L1530.1 720.1L1530.4 714.9L1530.8 717.2L1531.1 711.7L1531.4 714.0L1531.7 709.7L1532.0 710.3L1532.4 706.8L1532.8 708.3L1533.2 703.6L1533.6 703.8L1534.0 699.0L1534.5 701.0L1535.0 695.9L1535.5 697.6L1536.0 693.5L1536.5 694.6L1537.0 689.7L1537.5 692.1L1538.0 686.8L1538.6 689.2L1539.1 683.3L1539.7 685.5L1540.3 680.8L1540.9 682.7L1541.5 678.8L1542.1 680.6L1542.7 675.2L1543.5 677.6L1544.3 672.6L1545.1 673.8L1545.9 668.9L1546.8 670.9L1547.6 666.5L1548.5 667.2L1549.4 662.8L1550.3 664.0L1551.2 660.1L1552.1 662.7L1553.0 658.2L1553.8 660.6L1554.7 656.2L1556.4 658.2L1558.2 654.0L1560.0 659.8L1561.8 652.9L1563.5 659.1L1565.1 654.5L1566.7 660.7L1567.4 656.4L1568.1 665.8L1568.6 656.6L1569.2 668.4L1569.7 658.7L1570.2 670.8L1570.7 662.5L1571.3 674.1L1571.9 668.4L1572.5 679.5L1573.2 669.9L1574.0 683.0L1574.8 674.8L1575.8 685.0L1576.9 677.7L1578.2 688.3L1579.6 677.6L1581.1 687.3L1582.6 679.4L1584.3 688.6L1585.9 684.6L1587.5 692.5L1589.1 685.4L1590.7 693.2L1592.1 685.5L1593.5 692.8L1594.7 686.7L1595.8 695.5L1597.2 690.5L1598.4 699.2L1599.5 693.0L1600.4 704.9L1601.1 698.8L1601.8 705.6L1602.4 701.5L1602.9 708.7L1603.5 702.9L1603.9 706.8L1604.2 698.1L1604.5 706.3L1604.7 693.7L1604.9 703.3L1605.1 689.6L1605.2 696.0L1605.4 687.9L1605.5 691.3L1605.6 682.5L1605.8 688.7L1605.9 679.5L1606.0 686.3L1606.2 677.7L1606.3 687.1L1606.4 682.0L1606.5 693.4L1606.6 685.0L1606.6 695.6L1606.7 692.0L1606.9 701.9L1607.0 696.2L1609.0 702.4L1609.8 695.4L1610.7 702.8L1611.8 695.4L1613.0 699.0L1614.3 693.2L1615.7 699.8L1617.1 689.8L1618.5 698.2L1619.9 685.9L1621.2 695.5L1622.5 686.4L1623.7 689.6L1624.8 683.9L1625.8 687.9L1626.9 679.5L1628.0 683.0L1629.1 675.2L1630.1 679.8L1631.2 672.8L1632.2 677.2L1633.1 667.7L1633.9 675.1L1634.7 667.6L1635.4 671.6L1636.0 665.4L1636.9 673.6L1636.8 666.6L1636.7 679.6L1637.7 670.6L1638.9 679.0L1640.4 674.1L1642.2 681.7L1644.1 671.7L1646.1 680.8L1648.1 671.4L1649.9 680.4L1651.6 672.8L1652.9 677.6L1654.2 672.4L1655.3 677.8L1656.5 666.5L1657.6 676.5L1658.7 665.9L1659.9 672.9L1661.1 661.4L1662.3 671.2L1663.6 660.6L1664.9 667.5L1666.3 658.9L1667.7 664.4L1669.1 658.3L1670.4 664.5L1671.8 652.8L1673.2 661.7L1674.6 652.9L1675.7 658.6L1676.8 650.4L1677.9 658.1L1679.0 647.9L1680.1 656.1L1681.3 646.5L1682.4 650.8L1683.5 642.4L1684.6 648.7L1685.7 638.7L1686.8 648.3L1688.2 636.1L1689.5 645.2L1690.9 638.0L1692.3 643.3L1693.6 634.2L1695.0 641.3L1696.4 633.5L1697.7 640.3L1699.1 628.7L1700.2 635.5L1701.3 627.5L1702.5 634.4L1703.6 625.9L1704.7 634.2L1705.8 621.5L1706.9 630.5L1708.0 622.0L1709.2 628.8L1710.3 619.0L1711.4 623.4L1712.2 613.5L1713.0 620.6L1713.9 613.2L1714.7 620.6L1715.5 607.6L1716.3 615.0L1717.1 607.0L1718.0 611.9L1718.8 605.0L1719.6 608.7L1720.4 598.4L1721.2 604.8L1722.1 598.4L1722.9 602.2L1723.7 595.9L1724.4 600.6L1725.1 590.3L1725.9 599.1L1726.6 587.8L1727.3 596.0L1728.0 587.5L1728.8 590.8L1729.5 580.4L1730.2 586.8L1730.9 580.3L1731.7 585.6L1732.4 577.3L1733.1 582.8L1733.8 575.3L1734.6 578.6L1735.3 568.6L1736.0 575.4L1736.8 565.8L1737.6 572.4L1738.4 562.4L1739.3 571.4L1740.1 560.8L1740.9 566.2L1741.7 560.3L1742.5 565.8L1743.3 556.8L1744.1 560.5L1744.9 551.2L1745.8 560.5L1746.6 551.6L1747.4 558.0L1748.2 546.8L1749.1 552.7L1750.0 545.5L1750.8 549.6L1751.7 538.6L1752.6 546.0L1753.5 539.1L1754.3 542.3L1755.2 536.1L1756.1 540.3L1757.0 530.0L1757.9 536.5L1758.7 530.6L1759.6 537.9L1760.5 525.4L1762.0 535.2L1763.6 526.6L1765.1 530.8L1766.7 523.9L1768.2 529.8L1769.7 524.7L1771.3 528.2L1772.8 525.6L1774.3 526.7L1775.9 524.0L1777.4 526.4L1778.9 523.5L1780.4 525.1L1781.9 522.4L1783.5 523.6L1785.0 520.3L1785.9 521.8L1786.9 518.5L1787.8 519.0L1788.8 514.8L1789.7 516.1L1790.7 512.3L1791.6 512.9L1792.6 508.3L1793.5 508.9L1794.5 506.1L1795.4 506.5L1796.4 504.3L1797.3 505.8L1798.8 502.9L1800.4 505.6L1801.9 504.3L1803.4 506.5L1805.0 505.6L1806.5 509.5L1808.1 507.3L1809.6 510.3L1811.1 507.8L1812.7 509.6L1814.2 506.8L1815.8 507.5L1817.3 504.4L1818.8 505.1L1820.4 502.5L1821.9 503.8L1823.6 501.5L1825.4 503.1L1827.1 501.2L1828.9 502.8L1830.6 500.7L1832.4 503.4L1834.1 500.2L1835.9 503.2L1837.7 500.5L1839.6 503.1L1841.5 500.9L1843.2 503.3L1844.9 501.7L1846.4 502.7L1847.6 499.2L1848.7 499.6L1849.6 495.3L1850.6 495.0L1851.4 490.5L1852.2 491.4L1853.0 488.5L1853.8 490.6L1854.2 488.5L1854.6 492.4L1854.9 490.7L1855.2 494.0L1855.4 493.3L1855.7 496.6L1855.9 496.8L1856.2 501.1L1856.5 500.2L1856.8 504.1L1857.2 504.2L1857.6 508.5L1858.1 508.1L1858.7 512.5L1859.1 512.2L1859.6 515.3L1860.1 514.1L1860.6 517.9L1861.1 516.9L1861.7 521.1L1862.3 520.3L1862.9 523.5L1863.5 523.2L1864.1 526.6L1864.7 526.3L1865.3 530.0L1866.0 528.9L1866.6 533.1L1867.3 532.9L1867.9 535.9L1868.6 535.9L1869.2 539.6L1869.8 539.5L1870.4 542.4L1871.0 542.7L1871.5 545.7L1872.0 545.9L1872.5 549.0L1873.0 548.0L1873.4 552.1L1873.9 551.3L1874.4 555.7L1874.9 554.5L1875.4 559.0L1875.9 558.2L1876.4 562.1L1876.9 561.9L1877.3 565.6L1877.8 564.9L1878.3 568.4L1878.8 567.6L1879.3 571.5L1879.8 571.6L1880.3 575.3L1880.8 574.3L1881.2 577.6L1881.7 578.0L1882.2 580.8L1882.7 580.9L1883.2 584.2L1883.8 583.9L1884.5 587.0L1885.1 586.9L1885.8 590.4L1886.4 589.9L1887.1 593.5L1887.7 592.5L1888.4 596.1L1889.0 595.9L1889.7 599.5L1890.3 598.0L1891.0 601.3L1891.6 601.2L1892.3 605.0L1892.9 603.6L1893.6 607.4L1894.2 608.0L1894.9 611.3L1895.5 611.2L1895.9 615.0L1896.4 613.5L1896.8 617.2L1897.3 616.8L1897.7 620.3L1898.1 619.2L1898.6 622.9L1899.0 622.8L1899.5 625.9L1899.9 625.7L1900.3 629.0L1900.8 628.6L1901.2 632.8L1901.7 632.3L1902.1 635.6L1902.5 635.9L1903.0 639.3L1903.4 638.6L1903.9 642.8L1904.3 642.5L1904.7 646.6L1905.2 645.4L1905.6 649.4L1906.0 649.2L1906.5 652.4L1906.9 651.7L1907.4 655.4L1907.8 655.3L1908.2 659.2L1908.7 658.8L1909.1 662.8L1909.5 661.8L1910.0 666.6L1910.4 665.8L1910.9 669.8L1911.3 670.5L1911.7 674.0L1912.2 674.2L1912.6 677.7L1913.0 677.5L1913.5 681.6L1913.9 681.4L1914.3 686.2L1914.8 685.9L1915.2 689.7L1915.6 689.0L1916.1 692.2L1916.5 692.3L1916.9 694.9L1917.4 694.6L1917.8 697.8L1918.3 696.5L1918.7 700.2L1919.1 699.0L1919.6 701.1L1920.0 699.7L1920.7 701.6L1921.4 700.1L1922.2 701.1L1922.9 698.3L1923.6 699.3L1924.3 696.4L1925.1 696.1L1925.8 692.6L1926.5 692.7L1927.2 688.8L1928.0 688.7L1928.7 684.6L1929.4 684.5L1930.1 680.1L1930.9 680.0L1931.6 676.2L1932.3 676.9L1933.0 673.5L1933.7 674.3L1934.5 670.5L1935.2 671.2L1935.9 668.3L1936.6 668.7L1937.4 664.5L1938.1 665.5L1938.8 661.9L1939.5 662.4L1940.3 658.7L1941.0 660.0L1941.7 656.5L1942.4 657.2L1943.2 652.8L1943.9 653.8L1944.6 649.9L1945.3 651.1L1946.0 647.8L1946.8 648.3L1947.5 644.5L1948.2 645.1L1949.0 641.1L1949.7 641.3L1950.4 638.0L1951.2 639.0L1951.9 635.0L1952.6 635.6L1953.3 631.6L1954.0 632.6L1954.7 629.3L1955.4 630.2L1956.1 626.5L1956.8 627.5L1958.1 624.3L1959.3 624.3L1960.5 620.1L1961.7 620.4L1962.8 616.7L1964.0 618.6L1965.2 615.2L1966.3 617.5L1967.5 614.6L1968.4 618.0L1969.3 617.2L1970.2 620.4L1971.1 621.0L1972.0 626.0L1972.9 626.3L1973.7 630.5L1974.6 630.3L1975.5 633.6L1976.4 632.2L1977.3 634.4L1978.2 631.1L1978.5 632.0L1978.7 629.5L1979.0 630.6L1979.3 627.5L1979.6 628.5L1979.9 625.8L1980.2 626.2L1980.4 623.3L1980.7 624.0L1981.0 620.8L1981.3 620.5L1981.6 617.4L1981.9 617.5L1982.1 614.1L1982.4 614.1L1982.7 611.1L1983.0 611.0L1983.3 606.6L1983.6 607.7L1983.8 603.3L1984.1 603.4L1984.4 600.0L1984.7 599.5L1985.0 595.9L1985.2 596.4L1985.5 592.3L1985.8 592.6L1986.0 588.1L1986.3 588.3L1986.6 584.7L1986.8 585.2L1987.1 581.1L1987.3 581.2L1987.6 577.3L1987.8 577.4L1988.1 574.3L1988.3 575.0L1988.6 570.6L1988.8 571.8L1989.1 567.2L1989.4 567.4L1989.6 563.6L1989.9 564.1L1990.2 560.0L1990.4 559.7L1990.7 555.0L1990.9 555.3L1991.2 550.9L1991.4 550.8L1991.7 546.8L1991.9 546.7L1992.1 542.7L1992.4 542.6L1992.6 538.3L1992.8 539.1L1993.0 534.9L1993.3 535.3L1993.5 531.4L1993.7 532.1L1993.9 528.4L1994.2 528.9L1994.4 525.3L1994.6 526.2L1994.8 523.7L1995.0 524.0L1995.3 521.4L1995.5 522.8L1995.7 520.3L1996.0 522.5L1996.2 519.9L1996.4 523.0L1996.6 520.7L1996.9 523.4L1997.1 522.7L1997.3 525.3L1997.5 524.0L1997.8 528.0L1998.0 527.2L1998.2 530.0L1998.4 529.4L1998.7 534.0L1998.9 533.5L1999.1 537.7L1999.3 537.8L1999.6 541.5L1999.8 541.3L2000.0 545.8L2000.2 546.1L2000.5 549.6L2000.7 549.9L2000.9 554.8L2001.1 554.8L2001.3 558.1L2001.6 559.1L2001.8 563.1L2002.0 562.8L2002.2 566.6L2002.4 565.8L2002.7 570.3L2002.9 570.0L2003.1 573.6L2003.3 573.3L2003.5 575.8L2003.9 576.1L2004.3 580.0L2004.7 580.7L2005.1 583.9L2005.4 583.5L2005.8 587.3L2006.2 586.4L2006.5 589.6L2006.9 588.5L2007.3 592.0L2007.7 590.9L2008.1 594.4L2008.5 593.8L2009.0 597.0L2009.5 597.0L2010.0 601.4L2010.3 600.4L2010.7 603.5L2011.0 603.3L2011.4 606.4L2011.8 606.7L2012.2 610.4L2012.6 609.9L2013.0 614.0L2013.4 613.9L2013.8 617.2L2014.3 618.0L2014.7 621.3L2015.1 621.7L2015.6 625.4L2016.0 625.4L2016.4 629.3L2016.9 628.6L2017.3 632.7L2017.7 631.8L2018.2 635.8L2018.6 635.3L2019.0 638.4L2019.4 638.4L2019.8 641.4L2020.2 640.1L2020.6 642.6L2021.0 641.3L2022.6 645.9L2024.2 643.6L2025.6 644.4L2027.1 640.7L2028.5 640.6L2030.0 636.3L2030.9 636.6L2031.8 632.5L2032.8 632.8L2033.7 629.1L2034.7 629.1L2035.6 625.4L2036.5 626.1L2037.3 622.5L2038.1 623.3L2038.9 622.0L2039.3 624.0L2039.7 623.1L2040.1 627.0L2040.5 625.5L2040.8 629.2L2041.1 629.2L2041.5 633.2L2041.8 633.4L2042.1 637.3L2042.4 637.7L2042.7 641.2L2043.0 641.3L2043.4 644.8L2043.7 644.3L2044.1 647.7L2044.5 646.7L2045.7 650.6L2046.9 649.6L2048.3 651.2L2049.6 648.7L2051.0 652.2L2052.3 652.9L2052.6 656.1L2052.9 655.5L2053.2 658.7L2053.5 658.0L2053.8 662.3L2054.1 662.0L2054.4 665.0L2054.7 665.2L2055.0 670.0L2055.3 669.7L2055.6 674.1L2055.9 673.9L2056.2 678.1L2056.5 678.4L2056.8 682.7L2057.1 683.1L2057.4 686.5L2057.6 686.4L2057.9 690.3L2058.2 690.3L2058.5 693.7L2058.7 693.5L2059.0 696.9L2059.2 695.5L2059.5 699.3L2059.7 697.5L2059.9 699.7L2060.1 698.3L2060.3 699.7L2060.5 698.0L2060.7 699.2L2060.9 695.9L2061.1 696.6L2061.2 693.7L2061.4 693.3L2061.5 690.2L2061.6 690.0L2061.7 686.1L2061.8 686.1L2061.9 681.3L2062.1 681.0L2062.2 676.8L2062.3 676.0L2062.4 671.9L2062.5 672.3L2062.6 668.0L2062.7 668.1L2062.9 664.2L2063.0 664.0L2063.2 661.0L2063.3 661.2L2063.5 658.2L2064.6 656.9L2065.8 653.5L2067.2 655.6L2069.0 653.7L2070.3 655.8L2071.8 653.8L2073.4 655.9L2075.1 653.9L2076.8 655.6L2078.6 653.6L2080.2 655.1L2081.5 651.8L2082.8 653.7L2084.1 650.3L2085.5 651.3L2086.8 647.1L2088.1 648.3L2089.3 644.0L2090.4 644.8L2091.4 641.4L2092.3 642.7L2093.0 638.9L2093.7 638.9L2094.3 634.5L2094.9 635.1L2095.4 631.1L2095.9 632.4L2096.4 628.5L2097.0 628.8L2098.4 625.2L2099.7 625.7L2100.9 622.1L2102.0 622.8L2103.5 621.9L2104.5 621.5L2104.6 618.2L2104.6 618.2L2104.7 614.6L2104.7 615.2L2104.7 611.6L2104.7 612.0L2104.8 607.5L2104.8 606.6L2104.8 602.2L2104.8 602.1L2104.8 598.3L2104.8 598.3L2104.8 593.8L2104.8 594.0L2104.8 589.7L2104.8 589.6L2104.8 586.4L2104.8 586.9L2104.9 583.6L2104.9 584.9L2104.9 582.5L2105.0 584.2L2105.1 582.2L2105.1 585.8L2105.2 583.9L2105.2 587.8L2105.3 587.4L2105.4 590.4L2105.5 590.8L2105.5 594.2L2105.6 594.2L2105.7 599.6L2105.8 598.9L2105.9 604.0L2106.0 604.7L2106.0 608.6L2106.1 609.5L2106.2 613.8L2106.3 613.7L2106.4 617.3L2106.5 616.8L2106.6 620.7L2106.7 619.9L2106.8 623.3L2106.8 622.1L2106.9 624.4L2107.0 622.5L2107.1 624.7L2107.2 622.4L2107.2 623.6L2107.3 620.1L2107.4 620.6L2107.5 617.6L2107.5 617.5L2107.6 613.9L2107.7 613.8L2107.8 609.2L2107.8 608.4L2107.9 604.5L2108.0 603.6L2108.1 599.7L2108.2 599.2L2108.2 594.9L2108.3 594.4L2108.4 590.6L2108.5 590.4L2108.5 586.2L2108.6 586.8L2108.7 583.1L2108.8 584.3L2108.8 581.7L2108.9 582.4L2109.0 580.0L2109.1 582.5L2109.2 581.1L2109.3 584.0L2109.4 582.8L2109.5 586.7L2109.5 586.8L2109.6 590.7L2109.7 591.5L2109.8 595.5L2109.9 595.9L2110.0 600.4L2110.1 601.0L2110.2 605.4L2110.3 605.6L2110.4 609.8L2110.5 609.7L2110.5 613.8L2110.6 613.4L2110.7 616.8L2110.8 615.8L2110.9 618.6L2111.0 617.4L2111.1 618.9L2111.2 615.7L2111.3 617.6L2111.3 613.5L2111.4 615.0L2111.5 611.1L2111.6 610.6L2111.7 607.0L2111.8 606.6L2111.9 602.0L2112.0 601.9L2112.0 596.8L2112.1 597.3L2112.2 592.1L2112.3 592.5L2112.4 587.8L2112.5 587.4L2112.6 583.6L2112.7 584.0L2112.7 581.5L2112.8 582.5L2112.9 579.6L2113.0 581.2L2113.1 579.6L2113.2 581.4L2113.3 580.5L2113.4 583.7L2113.5 583.9L2113.6 588.5L2113.7 588.5L2113.8 592.9L2113.9 592.8L2114.1 597.8L2114.2 597.8L2114.3 602.8L2114.4 603.3L2114.5 606.6L2114.6 606.6L2114.7 610.7L2114.8 609.5L2114.9 612.0L2115.0 610.4L2115.1 612.1L2115.2 609.0L2115.3 610.0L2115.4 606.4L2115.5 606.7L2115.5 602.9L2115.6 603.6L2115.7 598.6L2115.8 598.5L2115.9 594.6L2116.0 593.7L2116.1 589.1L2116.2 589.2L2116.3 585.1L2116.4 584.9L2116.5 580.5L2116.5 580.8L2116.6 577.5L2116.7 578.4L2116.8 574.7L2116.9 576.1L2117.0 574.4L2117.1 576.7L2117.2 574.5L2117.3 578.0L2117.4 577.4L2117.5 581.7L2117.6 581.3L2117.7 585.3L2117.8 586.4L2117.9 590.4L2118.1 590.9L2118.2 595.4L2118.3 595.4L2118.4 600.4L2118.5 600.2L2118.6 604.2L2118.7 603.2L2118.8 606.6L2118.9 604.9L2119.0 607.1L2119.1 604.6L2119.2 606.4L2119.2 603.3L2119.3 604.2L2119.4 600.5L2119.5 601.1L2119.6 597.3L2119.6 596.9L2119.7 592.8L2119.8 592.8L2119.9 588.6L2120.0 587.7L2120.0 584.0L2120.1 583.5L2120.2 579.0L2120.3 578.4L2120.4 575.1L2120.4 574.5L2120.5 570.5L2120.6 571.4L2120.7 567.9L2120.8 568.6L2120.8 565.7L2120.9 567.7L2121.0 564.8L2121.1 566.6L2121.2 565.7L2121.3 568.6L2121.4 568.4L2121.5 571.9L2121.6 571.6L2121.7 575.4L2121.8 575.7L2121.9 580.4L2122.0 580.7L2122.0 585.7L2122.1 585.6L2122.2 590.0L2122.3 590.8L2122.4 594.6L2122.5 594.5L2122.6 598.1L2122.7 597.5L2122.8 599.8L2122.9 599.4L2123.0 600.7L2123.1 599.1L2123.2 600.5L2123.2 596.9L2123.3 597.5L2123.4 594.0L2123.5 594.7L2123.6 591.0L2123.7 590.8L2123.8 586.5L2123.8 586.5L2123.9 581.9L2124.0 580.9L2124.1 576.9L2124.2 576.7L2124.2 571.6L2124.3 571.9L2124.4 568.0L2124.5 567.7L2124.6 563.7L2124.7 564.0L2124.8 560.7L2124.8 562.7L2124.9 559.1L2125.0 561.7L2125.1 559.4L2125.2 562.7L2125.3 561.2L2125.4 564.1L2125.5 564.2L2125.5 567.3L2125.6 567.2L2125.7 571.4L2125.8 571.8L2125.9 576.4L2126.0 576.5L2126.1 581.7L2126.2 581.6L2126.3 586.6L2126.4 586.8L2126.5 590.2L2126.5 590.3L2126.6 593.8L2126.7 592.9L2126.8 596.6L2126.9 594.5L2127.0 597.5L2127.1 594.5L2127.2 596.1L2127.3 593.2L2127.4 594.3L2127.5 590.0L2127.5 590.5L2127.6 586.7L2127.7 586.6L2127.8 582.5L2127.9 582.3L2128.0 578.0L2128.1 577.3L2128.2 572.7L2128.3 572.1L2128.4 568.1L2128.5 568.2L2128.5 563.8L2128.6 565.2L2128.7 561.3L2128.8 562.8L2128.9 559.2L2129.0 561.1L2129.1 559.1L2129.2 562.5L2129.3 560.4L2129.5 564.5L2129.6 563.8L2129.7 567.2L2129.8 567.2L2129.9 571.3L2130.1 571.5L2130.2 576.3L2130.3 576.1L2130.4 580.7L2130.5 581.2L2130.6 585.7L2130.7 585.0L2130.8 589.0L2130.9 588.6L2130.9 592.0L2131.0 590.8" stroke="#FF00FF"/>
<path d="M171.0 1005.8L172.0 1008.7L173.0 1005.8L174.0 1008.7L175.0 1005.8L176.0 1008.7L177.0 1005.8L178.0 1008.7L179.0 1005.8L180.0 1008.6L181.0 1005.8L182.0 1008.6L183.0 1005.7L184.0 1008.8L185.0 1006.4L186.0 1009.2L187.0 1007.0L188.0 1009.2L189.0 1007.0L190.0 1009.6L191.0 1007.0L192.0 1011.6L193.0 1007.0L194.0 1013.1L195.0 1007.1L196.0 1013.4L197.0 1006.9L198.0 1013.6L199.0 1006.2L200.0 1013.9L201.0 1006.0L202.0 1014.2L203.0 1006.3L204.0 1015.5L205.0 1006.6L206.0 1016.7L207.0 1008.6L208.0 1017.0L209.0 1010.9L210.0 1017.3L211.0 1011.3L212.0 1017.6L213.0 1011.6L214.0 1020.4L215.0 1008.1L216.0 1026.2L217.0 1006.9L218.0 1032.0L219.0 1007.2L220.0 1032.9L221.0 1007.3L222.0 1033.1L223.0 1005.5L224.0 1033.2L225.0 1001.0L226.0 1033.3L227.0 1001.1L228.0 1033.5L229.0 1001.3L230.0 1033.6L231.0 1001.4L232.0 1031.8L233.0 1001.5L234.0 1026.0L235.0 1001.7L236.0 1026.1L237.0 1010.4L238.0 1028.4L239.0 1013.9L240.0 1030.3L241.0 1012.0L242.0 1030.5L243.0 1010.1L244.0 1030.6L245.0 1010.2L246.0 1030.7L247.0 1010.3L248.0 1043.9L249.0 1002.8L250.0 1048.6L251.0 980.5L252.0 1048.7L253.0 980.7L254.0 1048.9L255.0 980.8L256.0 1048.9L257.0 980.7L258.0 1048.8L259.0 980.6L260.0 1048.8L261.0 980.6L262.0 1031.7L263.0 980.5L264.0 1031.7L265.0 1000.8L266.0 1031.6L267.0 1007.2L268.0 1036.1L269.0 1007.1L270.0 1036.1L271.0 1006.6L272.0 1036.0L273.0 1004.6L274.0 1036.0L275.0 1003.1L276.0 1035.9L277.0 1003.0L278.0 1035.2L279.0 1002.9L280.0 1033.9L281.0 1002.9L282.0 1033.8L283.0 1004.4L284.0 1033.7L285.0 1008.7L286.0 1033.7L287.0 1008.6L288.0 1030.4L289.0 1008.5L290.0 1030.3L291.0 1008.5L292.0 1030.6L293.0 1009.7L294.0 1031.1L295.0 1015.3L296.0 1031.7L297.0 1016.7L298.0 1032.2L299.0 1017.2L300.0 1032.8L301.0 1017.8L302.0 1036.5L303.0 1018.3L304.0 1041.4L305.0 1018.9L306.0 1046.4L307.0 1021.9L308.0 1049.4L309.0 1023.7L310.0 1049.9L311.0 1019.3L312.0 1050.5L313.0 1008.9L314.0 1051.0L315.0 1006.0L316.0 1051.2L317.0 1005.8L318.0 1051.0L319.0 1005.5L320.0 1044.7L321.0 1003.3L322.0 1036.9L323.0 1002.6L324.0 1036.7L325.0 1002.4L326.0 1036.5L327.0 1002.2L328.0 1036.3L329.0 1002.0L330.0 1040.0L331.0 1002.1L332.0 1043.0L333.0 1003.2L334.0 1042.7L335.0 1003.1L336.0 1042.3L337.0 1002.7L338.0 1042.0L339.0 1002.4L340.0 1041.6L341.0 1001.8L342.0 1041.0L343.0 1001.3L344.0 1037.5L345.0 1000.4L346.0 1035.3L347.0 999.5L348.0 1034.7L349.0 998.9L350.0 1034.1L351.0 998.3L352.0 1037.2L353.0 997.7L354.0 1038.2L355.0 997.2L356.0 1037.6L357.0 996.6L358.0 1037.0L359.0 996.0L360.0 1036.5L361.0 995.4L362.0 1035.7L363.0 994.9L364.0 1030.6L365.0 994.2L366.0 1028.7L367.0 993.4L368.0 1027.9L369.0 992.5L370.0 1027.2L371.0 990.8L372.0 1026.6L373.0 990.1L374.0 1026.0L375.0 989.5L376.0 1025.4L377.0 988.9L378.0 1024.1L379.0 988.0L380.0 1022.2L381.0 982.4L382.0 1021.5L383.0 980.5L384.0 1020.9L385.0 979.9L386.0 1020.3L387.0 979.3L388.0 1019.8L389.0 978.9L390.0 1019.5L391.0 978.6L392.0 1019.1L393.0 985.4L394.0 1012.8L395.0 995.7L396.0 1010.9L397.0 995.5L398.0 1010.6L399.0 995.2L400.0 1010.3L401.0 994.9L402.0 1010.1L403.0 993.5L404.0 1009.8L405.0 989.2L406.0 1010.8L407.0 988.9L408.0 1013.0L409.0 988.7L410.0 1015.3L411.0 988.4L412.0 1017.5L413.0 988.1L414.0 1018.1L415.0 987.6L416.0 1017.7L417.0 986.1L418.0 1017.3L419.0 984.9L420.0 1016.9L421.0 984.5L422.0 1016.5L423.0 984.0L424.0 1016.1L425.0 983.6L426.0 1015.2L427.0 983.2L428.0 1004.8L429.0 983.9L430.0 1001.8L431.0 988.0L432.0 1001.4L433.0 987.8L434.0 1001.0L435.0 987.4L436.0 1000.5L437.0 987.2L438.0 1000.6L439.0 987.3L440.0 1000.6L441.0 987.1L442.0 1000.1L443.0 986.6L444.0 999.6L445.0 986.2L446.0 998.8L447.0 986.5L448.0 997.6L449.0 986.9L450.0 996.4L451.0 987.2L452.0 995.2L453.0 987.5L454.0 994.0L455.0 987.9L456.0 992.8L457.0 988.2L458.0 992.7L460.0 991.6L461.0 992.4L462.1 991.1L463.4 991.6L464.8 990.3L466.4 991.5L468.0 989.3L469.7 990.6L471.5 988.9L473.3 989.6L475.1 988.1L477.0 988.6L478.8 987.5L480.6 988.0L482.3 986.3L484.0 987.9L485.6 985.9L487.2 987.5L488.9 986.0L490.5 986.8L492.1 985.4L493.8 986.8L495.4 985.0L497.1 986.7L498.7 985.4L500.3 986.4L502.0 984.9L503.6 986.3L505.2 985.3L506.9 986.4L508.5 985.4L510.1 986.9L511.7 985.1L513.4 986.9L515.0 985.8L516.6 987.5L518.2 986.1L519.8 987.9L521.4 986.4L523.0 988.2L524.7 987.2L526.3 988.9L527.9 987.9L529.5 989.2L531.1 988.6L532.7 990.4L534.3 989.5L535.9 990.6L537.5 990.0L539.1 991.7L540.7 991.0L542.3 992.8L543.9 992.1L545.6 994.1L547.2 993.2L548.8 994.8L550.4 994.2L552.0 995.9L553.6 995.2L555.2 996.8L556.8 995.9L558.4 997.7L560.0 997.0L561.6 999.0L563.3 998.2L564.9 999.4L566.5 999.0L568.1 1000.8L569.7 999.7L571.3 1001.4L572.9 1000.9L574.6 1002.3L576.2 1001.8L577.8 1003.2L579.4 1002.7L581.0 1004.9L582.5 1003.6L584.0 1005.9L585.5 1004.7L587.0 1006.5L588.5 1006.2L590.0 1008.3L591.5 1007.1L593.0 1009.1L594.5 1008.1L596.0 1010.5L597.5 1009.5L599.0 1011.5L600.5 1011.2L602.0 1012.9L603.5 1012.5L605.0 1014.2L606.5 1013.3L608.0 1015.5L609.5 1015.4L611.1 1016.8L612.6 1016.8L614.1 1018.9L615.7 1018.3L617.2 1020.1L618.7 1020.0L620.2 1022.2L621.7 1021.4L623.2 1023.2L624.7 1023.2L626.1 1024.6L627.6 1024.6L629.0 1026.5L630.6 1026.1L632.2 1027.6L633.7 1027.5L635.2 1029.4L636.8 1028.7L638.3 1030.8L639.8 1030.5L641.2 1032.8L642.7 1032.1L644.2 1034.4L645.6 1033.5L647.1 1035.2L648.5 1034.8L650.0 1036.3L651.6 1036.0L653.1 1037.7L654.6 1036.8L656.1 1039.2L657.6 1038.1L659.1 1039.6L660.6 1039.3L662.1 1040.7L663.6 1040.2L665.1 1041.5L666.7 1040.5L668.3 1042.2L670.0 1041.9L671.5 1043.5L673.0 1042.1L674.5 1044.0L676.1 1042.7L677.7 1044.4L679.3 1042.9L680.9 1044.7L682.6 1043.2L684.2 1044.8L685.9 1044.0L687.5 1045.1L689.1 1044.0L690.8 1046.1L692.4 1044.6L694.0 1046.4L695.6 1045.6L697.2 1047.6L698.8 1046.5L700.4 1048.6L702.0 1047.5L703.6 1049.5L705.2 1048.5L706.8 1050.3L708.4 1049.5L710.0 1052.0L711.6 1051.3L713.2 1053.3L714.8 1052.0L716.4 1054.4L718.0 1054.0L719.4 1055.9L720.9 1055.2L722.3 1057.3L723.7 1056.3L725.2 1058.1L726.6 1058.1L728.1 1060.1L729.5 1059.4L731.0 1061.7L732.4 1060.7L733.9 1062.9L735.3 1062.9L736.7 1064.8L738.2 1064.3L739.6 1066.1L741.1 1065.5L742.5 1067.3L744.1 1066.1L745.7 1068.4L747.4 1067.3L749.0 1069.4L750.6 1068.5L752.2 1070.1L753.8 1069.2L755.4 1071.0L757.0 1069.6L758.6 1071.4L760.2 1070.5L761.9 1071.8L763.5 1071.4L765.1 1072.8L766.7 1071.8L768.3 1073.6L769.9 1072.2L771.6 1073.6L773.2 1072.8L774.8 1074.4L776.4 1073.1L778.1 1074.2L779.7 1073.2L781.3 1075.1L782.9 1074.1L784.5 1075.3L786.2 1074.4L787.8 1076.1L789.4 1075.1L791.0 1076.5L792.5 1075.8L794.0 1077.9L795.5 1077.1L797.0 1078.4L798.5 1077.9L800.0 1080.2L801.5 1079.3L803.0 1081.2L804.5 1080.4L806.0 1082.8L807.5 1082.3L809.0 1084.2L810.5 1083.5L812.0 1085.1L813.5 1084.3L815.0 1086.3L816.6 1085.4L818.2 1087.2L819.8 1086.4L821.4 1088.2L823.0 1087.9L824.6 1089.4L826.2 1088.7L827.8 1090.4L829.4 1089.3L831.0 1091.5L832.6 1090.8L834.2 1092.1L835.8 1091.4L837.4 1093.2L839.0 1092.2L840.6 1094.1L842.2 1093.6L843.9 1095.0L845.5 1094.1L847.1 1096.1L848.7 1095.2L850.4 1097.6L852.0 1096.3L853.6 1098.4L855.3 1097.3L856.9 1099.1L858.5 1098.0L860.2 1100.0L861.8 1098.9L863.4 1100.7L865.0 1099.6L866.6 1101.7L868.3 1100.5L869.9 1102.1L871.5 1101.3L873.1 1102.8L874.7 1101.7L876.3 1103.2L877.9 1102.3L879.5 1103.3L881.2 1102.7L882.8 1104.2L884.4 1103.1L886.0 1104.6L887.6 1103.3L889.2 1104.8L890.8 1103.7L892.4 1105.2L894.1 1104.3L895.7 1105.4L897.3 1104.0L898.9 1105.5L900.5 1104.5L902.1 1105.9L903.7 1105.0L905.3 1106.0L907.0 1105.5L908.6 1107.0L910.2 1105.3L911.8 1107.2L913.4 1105.6L915.0 1107.6L916.6 1106.4L918.3 1107.7L919.9 1106.5L921.5 1108.0L923.1 1106.5L924.7 1108.5L926.3 1106.8L927.9 1108.4L929.6 1107.4L931.2 1109.1L932.8 1107.6L934.4 1109.3L936.0 1107.8L937.6 1109.3L939.2 1108.0L940.8 1109.6L942.4 1108.4L944.0 1110.2L945.6 1108.6L947.2 1110.0L948.8 1109.1L950.4 1110.2L952.0 1109.0L953.6 1110.8L955.2 1108.9L956.8 1110.5L958.4 1109.4L960.0 1110.9L961.6 1109.5L963.2 1110.7L964.8 1109.8L966.4 1110.5L968.0 1109.4L969.6 1110.9L971.2 1109.4L972.8 1110.6L974.4 1109.1L976.0 1110.8L977.6 1109.6L979.2 1110.4L980.8 1109.0L982.4 1111.0L984.0 1109.1L985.6 1110.7L987.2 1109.5L988.9 1110.3L990.5 1109.5L992.1 1110.4L993.8 1109.0L995.4 1110.9L997.1 1109.1L998.7 1110.3L1000.3 1109.5L1002.0 1110.4L1003.6 1109.0L1005.2 1110.4L1006.9 1109.1L1008.5 1110.8L1010.1 1109.4L1011.7 1111.0L1013.4 1109.6L1015.0 1110.8L1016.6 1109.8L1018.2 1110.6L1019.8 1110.0L1021.4 1110.9L1023.0 1110.1L1024.7 1110.9L1026.3 1109.6L1027.9 1111.2L1029.5 1109.9L1031.1 1111.7L1032.7 1110.2L1034.3 1111.9L1035.9 1110.3L1037.5 1112.3L1039.1 1110.8L1040.7 1112.4L1042.3 1111.1L1043.9 1112.9L1045.6 1111.6L1047.2 1113.1L1048.8 1112.2L1050.4 1113.7L1052.0 1112.3L1053.6 1113.5L1055.2 1112.9L1056.8 1114.4L1058.4 1113.2L1060.0 1114.4L1061.6 1113.2L1063.3 1115.0L1064.9 1113.8L1066.5 1115.0L1068.1 1114.0L1069.7 1115.1L1071.3 1114.0L1072.9 1115.4L1074.6 1114.3L1076.2 1115.8L1077.8 1115.2L1079.4 1116.7L1081.0 1115.1L1082.6 1116.7L1084.2 1115.7L1085.8 1117.3L1087.4 1116.0L1089.0 1117.5L1090.6 1116.4L1092.2 1118.5L1093.8 1117.0L1095.4 1119.0L1097.0 1117.3L1098.6 1119.1L1100.2 1117.9L1101.8 1119.9L1103.4 1118.6L1105.0 1120.0L1106.6 1119.2L1108.2 1121.1L1109.9 1120.0L1111.5 1121.5L1113.1 1120.2L1114.7 1122.1L1116.4 1121.4L1118.0 1122.8L1119.6 1121.9L1121.3 1123.6L1122.9 1122.3L1124.5 1123.9L1126.2 1122.8L1127.8 1124.8L1129.4 1123.9L1131.0 1125.6L1132.7 1124.1L1134.4 1126.3L1136.1 1124.8L1137.8 1126.8L1139.5 1125.6L1141.2 1127.4L1142.8 1126.4L1144.5 1128.3L1146.1 1127.1L1147.7 1128.4L1149.3 1127.5L1150.8 1129.3L1152.2 1128.3L1153.6 1130.0L1155.5 1129.3L1157.1 1130.7L1158.6 1130.4L1160.0 1132.1L1161.3 1130.8L1162.7 1133.0L1164.1 1132.3L1165.8 1134.1L1167.7 1132.7L1170.0 1134.7L1171.3 1133.9L1172.6 1135.3L1174.0 1133.8L1175.5 1135.5L1177.0 1134.6L1178.5 1135.8L1180.2 1134.8L1181.8 1135.9L1183.5 1135.0L1185.2 1136.1L1186.9 1134.8L1188.7 1136.7L1190.4 1135.2L1192.2 1136.8L1193.9 1135.9L1195.7 1137.4L1197.4 1136.6L1199.1 1137.8L1200.8 1136.5L1202.4 1138.6L1203.9 1137.2L1205.5 1139.0L1207.0 1138.1L1208.6 1140.2L1210.1 1139.0L1211.6 1140.9L1213.2 1140.4L1214.7 1141.6L1216.2 1140.9L1217.8 1143.3L1219.3 1142.4L1220.9 1144.2L1222.4 1143.3L1223.9 1145.1L1225.5 1144.0L1227.0 1145.9L1228.5 1145.1L1230.1 1146.8L1231.6 1146.1L1233.2 1147.5L1234.7 1147.0L1236.3 1148.4L1237.9 1147.3L1239.5 1148.9L1241.2 1148.0L1242.8 1149.5L1244.4 1148.4L1246.0 1150.1L1247.6 1149.6L1249.2 1150.7L1250.8 1149.5L1252.5 1151.5L1254.1 1150.0L1255.7 1151.8L1257.3 1150.9L1258.9 1152.1L1260.5 1151.1L1262.1 1152.9L1263.8 1151.6L1265.4 1152.7L1267.0 1151.5L1268.6 1152.9L1270.2 1151.7L1271.9 1153.3L1273.5 1152.2L1275.1 1153.8L1276.7 1152.1L1278.3 1153.5L1280.0 1152.3L1281.6 1153.7L1283.2 1152.5L1284.8 1153.7L1286.4 1152.6L1288.1 1153.9L1289.7 1153.1L1291.3 1153.9L1292.9 1153.1L1294.5 1154.2L1296.2 1152.8L1297.8 1154.6L1299.4 1153.4L1301.0 1155.1L1302.6 1153.8L1304.3 1154.8L1305.9 1153.6L1307.5 1155.7L1309.1 1154.1L1310.7 1156.0L1312.4 1154.8L1314.0 1156.3L1315.6 1154.7L1317.2 1156.4L1318.8 1155.0L1320.5 1156.4L1322.1 1155.7L1323.7 1156.8L1325.3 1155.9L1326.9 1157.4L1328.6 1156.2L1330.2 1157.6L1331.8 1156.4L1333.4 1158.3L1335.1 1156.7L1336.8 1158.0L1338.5 1157.5L1340.3 1158.5L1342.0 1157.8L1343.8 1159.2L1345.5 1158.2L1347.3 1159.6L1349.0 1158.5L1350.7 1159.8L1352.4 1158.6L1354.0 1160.5L1355.7 1159.3L1357.2 1160.4L1358.7 1159.0L1360.2 1160.6L1361.6 1159.9L1362.9 1160.8L1364.2 1159.5L1366.5 1161.3L1368.4 1159.7L1370.2 1161.4L1371.7 1160.5L1373.2 1161.3L1374.5 1160.0L1375.9 1161.2L1377.3 1160.0L1378.9 1160.6L1380.6 1158.9L1381.9 1159.9L1383.3 1157.7L1384.8 1158.7L1386.2 1156.7L1387.8 1158.5L1389.3 1153.7L1390.8 1156.7L1392.3 1153.0L1393.8 1155.0L1395.3 1150.1L1396.7 1154.9L1398.1 1148.7L1399.4 1153.6L1400.7 1147.2L1402.4 1150.1L1404.0 1145.2L1405.5 1149.5L1407.0 1143.6L1408.4 1148.2L1409.7 1143.5L1411.1 1146.0L1412.3 1140.1L1413.6 1143.7L1414.8 1140.3L1416.2 1142.0L1417.6 1137.9L1418.9 1140.9L1420.1 1136.1L1421.2 1139.6L1422.4 1134.5L1423.6 1136.7L1424.8 1130.7L1425.7 1134.6L1426.6 1127.6L1427.6 1133.0L1428.5 1126.5L1429.5 1128.5L1430.4 1122.8L1431.3 1125.9L1432.2 1120.0L1433.1 1123.6L1434.0 1117.4L1434.8 1119.6L1435.6 1114.7L1436.4 1117.8L1437.2 1111.0L1438.0 1115.3L1438.7 1109.6L1439.5 1112.0L1440.2 1106.0L1440.9 1107.7L1441.6 1102.6L1442.2 1105.8L1442.9 1100.3L1443.3 1102.6L1443.6 1096.5L1444.0 1099.2L1444.3 1094.1L1444.6 1095.6L1444.9 1092.0L1445.3 1092.8L1445.6 1087.4L1445.9 1089.1L1446.2 1084.7L1446.5 1085.8L1446.8 1080.9L1447.1 1083.6L1447.4 1077.2L1447.7 1079.0L1448.0 1074.6L1448.3 1075.2L1448.6 1071.1L1448.9 1073.4L1449.2 1067.4L1449.5 1068.9L1449.9 1064.8L1450.2 1065.6L1450.5 1061.5L1450.8 1063.7L1451.1 1058.4L1451.5 1060.2L1451.8 1053.9L1452.1 1056.8L1452.4 1051.9L1452.8 1053.7L1453.1 1047.4L1453.4 1050.7L1453.7 1045.9L1454.0 1046.0L1454.4 1042.5L1454.7 1044.0L1455.0 1039.5L1455.5 1040.0L1455.9 1035.5L1456.4 1037.6L1456.9 1032.2L1457.4 1034.2L1457.9 1029.4L1458.4 1031.6L1458.8 1027.4L1459.3 1028.3L1459.8 1024.4L1460.2 1024.9L1460.6 1020.4L1461.0 1022.3L1461.4 1018.0L1461.8 1018.9L1462.1 1014.2L1462.5 1015.3L1462.8 1010.9L1463.1 1011.9L1463.4 1007.0L1463.7 1008.8L1464.0 1003.9L1464.4 1006.0L1464.7 1001.1L1465.0 1002.1L1465.3 997.9L1465.5 999.8L1465.7 994.4L1466.0 996.2L1466.2 991.7L1466.4 993.1L1466.6 988.5L1466.9 989.5L1467.1 984.4L1467.4 986.3L1467.7 981.2L1468.1 983.0L1468.5 978.6L1469.0 980.4L1469.5 974.5L1470.0 976.9L1470.6 970.9L1471.3 973.3L1471.9 968.9L1472.6 970.0L1473.3 965.8L1474.1 966.8L1474.8 962.7L1475.5 963.6L1476.2 959.3L1477.0 960.7L1477.7 956.5L1478.3 958.4L1479.0 953.7L1479.7 955.6L1480.4 949.6L1481.1 951.5L1481.8 946.3L1482.5 948.1L1483.2 944.5L1483.9 946.4L1484.5 941.6L1485.2 941.7L1485.9 937.1L1486.6 938.7L1487.3 934.6L1488.0 936.7L1488.8 932.3L1489.6 933.1L1490.4 928.0L1491.3 930.4L1492.1 926.3L1492.9 927.6L1493.8 922.6L1494.6 924.4L1495.4 920.8L1496.1 922.3L1496.8 917.7L1497.5 917.8L1498.1 914.7L1498.6 916.5L1499.1 911.0L1499.6 913.1L1500.1 907.8L1500.5 910.5L1500.9 905.1L1501.4 906.2L1501.8 901.3L1502.2 902.3L1502.6 898.4L1503.0 900.0L1503.5 894.2L1503.8 896.3L1504.1 890.9L1504.4 893.4L1504.8 888.4L1505.1 890.4L1505.4 886.6L1505.7 887.4L1506.0 883.4L1506.3 883.7L1506.7 880.1L1507.0 880.7L1507.3 876.6L1507.6 878.5L1507.9 872.7L1508.2 875.4L1508.6 870.0L1508.9 871.5L1509.2 865.5L1509.5 867.4L1509.7 862.2L1510.0 864.0L1510.2 859.1L1510.5 862.2L1510.7 855.9L1511.0 859.0L1511.2 853.1L1511.5 855.0L1511.7 849.8L1512.0 852.4L1512.2 846.7L1512.5 848.6L1512.7 842.7L1513.0 844.6L1513.2 840.3L1513.5 840.7L1513.7 835.9L1514.0 838.4L1514.2 832.9L1514.5 834.3L1514.7 830.4L1515.0 831.5L1515.2 826.0L1515.5 828.1L1515.8 823.5L1516.1 824.7L1516.3 819.3L1516.6 820.7L1516.9 815.8L1517.2 817.1L1517.4 812.6L1517.7 814.9L1518.0 809.5L1518.3 811.4L1518.5 806.5L1518.8 807.0L1519.1 803.0L1519.4 803.9L1519.7 799.1L1519.9 801.2L1520.2 796.0L1520.5 798.8L1520.8 792.8L1521.0 795.6L1521.3 789.5L1521.6 793.0L1522.0 786.6L1522.4 788.1L1522.8 783.3L1523.2 785.3L1523.6 779.4L1524.0 782.3L1524.4 776.3L1524.8 778.8L1525.2 774.2L1525.6 775.7L1526.0 771.3L1526.4 772.8L1526.8 768.4L1527.2 768.8L1527.6 764.1L1528.1 767.1L1528.5 761.8L1529.0 762.3L1529.4 757.6L1529.9 760.3L1530.4 755.5L1530.8 757.1L1531.3 751.2L1531.8 753.5L1532.2 749.0L1532.7 749.5L1533.1 746.2L1533.6 746.9L1534.1 741.8L1534.5 744.0L1535.0 739.3L1535.4 741.0L1535.9 736.3L1536.4 737.3L1536.8 732.8L1537.3 733.0L1537.7 729.5L1538.2 731.1L1538.7 726.3L1539.1 726.6L1539.6 722.7L1540.1 724.0L1540.6 719.2L1541.2 720.9L1541.7 715.4L1542.2 718.1L1542.8 712.7L1543.3 714.3L1543.8 709.9L1544.3 710.6L1544.8 707.2L1545.3 709.2L1545.7 704.7L1547.3 705.6L1548.6 700.6L1550.0 704.4L1551.1 702.4L1552.1 705.6L1553.3 704.3L1554.7 709.4L1555.4 708.1L1556.1 712.7L1556.9 709.0L1557.7 715.9L1558.6 710.8L1559.5 719.0L1560.3 713.4L1561.1 722.5L1561.9 717.5L1562.6 726.5L1563.2 718.4L1563.7 727.0L1564.2 724.1L1564.6 730.4L1565.1 725.8L1565.5 736.5L1565.9 728.8L1566.4 739.9L1566.9 732.9L1567.4 742.3L1568.0 737.2L1568.4 745.9L1568.9 739.9L1569.3 746.1L1569.8 742.3L1570.3 751.6L1570.8 743.5L1571.3 753.6L1571.8 746.5L1572.3 759.1L1572.9 753.0L1573.4 762.2L1574.0 753.0L1574.5 766.2L1575.1 757.2L1575.7 766.9L1576.3 760.9L1576.9 771.1L1577.6 763.8L1578.3 772.3L1578.9 765.8L1579.6 777.0L1580.3 772.4L1581.0 779.1L1581.8 775.4L1582.5 782.8L1583.3 778.3L1584.0 786.0L1584.8 780.4L1585.7 790.0L1586.5 781.1L1587.4 790.0L1588.5 783.7L1589.7 794.6L1591.0 788.9L1592.3 799.0L1593.7 793.0L1595.1 799.7L1596.5 793.2L1597.8 801.2L1599.1 796.0L1600.3 806.4L1601.3 798.5L1602.3 807.3L1603.0 800.4L1604.4 808.9L1604.2 792.8L1604.4 799.9L1604.5 790.7L1604.7 797.0L1604.9 789.8L1605.1 792.1L1605.3 782.4L1605.5 788.8L1605.7 779.1L1605.9 783.7L1606.1 777.6L1606.3 782.6L1606.5 775.0L1606.7 784.6L1606.8 776.6L1606.9 784.8L1607.0 777.7L1607.2 790.1L1607.3 782.6L1607.4 795.0L1607.6 788.3L1607.7 797.2L1608.0 794.0L1608.3 802.5L1608.6 794.2L1609.0 805.6L1609.9 794.9L1611.0 804.3L1612.1 795.8L1613.5 804.2L1614.9 794.6L1616.4 798.3L1618.0 788.9L1618.8 796.4L1619.7 786.6L1620.6 792.2L1621.6 784.5L1622.6 789.6L1623.7 782.3L1624.7 786.8L1625.8 779.6L1626.8 785.7L1627.8 776.3L1628.8 780.9L1629.7 773.3L1630.5 780.4L1631.3 771.5L1632.0 776.4L1633.2 767.8L1634.0 774.1L1634.6 765.6L1635.0 770.6L1635.5 762.6L1636.2 769.2L1637.0 760.4L1638.2 768.5L1639.5 762.6L1640.9 770.1L1642.5 764.8L1644.2 773.5L1646.0 762.9L1646.7 769.6L1647.5 764.4L1648.3 770.2L1649.1 760.6L1650.0 766.1L1650.9 758.1L1651.8 763.1L1652.7 753.9L1653.6 759.9L1654.5 752.5L1655.5 756.9L1656.4 745.5L1657.3 754.9L1658.2 743.5L1659.1 752.6L1660.0 741.9L1661.0 747.5L1662.0 737.6L1662.9 743.6L1663.8 735.0L1664.8 741.1L1665.7 732.9L1666.7 740.0L1667.6 729.7L1668.6 735.6L1669.6 727.7L1670.6 736.5L1671.7 728.1L1672.8 733.7L1674.0 725.0L1675.3 731.9L1676.8 720.1L1678.2 726.9L1679.8 720.7L1681.4 727.3L1683.0 716.7L1684.6 727.6L1686.2 719.3L1687.7 722.9L1689.3 716.3L1690.8 724.3L1692.2 713.3L1693.5 721.8L1695.1 711.2L1696.6 721.4L1698.1 710.1L1699.5 719.5L1700.8 711.5L1702.1 718.7L1703.4 708.2L1704.7 717.7L1706.0 708.3L1707.4 711.2L1708.2 705.0L1709.0 709.9L1709.9 702.3L1710.7 706.4L1711.5 698.4L1712.3 704.8L1713.2 696.7L1714.0 700.2L1714.8 692.0L1715.6 696.8L1716.5 687.5L1717.3 694.2L1718.1 684.1L1718.9 690.5L1719.8 683.3L1720.6 690.5L1721.4 680.2L1722.6 686.3L1723.7 675.8L1724.9 682.5L1726.1 673.5L1727.2 681.8L1728.4 673.8L1729.6 679.1L1730.7 671.8L1731.9 678.2L1733.0 669.0L1734.2 675.5L1735.3 665.7L1736.3 674.4L1737.2 663.0L1738.1 669.4L1739.1 660.3L1740.0 668.2L1740.9 656.4L1741.8 664.0L1742.8 655.1L1743.7 662.7L1744.6 653.1L1745.5 658.2L1746.4 649.3L1747.3 655.9L1748.2 646.1L1749.6 653.1L1751.0 645.5L1752.3 651.0L1753.7 640.9L1755.1 649.8L1756.4 637.1L1757.8 645.6L1759.1 638.0L1760.5 646.1L1761.6 638.5L1762.7 646.5L1763.9 641.0L1765.0 649.1L1766.1 642.6L1767.2 651.3L1768.3 646.7L1769.5 654.3L1770.6 651.7L1771.7 657.3L1772.8 655.4L1773.7 658.5L1774.5 658.2L1775.4 661.7L1776.3 662.1L1777.2 665.9L1778.0 666.0L1778.9 669.4L1779.8 669.4L1780.6 673.4L1781.5 672.7L1782.4 675.5L1783.3 674.3L1784.1 676.5L1785.0 675.1L1785.8 676.6L1786.6 674.1L1787.5 675.0L1788.3 671.4L1789.1 671.8L1789.9 668.1L1790.7 668.2L1791.6 664.0L1792.4 663.7L1793.2 659.9L1794.0 660.1L1794.8 656.1L1795.7 656.7L1796.5 653.8L1797.3 654.8L1799.1 651.9L1800.8 654.2L1802.6 652.0L1804.3 655.0L1806.1 653.3L1807.8 656.4L1809.6 654.8L1811.1 657.9L1812.7 656.5L1814.2 659.2L1815.8 658.9L1817.3 660.9L1818.8 659.8L1820.4 662.0L1821.9 659.9L1823.4 661.6L1825.0 658.9L1826.5 660.5L1828.0 656.6L1829.5 658.1L1831.0 654.0L1832.6 656.0L1834.1 653.5L1835.9 655.0L1837.7 653.5L1839.6 656.0L1841.5 654.4L1843.2 657.6L1844.9 655.9L1846.4 657.1L1847.7 654.8L1848.9 654.7L1850.0 649.7L1851.1 649.4L1852.0 646.4L1852.9 646.8L1853.8 645.0L1854.1 647.8L1854.4 646.9L1854.7 650.6L1855.0 649.6L1855.2 652.9L1855.4 652.4L1855.6 656.0L1855.8 655.6L1856.1 659.1L1856.3 658.8L1856.5 663.3L1856.8 662.6L1857.1 667.3L1857.4 666.5L1857.8 671.2L1858.2 671.3L1858.7 674.1L1859.1 673.4L1859.6 677.7L1860.1 676.6L1860.6 680.9L1861.1 680.1L1861.7 683.8L1862.3 682.9L1862.9 686.3L1863.5 686.2L1864.1 690.4L1864.7 689.4L1865.3 693.5L1866.0 693.1L1866.6 696.2L1867.3 695.7L1867.9 699.4L1868.6 698.4L1869.2 702.3L1869.8 701.6L1870.4 705.2L1871.0 704.3L1871.7 708.2L1872.4 707.7L1873.2 710.9L1873.9 710.1L1874.6 713.7L1875.3 712.9L1876.0 716.3L1876.7 715.2L1877.5 718.8L1878.2 718.4L1878.9 721.6L1879.6 720.6L1880.3 724.8L1881.0 724.3L1881.8 727.3L1882.5 726.9L1883.2 731.0L1883.7 730.6L1884.2 733.2L1884.7 732.6L1885.2 736.5L1885.8 735.3L1886.3 738.6L1886.8 738.5L1887.3 741.6L1887.8 741.3L1888.3 744.6L1888.8 744.6L1889.3 748.0L1889.9 747.8L1890.4 751.4L1890.9 751.0L1891.4 754.0L1891.9 753.5L1892.4 757.3L1892.9 757.4L1893.4 761.3L1894.0 760.5L1894.5 764.7L1895.0 763.7L1895.5 768.5L1895.9 767.7L1896.3 770.7L1896.7 770.2L1897.1 773.5L1897.5 772.8L1897.9 776.7L1898.3 775.8L1898.7 779.5L1899.1 779.6L1899.5 783.4L1899.9 782.5L1900.3 786.5L1900.7 785.6L1901.1 789.6L1901.5 789.6L1901.9 792.8L1902.3 793.1L1902.6 796.5L1903.0 795.8L1903.4 799.5L1903.8 799.4L1904.2 803.1L1904.6 802.1L1905.0 806.4L1905.4 805.5L1905.8 809.2L1906.2 808.6L1906.6 812.1L1907.0 812.4L1907.4 815.7L1907.8 814.9L1908.3 818.9L1908.8 818.4L1909.3 822.3L1909.8 822.1L1910.3 826.2L1910.8 826.0L1911.3 830.4L1911.8 830.2L1912.3 834.2L1912.8 833.3L1913.3 838.2L1913.8 837.8L1914.3 841.1L1914.8 841.2L1915.3 844.2L1915.8 844.1L1916.3 848.0L1916.7 847.5L1917.2 850.8L1917.7 849.3L1918.2 853.4L1918.6 851.6L1919.1 854.5L1919.6 853.3L1920.0 856.4L1921.4 855.9L1922.7 858.4L1924.0 855.6L1925.3 856.7L1926.5 852.0L1927.7 852.2L1928.9 848.2L1930.0 847.7L1930.4 844.6L1930.9 844.6L1931.3 841.2L1931.7 842.0L1932.1 839.0L1932.5 839.1L1932.9 835.3L1933.3 835.6L1933.7 832.3L1934.1 831.9L1934.5 828.8L1934.9 829.1L1935.3 824.8L1935.7 825.3L1936.0 820.9L1936.4 821.2L1936.8 818.2L1937.2 818.5L1937.6 814.8L1938.0 815.8L1938.5 811.8L1938.9 812.4L1939.4 807.9L1939.8 808.9L1940.3 804.6L1940.7 805.5L1941.2 802.2L1941.6 802.5L1942.1 798.7L1942.5 799.9L1943.0 795.9L1943.4 796.9L1943.9 792.7L1944.4 793.7L1944.9 790.1L1945.5 790.5L1946.0 786.3L1946.5 786.8L1946.9 783.9L1947.4 784.1L1947.9 780.7L1948.4 780.7L1949.0 777.1L1949.5 777.2L1950.0 774.1L1950.6 773.7L1951.1 770.6L1951.7 771.3L1952.2 767.5L1952.8 767.4L1953.3 764.4L1953.8 764.6L1954.4 760.6L1954.9 761.2L1955.4 757.7L1955.9 758.2L1956.3 755.9L1956.8 755.9L1957.6 751.8L1958.4 751.7L1959.1 747.9L1959.8 748.1L1960.5 744.9L1961.1 744.8L1961.8 741.4L1962.5 742.5L1963.2 739.1L1964.0 741.1L1964.8 738.1L1966.2 740.2L1967.7 739.3L1969.3 743.4L1971.0 742.6L1972.6 746.3L1974.1 745.2L1975.5 746.2L1975.9 742.6L1976.3 744.2L1976.7 741.0L1977.1 741.5L1977.4 739.1L1977.8 740.0L1978.1 736.5L1978.5 737.0L1978.8 733.4L1979.2 733.5L1979.5 730.7L1979.8 730.1L1980.2 726.5L1980.5 726.7L1980.8 723.0L1981.1 723.2L1981.5 718.7L1981.8 718.7L1982.1 714.9L1982.5 715.1L1982.8 710.4L1983.2 710.4L1983.5 705.9L1983.7 707.2L1983.9 703.0L1984.1 704.2L1984.3 701.1L1984.5 700.8L1984.7 697.4L1984.9 698.3L1985.1 694.5L1985.3 695.1L1985.5 691.4L1985.7 691.4L1985.9 687.8L1986.1 688.3L1986.3 683.6L1986.5 684.2L1986.7 681.0L1986.9 680.6L1987.1 676.5L1987.3 677.7L1987.5 673.7L1987.7 673.3L1987.9 669.6L1988.1 670.3L1988.3 665.9L1988.5 666.2L1988.7 661.9L1988.9 663.0L1989.1 658.5L1989.3 659.7L1989.5 655.0L1989.7 656.2L1989.9 652.0L1990.0 652.9L1990.2 649.1L1990.4 650.4L1990.6 645.9L1990.8 647.6L1990.9 643.6L1991.1 644.6L1991.3 641.4L1991.4 642.2L1991.6 638.7L1992.2 637.7L1992.7 631.6L1993.3 631.1L1993.8 626.5L1994.2 625.8L1994.7 622.0L1995.2 623.1L1995.6 619.5L1996.1 621.4L1996.5 619.8L1997.0 623.5L1997.2 621.5L1997.3 624.6L1997.5 623.4L1997.7 626.3L1997.8 625.3L1998.0 628.6L1998.2 628.2L1998.3 632.4L1998.5 631.0L1998.6 635.4L1998.8 635.0L1998.9 639.7L1999.1 638.6L1999.2 643.4L1999.4 642.9L1999.6 646.7L1999.7 646.7L1999.9 650.7L2000.1 650.9L2000.2 655.0L2000.4 654.8L2000.6 659.3L2000.7 659.0L2000.9 662.9L2001.1 662.9L2001.3 667.0L2001.5 665.9L2001.7 670.0L2001.9 669.3L2002.1 671.7L2002.3 671.6L2002.9 675.8L2003.6 675.5L2004.3 679.3L2005.0 678.9L2005.7 682.5L2006.5 681.1L2007.3 683.6L2008.0 683.1L2008.8 685.5L2009.6 685.3L2010.3 689.5L2010.7 688.9L2011.1 692.2L2011.5 691.5L2011.9 695.4L2012.3 695.0L2012.7 698.3L2013.1 697.8L2013.5 702.4L2013.9 701.6L2014.4 705.7L2014.8 705.5L2015.2 709.3L2015.6 709.0L2016.0 713.5L2016.4 712.6L2016.8 716.2L2017.2 715.4L2017.6 719.1L2018.0 718.5L2018.4 721.0L2019.4 721.7L2020.3 726.4L2021.3 725.9L2022.2 729.9L2023.2 728.8L2024.2 732.4L2025.3 730.7L2026.4 732.6L2027.1 730.1L2027.9 730.6L2028.7 726.4L2029.6 727.1L2030.4 722.9L2031.3 722.3L2032.1 718.5L2033.0 718.6L2033.8 714.1L2034.7 715.2L2035.5 711.9L2036.3 713.5L2037.0 711.5L2037.4 715.1L2037.7 713.1L2038.1 716.7L2038.5 715.3L2038.8 719.1L2039.2 719.1L2039.5 723.1L2039.8 722.5L2040.2 727.1L2040.5 726.6L2040.8 731.0L2041.2 731.6L2041.5 735.8L2041.8 735.2L2042.1 739.8L2042.4 740.0L2042.7 744.3L2043.0 744.0L2043.3 747.1L2043.6 746.9L2043.9 750.4L2044.2 749.2L2044.5 752.0L2044.7 750.7L2045.0 753.4L2045.4 751.6L2045.7 752.4L2046.1 749.6L2046.4 749.8L2046.7 745.0L2047.0 744.7L2047.2 740.6L2047.5 739.9L2047.8 734.1L2048.1 734.0L2048.4 729.4L2048.7 729.8L2049.0 725.5L2049.3 726.3L2049.7 723.8L2050.1 725.6L2050.5 725.0L2050.7 727.3L2050.8 726.6L2051.0 729.0L2051.2 727.7L2051.4 731.6L2051.5 730.8L2051.7 733.7L2051.9 732.9L2052.1 737.4L2052.3 736.7L2052.5 740.0L2052.7 739.7L2052.9 743.9L2053.1 743.8L2053.3 748.6L2053.5 748.4L2053.7 752.1L2053.9 752.3L2054.1 756.2L2054.3 756.8L2054.5 761.2L2054.7 761.3L2055.0 765.8L2055.2 765.5L2055.4 770.1L2055.6 769.8L2055.8 774.0L2056.0 774.8L2056.3 778.4L2056.5 778.9L2056.7 783.1L2056.9 782.1L2057.1 786.9L2057.4 786.3L2057.6 790.4L2057.8 789.0L2058.0 793.4L2058.2 792.1L2058.4 796.0L2058.6 795.5L2058.9 797.9L2059.1 797.2L2059.3 799.9L2059.5 798.3L2059.7 801.5L2059.9 799.5L2060.2 802.1L2060.5 799.9L2060.8 801.6L2061.1 798.8L2061.4 799.9L2061.7 796.7L2062.0 797.1L2062.3 794.1L2062.6 794.9L2062.9 791.1L2063.1 790.6L2063.4 786.9L2063.7 786.8L2064.0 783.2L2064.3 782.4L2064.6 778.2L2064.9 778.0L2065.2 773.8L2065.5 772.9L2065.8 769.3L2066.1 768.9L2066.4 764.5L2066.7 763.9L2067.0 759.8L2067.3 760.2L2067.6 756.4L2067.9 757.0L2068.2 752.8L2068.6 753.0L2068.9 750.1L2069.2 750.8L2070.3 745.7L2071.5 746.6L2072.7 743.4L2073.9 743.9L2075.1 741.5L2076.4 743.4L2077.6 740.9L2078.8 741.8L2080.0 738.6L2080.7 739.0L2081.4 735.6L2082.1 736.9L2082.8 732.7L2083.5 733.4L2084.3 730.1L2085.0 730.0L2085.7 726.2L2086.4 726.8L2087.1 723.1L2087.8 723.8L2088.4 719.4L2089.0 720.4L2089.6 716.1L2090.1 717.9L2090.6 714.5L2091.5 714.4L2092.2 710.0L2092.8 710.5L2093.3 707.3L2093.8 706.9L2094.2 703.6L2094.6 704.4L2095.0 700.4L2095.5 701.9L2095.9 697.7L2096.3 698.4L2096.6 694.6L2096.9 695.2L2097.2 690.8L2097.5 691.6L2097.6 687.6L2097.8 687.6L2097.9 683.6L2098.0 682.8L2098.1 679.2L2098.2 678.1L2098.3 673.8L2098.4 673.7L2098.5 670.0L2098.6 671.2L2098.8 667.6L2098.9 669.5L2099.0 667.2L2099.1 669.4L2099.2 668.8L2099.3 671.4L2099.4 671.4L2099.5 675.7L2099.6 675.3L2099.7 679.5L2099.8 680.7L2099.9 684.3L2100.0 685.4L2100.1 689.8L2100.2 690.6L2100.3 693.9L2100.4 694.1L2100.5 697.8L2100.6 698.0L2100.7 700.9L2100.8 699.6L2100.9 701.7L2101.0 699.5L2101.1 701.0L2101.1 697.8L2101.2 698.9L2101.2 696.2L2101.3 697.1L2101.3 693.4L2101.4 694.0L2101.4 690.4L2101.5 690.1L2101.6 686.7L2101.6 686.4L2101.7 682.2L2101.7 682.8L2101.8 677.9L2101.8 677.9L2101.9 673.9L2101.9 674.1L2102.0 669.3L2102.1 669.1L2102.1 665.2L2102.2 664.8L2102.2 660.3L2102.3 659.9L2102.3 656.1L2102.4 655.8L2102.4 652.4L2102.5 652.3L2102.6 648.8L2102.6 649.1L2102.7 646.1L2102.7 647.0L2102.8 643.4L2102.8 644.5L2102.9 641.6L2102.9 642.9L2103.0 641.2L2103.1 642.8L2103.1 641.2L2103.2 644.4L2103.3 643.0L2103.4 646.2L2103.4 645.6L2103.5 649.9L2103.6 649.7L2103.7 653.9L2103.7 654.1L2103.8 657.9L2103.9 659.3L2104.0 662.9L2104.0 664.0L2104.1 668.2L2104.2 668.9L2104.3 673.7L2104.3 673.8L2104.4 678.2L2104.5 678.1L2104.6 681.5L2104.6 681.0L2104.7 684.8L2104.8 684.1L2104.9 686.4L2104.9 684.5L2105.0 686.5L2105.1 684.3L2105.1 685.8L2105.2 683.0L2105.2 684.5L2105.3 681.6L2105.4 681.7L2105.4 678.4L2105.5 678.8L2105.5 674.4L2105.6 675.2L2105.7 671.0L2105.7 670.7L2105.8 665.9L2105.8 665.7L2105.9 661.3L2106.0 661.1L2106.0 656.8L2106.1 656.6L2106.2 652.2L2106.2 652.4L2106.3 648.1L2106.3 647.4L2106.4 643.0L2106.5 643.8L2106.5 639.4L2106.6 639.9L2106.6 636.8L2106.7 637.5L2106.8 633.9L2106.8 635.4L2106.9 633.1L2106.9 634.2L2107.0 631.7L2107.1 634.6L2107.1 632.9L2107.2 635.1L2107.3 633.7L2107.3 637.7L2107.4 636.6L2107.5 640.1L2107.5 640.1L2107.6 644.1L2107.6 644.2L2107.7 648.4L2107.8 649.1L2107.8 653.4L2107.9 653.5L2108.0 657.6L2108.0 658.2L2108.1 662.6L2108.2 663.6L2108.2 667.7L2108.3 668.3L2108.4 672.5L2108.4 672.0L2108.5 675.8L2108.5 675.3L2108.6 679.5L2108.7 679.3L2108.7 682.2L2108.8 681.3L2108.9 683.3L2108.9 681.8L2109.0 684.2L2109.1 681.2L2109.1 683.7L2109.2 680.9L2109.2 681.8L2109.3 678.9L2109.4 679.5L2109.4 675.7L2109.5 676.2L2109.5 672.6L2109.6 672.3L2109.6 668.2L2109.7 667.6L2109.8 663.6L2109.8 664.1L2109.9 658.8L2109.9 659.3L2110.0 654.8L2110.1 654.2L2110.1 649.5L2110.2 649.2L2110.2 644.6L2110.3 644.7L2110.4 641.0L2110.4 640.7L2110.5 636.2L2110.5 636.7L2110.6 633.0L2110.6 633.3L2110.7 629.8L2110.8 631.8L2110.8 628.8L2110.9 629.8L2110.9 626.7L2111.0 629.1L2111.1 627.5L2111.1 629.8L2111.2 628.1L2111.2 631.0L2111.3 630.8L2111.4 633.4L2111.4 632.9L2111.5 637.0L2111.6 636.9L2111.6 641.2L2111.7 641.3L2111.8 645.8L2111.8 645.5L2111.9 649.7L2111.9 650.5L2112.0 654.6L2112.1 655.5L2112.1 660.6L2112.2 660.0L2112.2 664.6L2112.3 664.5L2112.4 668.9L2112.4 669.0L2112.5 673.5L2112.6 673.4L2112.6 676.2L2112.7 675.8L2112.8 679.6L2112.8 678.2L2112.9 680.5L2112.9 678.4L2113.0 680.7L2113.1 678.4L2113.1 680.7L2113.2 677.3L2113.2 678.7L2113.3 675.6L2113.3 676.2L2113.4 673.3L2113.5 674.0L2113.5 670.3L2113.6 670.1L2113.6 666.5L2113.7 666.4L2113.7 661.7L2113.8 661.3L2113.9 657.0L2113.9 657.4L2114.0 652.7L2114.0 652.1L2114.1 647.8L2114.1 648.1L2114.2 643.6L2114.3 642.9L2114.3 638.7L2114.4 638.7L2114.4 634.5L2114.5 635.1L2114.5 631.2L2114.6 631.4L2114.7 628.0L2114.7 628.4L2114.8 624.6L2114.8 626.1L2114.9 623.2L2114.9 624.7L2115.0 621.4L2115.1 623.4L2115.2 621.9L2115.3 625.2L2115.4 623.8L2115.5 627.3L2115.6 627.7L2115.7 631.9L2115.8 631.9L2115.9 636.1L2116.0 637.5L2116.1 641.6L2116.2 642.3L2116.3 646.9L2116.4 647.5L2116.5 651.2L2116.6 651.2L2116.7 655.2L2116.8 654.1L2116.9 656.8L2117.0 654.7L2117.1 656.6L2117.2 653.7L2117.3 654.6L2117.4 652.0L2117.5 652.3L2117.6 648.8L2117.7 647.9L2117.8 644.0L2117.9 644.0L2118.0 639.4L2118.0 639.6L2118.1 634.9L2118.2 634.9L2118.3 629.7L2118.4 630.6L2118.5 626.2L2118.6 625.8L2118.7 622.4L2118.8 623.2L2118.9 621.0L2119.0 622.3L2119.2 619.6L2119.4 623.1L2119.5 623.1L2119.7 627.4L2119.9 628.2L2120.1 632.9L2120.3 633.4L2120.5 638.0L2120.6 638.1L2120.8 641.4L2121.0 638.8L2121.1 640.9L2121.2 638.0L2121.3 638.6L2121.4 635.1L2121.5 634.8L2121.6 630.8L2121.7 631.3L2121.8 626.5L2121.9 626.4L2122.0 621.9L2122.1 621.8L2122.2 617.7L2122.3 617.1L2122.4 613.2L2122.5 612.8L2122.6 609.6L2122.7 610.5L2122.8 607.6L2122.9 608.2L2123.0 605.5L2123.1 608.6L2123.2 607.3L2123.4 610.6L2123.5 609.3L2123.6 614.1L2123.8 614.5L2123.9 618.7L2124.0 619.6L2124.1 623.9L2124.2 624.7L2124.4 628.6L2124.5 629.1L2124.6 632.8L2124.8 632.0L2124.9 635.2L2125.0 632.6L2125.1 634.4L2125.2 631.6L2125.3 633.1L2125.4 629.5L2125.6 629.9L2125.7 625.9L2125.8 625.1L2125.9 620.7L2126.0 621.0L2126.1 615.7L2126.2 616.0L2126.3 611.4L2126.4 612.2L2126.6 607.4L2126.7 608.2L2126.8 605.2L2126.9 606.7L2127.0 603.9L2127.1 605.8L2127.3 604.5L2127.4 608.3L2127.5 608.5L2127.7 612.1L2127.8 613.0L2127.9 617.5L2128.1 617.9L2128.2 621.6L2128.3 621.9L2128.5 626.4L2128.6 626.2L2128.7 629.7L2128.9 628.8L2129.0 631.5L2129.1 628.4L2129.3 629.9L2129.4 626.5L2129.5 627.8L2129.7 623.3L2129.8 623.8L2130.0 619.8L2130.1 620.1L2130.3 615.3L2130.4 615.0L2130.5 610.7L2130.6 611.1L2130.7 606.9L2130.8 606.9L2130.9 603.4L2131.0 604.7" stroke="#0000FF"/>
</g>
<g font-family="Liberation Sans, Arial, Helvetica, sans-serif" font-size="63" fill="#000"><text transform="translate(170.5 1702.0) scale(0.967 1)" text-anchor="middle">4000</text><text transform="translate(458.4 1702.0) scale(0.967 1)" text-anchor="middle">3500</text><text transform="translate(746.4 1702.0) scale(0.967 1)" text-anchor="middle">3000</text><text transform="translate(1034.3 1702.0) scale(0.967 1)" text-anchor="middle">2500</text><text transform="translate(1322.3 1702.0) scale(0.967 1)" text-anchor="middle">2000</text><text transform="translate(1610.2 1702.0) scale(0.967 1)" text-anchor="middle">1500</text><text transform="translate(1898.1 1702.0) scale(0.967 1)" text-anchor="middle">1000</text></g>
<text transform="translate(951.9 790.3) scale(0.980 1)" font-family="Liberation Serif, Times New Roman, serif" font-style="italic" font-size="76" fill="#000">C(B<tspan dy="6">_</tspan><tspan dy="-6">Glu</tspan><tspan dy="6">_</tspan><tspan dy="-6">P)</tspan></text>
<text transform="translate(938.5 1088.0) scale(0.980 1)" font-family="Liberation Serif, Times New Roman, serif" font-style="italic" font-size="76" fill="#000">C(B<tspan dy="6">_</tspan><tspan dy="-6">Glu</tspan><tspan dy="6">_</tspan><tspan dy="-6">N)</tspan></text>
<text transform="translate(948.6 1383.4) scale(0.980 1)" font-family="Liberation Serif, Times New Roman, serif" font-style="italic" font-size="76" fill="#000">C(B<tspan dy="6">_</tspan><tspan dy="-6">Glu</tspan><tspan dy="6">_</tspan><tspan dy="-6">K)</tspan></text>
<text transform="translate(986.7 1486.8) scale(0.980 1)" font-family="Liberation Serif, Times New Roman, serif" font-style="italic" font-size="76" fill="#000">C(B<tspan dy="6">_</tspan><tspan dy="-6">Glu)</tspan></text>
<text transform="translate(529.8 694.2) rotate(-90) scale(0.952 1)" font-family="Liberation Sans, Arial, Helvetica, sans-serif" font-weight="bold" font-size="65.3" fill="#0000FF">OH/H<tspan font-size="40" dy="19">2</tspan><tspan dy="-19">O</tspan></text>
<text transform="translate(709.2 750.6) rotate(-90) scale(0.944 1)" font-family="Liberation Sans, Arial, Helvetica, sans-serif" font-weight="bold" font-size="65.3" fill="#0000FF">aromatic C-H</text>
<text transform="translate(847.8 662.8) rotate(-90) scale(0.941 1)" font-family="Liberation Sans, Arial, Helvetica, sans-serif" font-weight="bold" font-size="65.3" fill="#0000FF">alifatic C-H</text>
<text transform="translate(1480.5 757.6) rotate(-90) scale(0.918 1)" font-family="Liberation Sans, Arial, Helvetica, sans-serif" font-weight="bold" font-size="65.3" fill="#0000FF">C=O</text>
<text transform="translate(1558.7 624.0) rotate(-90) scale(0.934 1)" font-family="Liberation Sans, Arial, Helvetica, sans-serif" font-weight="bold" font-size="65.3" fill="#0000FF">C=C</text>
<text transform="translate(1657.5 431.2) rotate(-90) scale(0.929 1)" font-family="Liberation Sans, Arial, Helvetica, sans-serif" font-weight="bold" font-size="65.3" fill="#0000FF">C-C</text>
<text transform="translate(1827.0 336.8) rotate(-90) scale(0.947 1)" font-family="Liberation Sans, Arial, Helvetica, sans-serif" font-weight="bold" font-size="65.3" fill="#0000FF">C-O</text>
<text transform="translate(2004.8 495.2) rotate(-90) scale(0.943 1)" font-family="Liberation Sans, Arial, Helvetica, sans-serif" font-weight="bold" font-size="65.3" fill="#0000FF">aromatic C-H</text>
<text transform="translate(682.0 1830.0) scale(0.954 1)" font-family="Liberation Sans, Arial, Helvetica, sans-serif" font-weight="bold" font-size="99" fill="#000">Wavenumbers (cm<tspan font-size="65.3" dy="-44" dx="-3">−</tspan><tspan font-size="65.3" dx="3">1</tspan><tspan dy="44">)</tspan></text>
<text transform="translate(101.1 1222.6) rotate(-90) scale(0.974 1)" font-family="Liberation Sans, Arial, Helvetica, sans-serif" font-weight="bold" font-size="99" fill="#000">Absorbance (a.u.)</text>
</svg>
</body></html>
